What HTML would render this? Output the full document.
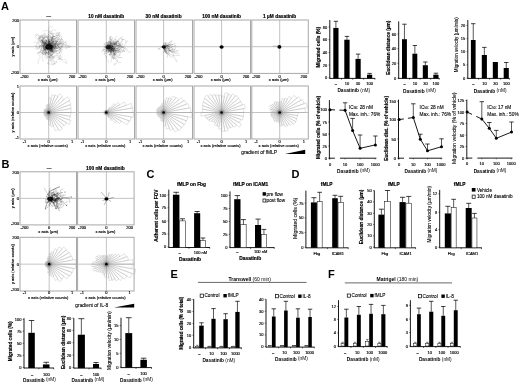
<!DOCTYPE html>
<html><head><meta charset="utf-8"><style>
html,body{margin:0;padding:0;background:#fff;}
svg{display:block;filter:blur(0.25px);}
text{font-family:"Liberation Sans", sans-serif;}
</style></head><body>
<svg width="520" height="384" viewBox="0 0 520 384" font-family='"Liberation Sans", sans-serif'>
<defs><clipPath id="ca0"><rect x="20.00" y="20.00" width="56.50" height="53.40"/></clipPath><clipPath id="ca1"><rect x="78.00" y="20.00" width="56.50" height="53.40"/></clipPath><clipPath id="ca2"><rect x="136.00" y="20.00" width="56.50" height="53.40"/></clipPath><clipPath id="ca3"><rect x="194.00" y="20.00" width="56.50" height="53.40"/></clipPath><clipPath id="ca4"><rect x="251.80" y="20.00" width="56.50" height="53.40"/></clipPath><clipPath id="cb0"><rect x="20.00" y="171.80" width="56.50" height="53.10"/></clipPath><clipPath id="cb1"><rect x="77.60" y="171.80" width="56.50" height="53.10"/></clipPath></defs>
<rect width="520" height="384" fill="#fff"/>
<text x="1.00" y="5.90" font-size="11" text-anchor="start" font-weight="bold" fill="#000" dominant-baseline="central">A</text>
<text x="1.60" y="164.40" font-size="11" text-anchor="start" font-weight="bold" fill="#000" dominant-baseline="central">B</text>
<text x="146.60" y="174.10" font-size="11" text-anchor="start" font-weight="bold" fill="#000" dominant-baseline="central">C</text>
<text x="291.60" y="173.90" font-size="11" text-anchor="start" font-weight="bold" fill="#000" dominant-baseline="central">D</text>
<text x="170.40" y="274.00" font-size="11" text-anchor="start" font-weight="bold" fill="#000" dominant-baseline="central">E</text>
<text x="328.10" y="273.90" font-size="11" text-anchor="start" font-weight="bold" fill="#000" dominant-baseline="central">F</text>
<rect x="20.00" y="20.00" width="56.50" height="53.40" fill="none" stroke="#a8a8a8" stroke-width="1.0"/>
<line x1="20.00" y1="46.70" x2="76.50" y2="46.70" stroke="#9a9a9a" stroke-width="0.6"/>
<line x1="48.70" y1="20.00" x2="48.70" y2="73.40" stroke="#9a9a9a" stroke-width="0.6"/>
<text x="48.70" y="15.90" font-size="5.2" text-anchor="middle" font-weight="bold" fill="#000" stroke="#000" stroke-width="0.18" dominant-baseline="central" textLength="4.8" lengthAdjust="spacingAndGlyphs">—</text>
<text x="24.50" y="76.00" font-size="4.0" text-anchor="middle" fill="#000" stroke="#000" stroke-width="0.15" dominant-baseline="central">-200</text>
<text x="48.70" y="76.00" font-size="4.0" text-anchor="middle" fill="#000" stroke="#000" stroke-width="0.15" dominant-baseline="central">0</text>
<text x="72.00" y="76.00" font-size="4.0" text-anchor="middle" fill="#000" stroke="#000" stroke-width="0.15" dominant-baseline="central">200</text>
<text x="47.70" y="79.90" font-size="4.05" text-anchor="middle" fill="#000" stroke="#000" stroke-width="0.15" dominant-baseline="central">x axis (µm)</text>
<rect x="20.00" y="86.00" width="56.50" height="53.00" fill="none" stroke="#a8a8a8" stroke-width="1.0"/>
<line x1="20.00" y1="112.50" x2="76.50" y2="112.50" stroke="#9a9a9a" stroke-width="0.6"/>
<line x1="48.70" y1="86.00" x2="48.70" y2="139.00" stroke="#9a9a9a" stroke-width="0.6"/>
<text x="24.50" y="141.80" font-size="4.0" text-anchor="middle" fill="#000" stroke="#000" stroke-width="0.15" dominant-baseline="central">-1</text>
<text x="48.70" y="141.80" font-size="4.0" text-anchor="middle" fill="#000" stroke="#000" stroke-width="0.15" dominant-baseline="central">0</text>
<text x="72.00" y="141.80" font-size="4.0" text-anchor="middle" fill="#000" stroke="#000" stroke-width="0.15" dominant-baseline="central">1</text>
<text x="47.70" y="145.60" font-size="4.05" text-anchor="middle" fill="#000" stroke="#000" stroke-width="0.15" dominant-baseline="central">x axis (relative counts)</text>
<path d="M48.7 112.5 L44.05 112.50 A4.65 4.65 0 0 0 44.12 113.31 Z M48.7 112.5 L43.82 113.36 A4.95 4.95 0 0 0 44.04 114.19 Z M48.7 112.5 L43.75 114.30 A5.27 5.27 0 0 0 44.14 115.14 Z M48.7 112.5 L44.19 115.10 A5.21 5.21 0 0 0 44.71 115.85 Z M48.7 112.5 L44.69 115.86 A5.23 5.23 0 0 0 45.34 116.51 Z M48.7 112.5 L45.53 116.28 A4.93 4.93 0 0 0 46.23 116.77 Z M48.7 112.5 L45.73 117.64 A5.94 5.94 0 0 0 46.67 118.08 Z M48.7 112.5 L46.36 118.93 A6.84 6.84 0 0 0 47.51 119.24 Z M48.7 112.5 L47.43 119.72 A7.33 7.33 0 0 0 48.70 119.83 Z M48.7 112.5 L48.70 125.06 A12.56 12.56 0 0 0 50.88 124.86 Z M48.7 112.5 L51.23 126.83 A14.55 14.55 0 0 0 53.68 126.18 Z M48.7 112.5 L55.39 130.88 A19.56 19.56 0 0 0 58.48 129.44 Z M48.7 112.5 L59.32 130.90 A21.24 21.24 0 0 0 62.36 128.77 Z M48.7 112.5 L61.44 127.69 A19.82 19.82 0 0 0 63.89 125.24 Z M48.7 112.5 L64.54 125.79 A20.68 20.68 0 0 0 66.61 122.84 Z M48.7 112.5 L69.23 124.35 A23.71 23.71 0 0 0 70.98 120.61 Z M48.7 112.5 L69.25 119.98 A21.87 21.87 0 0 0 70.24 116.30 Z M48.7 112.5 L70.59 116.36 A22.22 22.22 0 0 0 70.92 112.50 Z M48.7 112.5 L71.09 112.50 A22.39 22.39 0 0 0 70.75 108.61 Z M48.7 112.5 L71.25 108.52 A22.90 22.90 0 0 0 70.22 104.67 Z M48.7 112.5 L70.98 104.39 A23.71 23.71 0 0 0 69.23 100.65 Z M48.7 112.5 L69.87 100.28 A24.45 24.45 0 0 0 67.43 96.78 Z M48.7 112.5 L64.04 99.63 A20.02 20.02 0 0 0 61.57 97.16 Z M48.7 112.5 L62.55 95.99 A21.55 21.55 0 0 0 59.48 93.84 Z M48.7 112.5 L57.93 96.52 A18.45 18.45 0 0 0 55.01 95.16 Z M48.7 112.5 L54.89 95.50 A18.09 18.09 0 0 0 51.84 94.68 Z M48.7 112.5 L51.22 98.18 A14.54 14.54 0 0 0 48.70 97.96 Z M48.7 112.5 L48.70 104.11 A8.39 8.39 0 0 0 47.24 104.24 Z M48.7 112.5 L47.38 105.00 A7.62 7.62 0 0 0 46.09 105.34 Z M48.7 112.5 L46.87 107.46 A5.36 5.36 0 0 0 46.02 107.85 Z M48.7 112.5 L46.45 108.60 A4.51 4.51 0 0 0 45.80 109.05 Z M48.7 112.5 L45.55 108.75 A4.90 4.90 0 0 0 44.95 109.35 Z M48.7 112.5 L44.66 109.11 A5.27 5.27 0 0 0 44.13 109.86 Z M48.7 112.5 L44.31 109.97 A5.07 5.07 0 0 0 43.94 110.77 Z M48.7 112.5 L44.29 110.90 A4.69 4.69 0 0 0 44.08 111.69 Z M48.7 112.5 L43.44 111.57 A5.34 5.34 0 0 0 43.36 112.50 Z" stroke="#a0a0a0" stroke-width="0.3" fill="none" stroke-linejoin="round"/>
<circle cx="48.7" cy="112.5" r="3.0" fill="#000" fill-opacity="0.12"/>
<circle cx="48.7" cy="112.5" r="1.35" fill="#000"/>
<rect x="78.00" y="20.00" width="56.50" height="53.40" fill="none" stroke="#a8a8a8" stroke-width="1.0"/>
<line x1="78.00" y1="46.70" x2="134.50" y2="46.70" stroke="#9a9a9a" stroke-width="0.6"/>
<line x1="106.30" y1="20.00" x2="106.30" y2="73.40" stroke="#9a9a9a" stroke-width="0.6"/>
<text x="106.30" y="15.90" font-size="5.2" text-anchor="middle" font-weight="bold" fill="#000" stroke="#000" stroke-width="0.18" dominant-baseline="central" textLength="36.0" lengthAdjust="spacingAndGlyphs">10 nM dasatinib</text>
<text x="82.50" y="76.00" font-size="4.0" text-anchor="middle" fill="#000" stroke="#000" stroke-width="0.15" dominant-baseline="central">-200</text>
<text x="106.30" y="76.00" font-size="4.0" text-anchor="middle" fill="#000" stroke="#000" stroke-width="0.15" dominant-baseline="central">0</text>
<text x="130.00" y="76.00" font-size="4.0" text-anchor="middle" fill="#000" stroke="#000" stroke-width="0.15" dominant-baseline="central">200</text>
<text x="105.30" y="79.90" font-size="4.05" text-anchor="middle" fill="#000" stroke="#000" stroke-width="0.15" dominant-baseline="central">x axis (µm)</text>
<rect x="78.00" y="86.00" width="56.50" height="53.00" fill="none" stroke="#a8a8a8" stroke-width="1.0"/>
<line x1="78.00" y1="112.50" x2="134.50" y2="112.50" stroke="#9a9a9a" stroke-width="0.6"/>
<line x1="106.30" y1="86.00" x2="106.30" y2="139.00" stroke="#9a9a9a" stroke-width="0.6"/>
<text x="82.50" y="141.80" font-size="4.0" text-anchor="middle" fill="#000" stroke="#000" stroke-width="0.15" dominant-baseline="central">-1</text>
<text x="106.30" y="141.80" font-size="4.0" text-anchor="middle" fill="#000" stroke="#000" stroke-width="0.15" dominant-baseline="central">0</text>
<text x="130.00" y="141.80" font-size="4.0" text-anchor="middle" fill="#000" stroke="#000" stroke-width="0.15" dominant-baseline="central">1</text>
<text x="105.30" y="145.60" font-size="4.05" text-anchor="middle" fill="#000" stroke="#000" stroke-width="0.15" dominant-baseline="central">x axis (relative counts)</text>
<path d="M106.3 112.5 L104.75 112.50 A1.55 1.55 0 0 0 104.78 112.77 Z M106.3 112.5 L104.85 112.76 A1.47 1.47 0 0 0 104.92 113.00 Z M106.3 112.5 L104.64 113.10 A1.76 1.76 0 0 0 104.77 113.38 Z M106.3 112.5 L104.74 113.40 A1.80 1.80 0 0 0 104.92 113.66 Z M106.3 112.5 L105.00 113.59 A1.69 1.69 0 0 0 105.21 113.80 Z M106.3 112.5 L105.14 113.88 A1.81 1.81 0 0 0 105.40 114.07 Z M106.3 112.5 L105.45 113.97 A1.69 1.69 0 0 0 105.72 114.09 Z M106.3 112.5 L105.71 114.13 A1.74 1.74 0 0 0 106.00 114.21 Z M106.3 112.5 L105.99 114.28 A1.81 1.81 0 0 0 106.30 114.31 Z M106.3 112.5 L106.30 114.51 A2.01 2.01 0 0 0 106.65 114.48 Z M106.3 112.5 L106.62 114.34 A1.86 1.86 0 0 0 106.94 114.25 Z M106.3 112.5 L108.17 117.64 A5.47 5.47 0 0 0 109.04 117.24 Z M106.3 112.5 L110.87 120.42 A9.14 9.14 0 0 0 112.18 119.50 Z M106.3 112.5 L115.05 122.93 A13.61 13.61 0 0 0 116.73 121.25 Z M106.3 112.5 L119.66 123.71 A17.44 17.44 0 0 0 121.40 121.22 Z M106.3 112.5 L127.29 124.62 A24.24 24.24 0 0 0 129.08 120.79 Z M106.3 112.5 L130.08 121.16 A25.31 25.31 0 0 0 131.22 116.89 Z M106.3 112.5 L133.23 117.25 A27.34 27.34 0 0 0 133.64 112.50 Z M106.3 112.5 L133.08 112.50 A26.78 26.78 0 0 0 132.68 107.85 Z M106.3 112.5 L132.36 107.91 A26.46 26.46 0 0 0 131.16 103.45 Z M106.3 112.5 L126.12 105.29 A21.09 21.09 0 0 0 124.56 101.96 Z M106.3 112.5 L119.76 104.73 A15.54 15.54 0 0 0 118.20 102.51 Z M106.3 112.5 L115.36 104.89 A11.83 11.83 0 0 0 113.91 103.44 Z M106.3 112.5 L110.31 107.72 A6.25 6.25 0 0 0 109.42 107.09 Z M106.3 112.5 L107.45 110.50 A2.31 2.31 0 0 0 107.09 110.33 Z M106.3 112.5 L107.02 110.52 A2.11 2.11 0 0 0 106.67 110.43 Z M106.3 112.5 L106.65 110.53 A2.00 2.00 0 0 0 106.30 110.50 Z M106.3 112.5 L106.30 110.55 A1.95 1.95 0 0 0 105.96 110.58 Z M106.3 112.5 L105.96 110.55 A1.98 1.98 0 0 0 105.62 110.64 Z M106.3 112.5 L105.70 110.85 A1.76 1.76 0 0 0 105.42 110.98 Z M106.3 112.5 L105.45 111.02 A1.71 1.71 0 0 0 105.20 111.19 Z M106.3 112.5 L105.22 111.21 A1.68 1.68 0 0 0 105.01 111.42 Z M106.3 112.5 L105.05 111.45 A1.63 1.63 0 0 0 104.89 111.69 Z M106.3 112.5 L104.86 111.67 A1.67 1.67 0 0 0 104.73 111.93 Z M106.3 112.5 L104.97 112.02 A1.41 1.41 0 0 0 104.91 112.25 Z M106.3 112.5 L104.81 112.24 A1.51 1.51 0 0 0 104.79 112.50 Z" stroke="#a0a0a0" stroke-width="0.3" fill="none" stroke-linejoin="round"/>
<circle cx="106.3" cy="112.5" r="3.0" fill="#000" fill-opacity="0.12"/>
<circle cx="106.3" cy="112.5" r="1.35" fill="#000"/>
<rect x="136.00" y="20.00" width="56.50" height="53.40" fill="none" stroke="#a8a8a8" stroke-width="1.0"/>
<line x1="136.00" y1="46.70" x2="192.50" y2="46.70" stroke="#9a9a9a" stroke-width="0.6"/>
<line x1="163.60" y1="20.00" x2="163.60" y2="73.40" stroke="#9a9a9a" stroke-width="0.6"/>
<text x="163.60" y="15.90" font-size="5.2" text-anchor="middle" font-weight="bold" fill="#000" stroke="#000" stroke-width="0.18" dominant-baseline="central" textLength="36.0" lengthAdjust="spacingAndGlyphs">30 nM dasatinib</text>
<text x="140.50" y="76.00" font-size="4.0" text-anchor="middle" fill="#000" stroke="#000" stroke-width="0.15" dominant-baseline="central">-200</text>
<text x="163.60" y="76.00" font-size="4.0" text-anchor="middle" fill="#000" stroke="#000" stroke-width="0.15" dominant-baseline="central">0</text>
<text x="188.00" y="76.00" font-size="4.0" text-anchor="middle" fill="#000" stroke="#000" stroke-width="0.15" dominant-baseline="central">200</text>
<text x="162.60" y="79.90" font-size="4.05" text-anchor="middle" fill="#000" stroke="#000" stroke-width="0.15" dominant-baseline="central">x axis (µm)</text>
<rect x="136.00" y="86.00" width="56.50" height="53.00" fill="none" stroke="#a8a8a8" stroke-width="1.0"/>
<line x1="136.00" y1="112.50" x2="192.50" y2="112.50" stroke="#9a9a9a" stroke-width="0.6"/>
<line x1="163.60" y1="86.00" x2="163.60" y2="139.00" stroke="#9a9a9a" stroke-width="0.6"/>
<text x="140.50" y="141.80" font-size="4.0" text-anchor="middle" fill="#000" stroke="#000" stroke-width="0.15" dominant-baseline="central">-1</text>
<text x="163.60" y="141.80" font-size="4.0" text-anchor="middle" fill="#000" stroke="#000" stroke-width="0.15" dominant-baseline="central">0</text>
<text x="188.00" y="141.80" font-size="4.0" text-anchor="middle" fill="#000" stroke="#000" stroke-width="0.15" dominant-baseline="central">1</text>
<text x="162.60" y="145.60" font-size="4.05" text-anchor="middle" fill="#000" stroke="#000" stroke-width="0.15" dominant-baseline="central">x axis (relative counts)</text>
<path d="M163.6 112.5 L157.17 112.50 A6.43 6.43 0 0 0 157.27 113.62 Z M163.6 112.5 L156.80 113.70 A6.91 6.91 0 0 0 157.11 114.86 Z M163.6 112.5 L157.82 114.60 A6.15 6.15 0 0 0 158.28 115.57 Z M163.6 112.5 L157.81 115.84 A6.69 6.69 0 0 0 158.48 116.80 Z M163.6 112.5 L158.71 116.60 A6.38 6.38 0 0 0 159.50 117.39 Z M163.6 112.5 L159.78 117.05 A5.94 5.94 0 0 0 160.63 117.65 Z M163.6 112.5 L160.12 118.53 A6.96 6.96 0 0 0 161.22 119.04 Z M163.6 112.5 L160.69 120.50 A8.51 8.51 0 0 0 162.12 120.88 Z M163.6 112.5 L162.02 121.45 A9.09 9.09 0 0 0 163.60 121.59 Z M163.6 112.5 L163.60 125.78 A13.28 13.28 0 0 0 165.91 125.58 Z M163.6 112.5 L166.52 129.04 A16.79 16.79 0 0 0 169.34 128.28 Z M163.6 112.5 L170.12 130.42 A19.07 19.07 0 0 0 173.14 129.02 Z M163.6 112.5 L174.90 132.07 A22.59 22.59 0 0 0 178.12 129.81 Z M163.6 112.5 L178.91 130.75 A23.82 23.82 0 0 0 181.85 127.81 Z M163.6 112.5 L181.72 127.70 A23.65 23.65 0 0 0 184.08 124.33 Z M163.6 112.5 L184.48 124.55 A24.11 24.11 0 0 0 186.25 120.75 Z M163.6 112.5 L186.65 120.89 A24.53 24.53 0 0 0 187.76 116.76 Z M163.6 112.5 L191.58 117.43 A28.41 28.41 0 0 0 192.01 112.50 Z M163.6 112.5 L190.85 112.50 A27.25 27.25 0 0 0 190.43 107.77 Z M163.6 112.5 L189.26 107.98 A26.06 26.06 0 0 0 188.09 103.59 Z M163.6 112.5 L186.35 104.22 A24.21 24.21 0 0 0 184.57 100.39 Z M163.6 112.5 L183.52 101.00 A23.00 23.00 0 0 0 181.22 97.71 Z M163.6 112.5 L178.79 99.75 A19.83 19.83 0 0 0 176.35 97.31 Z M163.6 112.5 L175.89 97.86 A19.12 19.12 0 0 0 173.16 95.95 Z M163.6 112.5 L171.50 98.82 A15.79 15.79 0 0 0 169.00 97.66 Z M163.6 112.5 L168.68 98.54 A14.85 14.85 0 0 0 166.18 97.87 Z M163.6 112.5 L165.65 100.88 A11.80 11.80 0 0 0 163.60 100.70 Z M163.6 112.5 L163.60 102.68 A9.82 9.82 0 0 0 161.89 102.83 Z M163.6 112.5 L162.20 104.55 A8.07 8.07 0 0 0 160.84 104.92 Z M163.6 112.5 L161.24 106.03 A6.89 6.89 0 0 0 160.16 106.53 Z M163.6 112.5 L160.22 106.64 A6.77 6.77 0 0 0 159.25 107.32 Z M163.6 112.5 L158.93 106.94 A7.26 7.26 0 0 0 158.04 107.83 Z M163.6 112.5 L158.23 107.99 A7.01 7.01 0 0 0 157.53 108.99 Z M163.6 112.5 L157.24 108.83 A7.35 7.35 0 0 0 156.70 109.99 Z M163.6 112.5 L157.11 110.14 A6.90 6.90 0 0 0 156.80 111.30 Z M163.6 112.5 L156.85 111.31 A6.86 6.86 0 0 0 156.74 112.50 Z" stroke="#a0a0a0" stroke-width="0.3" fill="none" stroke-linejoin="round"/>
<circle cx="163.6" cy="112.5" r="3.0" fill="#000" fill-opacity="0.12"/>
<circle cx="163.6" cy="112.5" r="1.35" fill="#000"/>
<rect x="194.00" y="20.00" width="56.50" height="53.40" fill="none" stroke="#a8a8a8" stroke-width="1.0"/>
<line x1="194.00" y1="46.70" x2="250.50" y2="46.70" stroke="#9a9a9a" stroke-width="0.6"/>
<line x1="221.60" y1="20.00" x2="221.60" y2="73.40" stroke="#9a9a9a" stroke-width="0.6"/>
<text x="221.60" y="15.90" font-size="5.2" text-anchor="middle" font-weight="bold" fill="#000" stroke="#000" stroke-width="0.18" dominant-baseline="central" textLength="38.7" lengthAdjust="spacingAndGlyphs">100 nM dasatinib</text>
<text x="198.50" y="76.00" font-size="4.0" text-anchor="middle" fill="#000" stroke="#000" stroke-width="0.15" dominant-baseline="central">-200</text>
<text x="221.60" y="76.00" font-size="4.0" text-anchor="middle" fill="#000" stroke="#000" stroke-width="0.15" dominant-baseline="central">0</text>
<text x="246.00" y="76.00" font-size="4.0" text-anchor="middle" fill="#000" stroke="#000" stroke-width="0.15" dominant-baseline="central">200</text>
<text x="220.60" y="79.90" font-size="4.05" text-anchor="middle" fill="#000" stroke="#000" stroke-width="0.15" dominant-baseline="central">x axis (µm)</text>
<rect x="194.00" y="86.00" width="56.50" height="53.00" fill="none" stroke="#a8a8a8" stroke-width="1.0"/>
<line x1="194.00" y1="112.50" x2="250.50" y2="112.50" stroke="#9a9a9a" stroke-width="0.6"/>
<line x1="221.60" y1="86.00" x2="221.60" y2="139.00" stroke="#9a9a9a" stroke-width="0.6"/>
<text x="198.50" y="141.80" font-size="4.0" text-anchor="middle" fill="#000" stroke="#000" stroke-width="0.15" dominant-baseline="central">-1</text>
<text x="221.60" y="141.80" font-size="4.0" text-anchor="middle" fill="#000" stroke="#000" stroke-width="0.15" dominant-baseline="central">0</text>
<text x="246.00" y="141.80" font-size="4.0" text-anchor="middle" fill="#000" stroke="#000" stroke-width="0.15" dominant-baseline="central">1</text>
<text x="220.60" y="145.60" font-size="4.05" text-anchor="middle" fill="#000" stroke="#000" stroke-width="0.15" dominant-baseline="central">x axis (relative counts)</text>
<path d="M221.6 112.5 L200.78 112.50 A20.82 20.82 0 0 0 201.10 116.12 Z M221.6 112.5 L205.00 115.43 A16.85 16.85 0 0 0 205.76 118.26 Z M221.6 112.5 L206.89 117.85 A15.66 15.66 0 0 0 208.04 120.33 Z M221.6 112.5 L209.06 119.74 A14.48 14.48 0 0 0 210.51 121.81 Z M221.6 112.5 L211.85 120.68 A12.73 12.73 0 0 0 213.42 122.25 Z M221.6 112.5 L213.85 121.74 A12.06 12.06 0 0 0 215.57 122.94 Z M221.6 112.5 L214.56 124.70 A14.08 14.08 0 0 0 216.78 125.73 Z M221.6 112.5 L216.73 125.88 A14.24 14.24 0 0 0 219.13 126.52 Z M221.6 112.5 L218.72 128.85 A16.60 16.60 0 0 0 221.60 129.10 Z M221.6 112.5 L221.60 131.26 A18.76 18.76 0 0 0 224.86 130.97 Z M221.6 112.5 L224.92 131.33 A19.12 19.12 0 0 0 228.14 130.47 Z M221.6 112.5 L227.44 128.56 A17.09 17.09 0 0 0 230.14 127.30 Z M221.6 112.5 L230.54 127.98 A17.87 17.87 0 0 0 233.09 126.19 Z M221.6 112.5 L234.05 127.33 A19.36 19.36 0 0 0 236.43 124.95 Z M221.6 112.5 L239.15 127.23 A22.91 22.91 0 0 0 241.44 123.96 Z M221.6 112.5 L239.23 122.68 A20.36 20.36 0 0 0 240.73 119.46 Z M221.6 112.5 L242.47 120.10 A22.21 22.21 0 0 0 243.47 116.36 Z M221.6 112.5 L243.38 116.34 A22.11 22.11 0 0 0 243.71 112.50 Z M221.6 112.5 L243.81 112.50 A22.21 22.21 0 0 0 243.48 108.64 Z M221.6 112.5 L245.35 108.31 A24.11 24.11 0 0 0 244.26 104.25 Z M221.6 112.5 L242.28 104.97 A22.01 22.01 0 0 0 240.66 101.49 Z M221.6 112.5 L240.73 101.45 A22.09 22.09 0 0 0 238.52 98.30 Z M221.6 112.5 L238.84 98.04 A22.50 22.50 0 0 0 236.06 95.26 Z M221.6 112.5 L235.43 96.02 A21.52 21.52 0 0 0 232.36 93.86 Z M221.6 112.5 L231.33 95.64 A19.46 19.46 0 0 0 228.26 94.21 Z M221.6 112.5 L228.47 93.62 A20.09 20.09 0 0 0 225.09 92.72 Z M221.6 112.5 L224.48 96.18 A16.57 16.57 0 0 0 221.60 95.93 Z M221.6 112.5 L221.60 95.10 A17.40 17.40 0 0 0 218.58 95.36 Z M221.6 112.5 L218.47 94.73 A18.05 18.05 0 0 0 215.43 95.54 Z M221.6 112.5 L215.01 94.38 A19.28 19.28 0 0 0 211.96 95.80 Z M221.6 112.5 L211.13 94.37 A20.93 20.93 0 0 0 208.15 96.47 Z M221.6 112.5 L206.90 94.98 A22.87 22.87 0 0 0 204.08 97.80 Z M221.6 112.5 L205.13 98.68 A21.50 21.50 0 0 0 202.98 101.75 Z M221.6 112.5 L203.51 102.05 A20.89 20.89 0 0 0 201.97 105.35 Z M221.6 112.5 L203.21 105.81 A19.57 19.57 0 0 0 202.32 109.10 Z M221.6 112.5 L202.58 109.15 A19.32 19.32 0 0 0 202.28 112.50 Z" stroke="#a0a0a0" stroke-width="0.3" fill="none" stroke-linejoin="round"/>
<circle cx="221.6" cy="112.5" r="3.0" fill="#000" fill-opacity="0.12"/>
<circle cx="221.6" cy="112.5" r="1.35" fill="#000"/>
<rect x="251.80" y="20.00" width="56.50" height="53.40" fill="none" stroke="#a8a8a8" stroke-width="1.0"/>
<line x1="251.80" y1="46.70" x2="308.30" y2="46.70" stroke="#9a9a9a" stroke-width="0.6"/>
<line x1="279.70" y1="20.00" x2="279.70" y2="73.40" stroke="#9a9a9a" stroke-width="0.6"/>
<text x="279.70" y="15.90" font-size="5.2" text-anchor="middle" font-weight="bold" fill="#000" stroke="#000" stroke-width="0.18" dominant-baseline="central" textLength="33.2" lengthAdjust="spacingAndGlyphs">1 µM dasatinib</text>
<text x="256.30" y="76.00" font-size="4.0" text-anchor="middle" fill="#000" stroke="#000" stroke-width="0.15" dominant-baseline="central">-200</text>
<text x="279.70" y="76.00" font-size="4.0" text-anchor="middle" fill="#000" stroke="#000" stroke-width="0.15" dominant-baseline="central">0</text>
<text x="303.80" y="76.00" font-size="4.0" text-anchor="middle" fill="#000" stroke="#000" stroke-width="0.15" dominant-baseline="central">200</text>
<text x="278.70" y="79.90" font-size="4.05" text-anchor="middle" fill="#000" stroke="#000" stroke-width="0.15" dominant-baseline="central">x axis (µm)</text>
<rect x="251.80" y="86.00" width="56.50" height="53.00" fill="none" stroke="#a8a8a8" stroke-width="1.0"/>
<line x1="251.80" y1="112.50" x2="308.30" y2="112.50" stroke="#9a9a9a" stroke-width="0.6"/>
<line x1="279.70" y1="86.00" x2="279.70" y2="139.00" stroke="#9a9a9a" stroke-width="0.6"/>
<text x="256.30" y="141.80" font-size="4.0" text-anchor="middle" fill="#000" stroke="#000" stroke-width="0.15" dominant-baseline="central">-1</text>
<text x="279.70" y="141.80" font-size="4.0" text-anchor="middle" fill="#000" stroke="#000" stroke-width="0.15" dominant-baseline="central">0</text>
<text x="303.80" y="141.80" font-size="4.0" text-anchor="middle" fill="#000" stroke="#000" stroke-width="0.15" dominant-baseline="central">1</text>
<text x="278.70" y="145.60" font-size="4.05" text-anchor="middle" fill="#000" stroke="#000" stroke-width="0.15" dominant-baseline="central">x axis (relative counts)</text>
<path d="M279.7 112.5 L270.83 112.50 A8.87 8.87 0 0 0 270.96 114.04 Z M279.7 112.5 L270.84 114.06 A9.00 9.00 0 0 0 271.24 115.58 Z M279.7 112.5 L271.22 115.59 A9.03 9.03 0 0 0 271.88 117.01 Z M279.7 112.5 L272.43 116.70 A8.39 8.39 0 0 0 273.27 117.89 Z M279.7 112.5 L272.95 118.17 A8.82 8.82 0 0 0 274.03 119.25 Z M279.7 112.5 L273.42 119.99 A9.78 9.78 0 0 0 274.81 120.97 Z M279.7 112.5 L274.59 121.35 A10.22 10.22 0 0 0 276.21 122.10 Z M279.7 112.5 L276.65 120.88 A8.92 8.92 0 0 0 278.15 121.29 Z M279.7 112.5 L277.95 122.43 A10.08 10.08 0 0 0 279.70 122.58 Z M279.7 112.5 L279.70 125.88 A13.38 13.38 0 0 0 282.02 125.68 Z M279.7 112.5 L281.95 125.23 A12.93 12.93 0 0 0 284.12 124.65 Z M279.7 112.5 L284.92 126.84 A15.26 15.26 0 0 0 287.33 125.72 Z M279.7 112.5 L287.23 125.55 A15.07 15.07 0 0 0 289.39 124.04 Z M279.7 112.5 L290.55 125.43 A16.88 16.88 0 0 0 292.63 123.35 Z M279.7 112.5 L293.83 124.36 A18.45 18.45 0 0 0 295.67 121.72 Z M279.7 112.5 L295.54 121.65 A18.29 18.29 0 0 0 296.89 118.76 Z M279.7 112.5 L296.71 118.69 A18.10 18.10 0 0 0 297.52 115.64 Z M279.7 112.5 L297.75 115.68 A18.32 18.32 0 0 0 298.02 112.50 Z M279.7 112.5 L305.31 112.50 A25.61 25.61 0 0 0 304.92 108.05 Z M279.7 112.5 L307.48 107.60 A28.21 28.21 0 0 0 306.20 102.85 Z M279.7 112.5 L304.15 103.60 A26.02 26.02 0 0 0 302.23 99.49 Z M279.7 112.5 L300.99 100.21 A24.58 24.58 0 0 0 298.53 96.70 Z M279.7 112.5 L296.87 98.09 A22.41 22.41 0 0 0 294.11 95.33 Z M279.7 112.5 L291.63 98.28 A18.56 18.56 0 0 0 288.98 96.43 Z M279.7 112.5 L287.42 99.13 A15.44 15.44 0 0 0 284.98 97.99 Z M279.7 112.5 L284.55 99.16 A14.19 14.19 0 0 0 282.16 98.52 Z M279.7 112.5 L281.62 101.63 A11.04 11.04 0 0 0 279.70 101.46 Z M279.7 112.5 L279.70 102.30 A10.20 10.20 0 0 0 277.93 102.46 Z M279.7 112.5 L277.79 101.64 A11.03 11.03 0 0 0 275.93 102.14 Z M279.7 112.5 L275.76 101.69 A11.51 11.51 0 0 0 273.95 102.53 Z M279.7 112.5 L274.47 103.45 A10.45 10.45 0 0 0 272.98 104.49 Z M279.7 112.5 L272.75 104.22 A10.81 10.81 0 0 0 271.42 105.55 Z M279.7 112.5 L270.56 104.83 A11.93 11.93 0 0 0 269.37 106.53 Z M279.7 112.5 L271.30 107.65 A9.70 9.70 0 0 0 270.59 109.18 Z M279.7 112.5 L270.41 109.12 A9.88 9.88 0 0 0 269.97 110.78 Z M279.7 112.5 L271.99 111.14 A7.83 7.83 0 0 0 271.87 112.50 Z" stroke="#a0a0a0" stroke-width="0.3" fill="none" stroke-linejoin="round"/>
<circle cx="279.7" cy="112.5" r="3.0" fill="#000" fill-opacity="0.12"/>
<circle cx="279.7" cy="112.5" r="1.35" fill="#000"/>
<text x="19.00" y="20.50" font-size="4.0" text-anchor="end" fill="#000" stroke="#000" stroke-width="0.15" dominant-baseline="central">200</text>
<text x="19.00" y="46.70" font-size="4.0" text-anchor="end" fill="#000" stroke="#000" stroke-width="0.15" dominant-baseline="central">0</text>
<text x="19.00" y="72.10" font-size="4.0" text-anchor="end" fill="#000" stroke="#000" stroke-width="0.15" dominant-baseline="central">-200</text>
<text x="12.40" y="46.70" font-size="4.0" text-anchor="middle" transform="rotate(-90 12.40 46.70)" fill="#000" stroke="#000" stroke-width="0.15" dominant-baseline="central">y axis (µm)</text>
<text x="19.00" y="86.50" font-size="4.0" text-anchor="end" fill="#000" stroke="#000" stroke-width="0.15" dominant-baseline="central">1</text>
<text x="19.00" y="112.50" font-size="4.0" text-anchor="end" fill="#000" stroke="#000" stroke-width="0.15" dominant-baseline="central">0</text>
<text x="19.00" y="137.70" font-size="4.0" text-anchor="end" fill="#000" stroke="#000" stroke-width="0.15" dominant-baseline="central">-1</text>
<text x="12.40" y="112.50" font-size="4.0" text-anchor="middle" transform="rotate(-90 12.40 112.50)" fill="#000" stroke="#000" stroke-width="0.15" dominant-baseline="central">y axis (relative counts)</text>
<path d="M54.9 51.5 L53.7 50.6 L52.6 49.6 L51.4 50.1 L52.0 51.4 L52.3 52.8 L52.4 54.2 L51.7 55.3 L52.3 56.6 M49.7 45.4 L48.4 45.4 L49.6 44.2 L51.0 43.3 L52.3 42.1 L53.7 42.8 L55.0 43.6 L55.1 45.0 L55.7 46.3 L56.0 47.7 L54.9 48.5 L53.6 48.3 L52.3 47.9 L51.5 48.9 L50.3 49.5 L49.0 49.9 L47.8 49.3 L46.7 48.3 M54.1 45.5 L55.2 44.3 L55.9 42.7 L55.8 41.1 L57.4 41.4 L59.0 41.5 L60.2 42.5 L60.6 43.9 L61.3 45.1 L62.9 44.4 L64.3 45.1 L65.9 45.3 L67.0 46.3 L68.5 45.6 M47.9 50.7 L47.4 49.3 L46.8 47.9 L47.2 46.3 L47.8 44.8 L48.9 43.4 L48.5 41.9 L49.0 40.3 L50.7 39.9 L52.0 38.9 L51.4 37.5 L50.2 36.9 L49.6 35.4 L48.6 36.3 L47.6 37.2 L48.0 38.5 L48.6 39.8 L49.6 41.0 L50.5 42.2 L49.4 42.9 L48.1 43.1 M55.0 45.1 L56.6 44.5 L58.1 43.8 L59.7 43.3 L60.0 41.7 L61.0 40.3 L61.1 38.7 M39.9 44.8 L38.6 44.2 L38.8 42.6 L39.1 41.0 L39.4 39.4 L40.2 37.9 L38.9 37.5 L38.9 35.8 L37.7 35.1 L36.9 33.9 L35.6 34.2 L35.3 35.5 M48.1 53.3 L47.6 51.8 L46.3 51.7 L44.9 51.7 L43.9 52.4 L42.5 52.1 L42.2 53.4 L42.4 54.8 M46.3 42.8 L47.6 43.7 L47.2 45.0 L45.8 45.0 L45.7 46.3 L44.9 47.4 L46.4 48.0 L47.9 48.5 M57.4 44.9 L59.0 44.4 L60.6 43.9 L61.5 42.6 L63.2 42.6 M53.3 44.9 L53.8 46.2 L53.7 47.5 L52.8 48.4 L52.1 49.6 L53.0 50.8 L54.4 51.5 L54.5 52.9 L53.4 53.5 L52.1 54.0 L51.5 55.2 L50.5 56.0 L49.8 54.6 L51.0 53.4 M47.0 45.5 L46.1 44.3 L45.3 43.0 L45.9 41.4 L47.5 41.3 L48.7 42.2 L48.1 43.4 L48.2 44.8 L49.7 45.3 L50.7 46.4 L49.6 45.6 L48.7 44.3 L47.4 44.7 L46.1 44.7 L45.9 43.1 L44.7 42.5 L44.2 41.0 L43.0 40.1 L43.5 38.6 L44.9 37.6 M50.9 53.7 L51.1 55.1 L52.5 55.9 L51.2 56.2 L50.0 56.6 L49.8 57.9 L49.7 59.3 L49.4 60.6 L48.8 61.8 L48.4 63.1 L47.1 63.2 L48.4 64.0 L50.1 64.0 L51.7 63.7 L51.7 65.0 L53.3 64.4 L54.6 63.4 L54.4 61.8 L53.4 60.8 L53.1 59.2 L53.5 57.6 M55.5 43.3 L56.5 44.4 L57.9 45.1 L57.8 46.5 L59.0 47.4 L57.9 48.1 L56.7 48.5 L55.5 49.1 L54.2 49.3 L53.1 48.4 L54.3 47.2 L55.4 45.9 L56.0 44.3 L57.2 43.2 L57.4 41.6 L56.0 41.7 L55.1 40.6 M48.2 50.2 L47.7 51.4 L47.0 52.6 L45.9 51.6 L45.5 50.1 L45.5 48.4 L46.3 47.0 L46.6 45.4 L47.1 43.8 L45.8 43.1 L45.1 41.8 L43.8 41.4 L42.5 41.8 L41.2 41.1 L41.0 39.6 L39.7 39.0 L40.8 37.8 L41.2 36.2 L42.6 35.2 L44.1 35.6 L45.5 36.3 L46.8 37.2 L45.7 37.9 L44.4 37.3 M51.5 38.4 L50.6 39.4 L51.0 40.7 L52.3 41.6 L53.8 42.1 L54.6 43.3 L54.9 44.7 L53.8 45.5 L53.8 46.9 L52.6 47.4 L51.9 48.5 L51.6 49.9 L50.4 49.1 L49.3 48.2 L48.0 47.5 L46.7 47.1 M48.2 51.9 L48.2 53.3 L47.0 53.9 L45.9 54.5 L44.6 54.6 L43.3 54.0 L42.1 53.3 L42.9 51.8 M56.7 51.0 L55.4 51.0 L54.2 51.6 L53.1 52.2 L52.0 51.3 L52.4 49.7 L53.9 48.8 L55.5 48.2 L57.0 47.5 L58.5 48.1 L60.0 48.6 L61.5 47.8 L62.3 46.3 L62.9 44.8 L64.0 43.5 L64.5 44.8 L66.1 44.6 L67.6 45.2 L69.2 45.6 L70.5 46.4 L70.0 47.6 L68.7 47.3 L67.3 47.3 L66.2 48.0 M44.2 45.4 L42.9 45.2 L41.9 44.1 L41.5 42.6 L42.5 41.3 L43.5 39.9 L43.2 38.3 L41.8 38.1 M53.4 44.3 L54.2 45.5 L52.9 45.7 L51.7 45.0 L50.3 45.0 L49.4 45.9 L48.1 45.2 L47.2 46.2 L47.2 47.6 L47.2 49.0 M50.5 45.8 L49.5 44.7 L50.3 43.2 L51.7 42.3 L52.7 40.9 L54.0 41.8 M41.7 46.0 L42.6 47.2 L43.9 48.1 L44.5 49.4 L45.3 50.6 L45.5 52.0 L46.0 50.4 L47.1 49.1 L47.1 47.5 L48.3 46.4 L49.9 46.2 L51.2 47.1 L52.8 47.4 M51.4 44.3 L51.8 42.7 L53.2 43.4 L53.8 44.7 L55.0 43.5 L56.7 43.5 M44.1 44.8 L43.5 45.9 L43.3 47.3 L44.8 47.7 L46.4 48.1 L47.6 48.9 L46.6 49.7 M48.0 40.9 L48.6 39.4 L48.0 37.9 L48.3 36.3 L48.6 34.7 L49.2 33.1 L48.9 31.6 L47.6 30.9 L46.3 30.6 L44.9 30.6 L43.7 31.0 L42.4 30.9 M51.9 47.9 L51.2 46.6 L51.6 45.0 L52.0 43.4 L52.6 41.8 L51.7 40.7 L50.5 39.8 L49.2 39.9 L48.5 41.1 L48.7 42.4 L50.4 42.4 M50.0 50.4 L49.7 51.7 L48.6 52.3 L48.3 50.8 L47.0 50.5 L45.6 50.6 L45.4 49.1 L45.6 47.5 M50.2 37.5 L51.3 38.5 L51.6 39.9 L52.6 41.0 L54.2 41.2 L54.4 39.6 L53.2 38.8 L53.4 37.2 L53.4 35.5 L52.0 35.2 L52.0 33.6 L50.7 33.8 L50.1 32.4 L49.1 31.3 L48.6 29.8 L49.0 28.2 L49.8 26.7 L51.4 26.8 L53.0 26.9 M48.4 43.1 L49.6 43.9 L49.8 45.3 L48.5 45.5 L49.9 44.5 L51.5 44.6 L52.9 45.3 L54.2 44.2 L55.2 42.9 L55.8 44.2 L55.7 45.6 L55.7 46.9 L55.3 48.2 M42.1 42.4 L42.4 43.7 L41.4 44.6 L40.6 45.6 L39.4 46.2 L39.5 47.6 L38.9 48.8 L37.7 49.1 L37.3 47.6 L38.8 47.0 L40.5 47.0 L42.1 46.9 L43.3 45.7 L43.7 44.1 L44.9 42.9 L46.5 42.4 L48.1 41.9 L48.4 43.3 L47.8 44.5 L47.2 45.7 L46.9 47.0 L46.4 48.2 L47.3 49.4 M45.8 47.1 L46.5 48.4 L47.4 49.5 L46.5 50.5 L45.7 51.5 L44.7 50.4 L44.2 48.9 L43.1 49.6 L42.1 48.6 L40.9 47.9 L41.0 49.3 L40.9 50.6 L40.6 51.9 L42.0 52.6 M47.3 47.9 L46.9 49.2 L45.6 49.2 L47.0 49.9 L48.7 49.5 L50.3 49.4 L49.1 48.6 L48.7 47.1 L49.7 45.7 L49.5 44.1 L48.8 42.7 L47.4 42.6 L46.1 42.5 L44.7 42.4 L43.4 42.4 L42.8 43.6 L41.8 44.4 L41.1 45.5 L39.8 45.5 L38.5 45.0 M43.8 39.9 L42.8 40.8 L41.4 40.5 L40.1 40.2 L40.2 41.6 L41.8 42.0 L42.8 43.1 L44.4 42.9 M54.1 45.3 L54.9 43.9 L54.2 45.0 L53.8 46.2 L52.7 46.9 L52.7 48.3 L53.9 49.3 L55.1 50.2 L56.3 51.2 L57.9 51.1 L59.3 51.9 M43.1 50.2 L43.7 48.6 L42.9 47.3 L42.0 48.3 L41.0 49.1 L41.2 50.5 L42.8 51.0 L44.3 50.4 L45.2 49.0 L44.7 47.5 L43.4 47.3 L43.7 45.7 L43.1 44.2 L43.9 42.8 L42.8 41.8 L42.3 40.3 L41.0 40.4 L39.8 41.1 M52.2 43.6 L52.6 44.9 L52.1 46.2 L53.0 47.3 L54.2 48.2 L55.4 49.2 L56.6 47.9 M49.3 42.4 L49.2 40.8 L48.5 41.9 L48.0 43.1 L48.0 44.5 M45.9 43.7 L47.6 43.6 L48.9 44.4 L50.6 44.5 L50.4 45.8 L49.2 46.4 L49.1 47.7 L49.3 49.1 M43.2 45.2 L44.5 46.0 L45.3 44.5 L45.8 42.9 L47.5 42.9 L49.1 43.0 L49.4 44.4 L48.6 45.4 L47.6 44.3 L47.3 42.8 L46.3 41.7 L45.7 40.3 L47.2 40.9 L48.9 40.7 L48.6 39.2 L50.2 39.4 M51.3 43.2 L50.7 44.4 L49.9 45.4 L50.0 46.8 L50.7 48.1 L51.9 49.0 L51.7 50.3 L51.7 51.7 L50.4 51.7 L49.7 52.8 L49.8 54.2 L50.6 55.4 L52.1 56.1 L53.6 56.7 L53.8 58.0 L52.6 58.6 L52.7 59.9 L51.4 60.2 L50.0 60.2 M56.1 45.0 L57.7 44.7 L59.0 43.7 L60.4 42.7 L61.9 41.9 L63.5 41.5 L63.2 40.0 L61.9 39.8 L60.6 39.5 L59.3 38.8 L58.0 38.9 M42.7 51.1 L42.4 52.4 L41.1 52.5 L40.3 51.3 L40.6 49.7 L41.7 48.4 L41.5 46.8 L41.3 45.2 L41.6 43.6 L42.8 42.4 L44.3 41.8 L44.8 40.2 L44.4 38.7 L43.6 37.4 L42.5 36.4 L41.2 36.6 L42.0 37.8 L43.7 37.5 L45.3 37.7 L46.9 37.9 L48.2 38.8 M42.2 44.0 L42.0 42.4 L40.7 42.7 L40.0 41.4 L39.3 40.0 L38.1 39.3 L36.9 38.4 L35.8 37.6 L35.6 36.1 L37.0 35.1 L38.6 35.4 L39.9 36.2 L40.3 37.6 L39.5 38.6 L38.2 38.1 L38.4 39.5 L38.1 40.8 L37.6 42.1 L37.0 43.2 L36.7 44.5 L36.4 45.9 L35.6 46.9 M50.5 46.2 L49.2 45.9 L49.4 47.3 L50.5 48.4 L52.1 48.4 L52.1 46.8 L50.9 47.4 L50.2 48.5 L50.3 49.9 L49.2 48.9 L49.3 47.3 L48.3 46.2 L47.0 45.7 L46.1 46.6 L46.2 48.0 L46.9 49.3 L47.7 50.6 L49.1 51.2 M53.0 48.3 L53.0 46.7 L52.5 45.2 L51.3 45.8 L50.4 46.8 L51.7 47.6 L53.0 48.4 L51.8 47.9 L51.9 46.3 L53.5 46.5 L53.8 47.9 L55.5 47.6 L57.1 48.0 L58.6 48.5 L59.7 49.5 L61.3 49.2 L60.6 47.8 M58.1 50.5 L56.8 50.4 L56.5 51.7 L55.2 52.1 L53.9 52.2 L52.6 52.6 L51.7 53.5 M49.4 46.2 L51.1 45.8 L52.6 45.3 L53.4 43.8 L55.1 43.8 L55.5 45.1 L55.0 46.3 L56.6 46.6 L58.2 46.2 L59.3 47.3 L60.4 48.3 M54.8 43.9 L56.2 43.0 L57.2 41.7 L57.9 40.1 L57.7 38.6 L56.4 37.9 L57.2 36.4 L57.8 34.8 L59.3 34.0 L59.1 32.5 L58.2 33.3 L57.8 34.6 L56.9 35.6 L57.0 37.0 L56.3 38.1 L55.0 38.3 L54.0 39.1 L53.0 39.9 L53.0 41.3 L51.7 41.7 L51.6 40.1 L52.2 38.6 L52.1 37.0 M46.9 44.6 L45.6 44.8 L45.5 46.1 L45.5 47.5 L44.1 47.6 L44.4 46.0 L44.1 44.4 L44.9 43.0 L45.3 44.3 L44.1 45.0 L45.7 45.5 L47.0 46.3 L45.6 46.3 L45.3 47.6 L44.0 47.9 L45.3 48.8 L44.4 49.8 L44.7 51.2 M52.9 49.3 L52.0 48.1 L51.1 49.0 L50.1 49.9 L50.4 51.3 L49.2 51.7 L48.3 52.7 L48.8 54.0 L48.3 55.2 L46.9 55.0 L45.6 54.9 L44.3 54.5 L43.3 53.4 L42.0 52.9 L41.3 54.1 L40.1 54.6 L39.1 55.5 L40.1 56.6 L39.9 58.0 L39.0 59.0 L38.1 59.9 L38.1 61.2 L38.4 62.6 L37.9 63.8 M51.6 42.4 L53.2 41.7 L54.7 42.2 L56.0 41.1 L57.6 41.3 L57.1 42.5 M53.5 46.2 L53.9 44.6 L55.2 45.4 L56.2 44.1 L55.6 42.7 L56.1 41.1 L55.7 39.6 L54.6 38.6 L53.4 39.2 L53.0 37.7 L51.9 36.8 L50.6 36.3 L50.7 37.6 L49.7 38.6 L48.8 39.5 L47.5 39.8 L47.3 38.2 L47.3 36.6 M44.9 41.6 L46.3 40.6 L47.4 39.3 L48.3 37.9 L49.8 37.2 L50.4 35.7 L51.4 34.3 L53.0 33.9 L54.6 33.4 L56.2 32.9 L57.8 33.2 L58.9 34.2 L58.2 35.4 L59.1 36.5 L58.3 37.6 L57.7 38.8 L58.8 39.8 L60.3 40.3 L61.4 39.0 L62.3 37.6 M53.8 36.7 L53.0 37.7 L51.7 37.7 L51.6 39.1 L51.6 40.5 L52.6 39.2 L52.5 37.6 L53.4 36.2 L55.0 36.3 L54.8 37.6 L54.7 39.0 L55.8 40.0 L57.3 40.6 L57.6 39.0 L59.3 38.8 L60.1 40.0 M46.1 53.0 L45.2 51.8 L44.4 52.9 L43.3 53.5 L43.6 54.9 L42.4 55.4 L42.3 56.8 L42.0 58.1 L42.4 59.5 L42.7 60.9 L43.7 61.9 M53.0 48.1 L52.9 49.5 L53.9 50.7 L55.3 51.3 L55.8 52.7 L56.3 54.0 L57.9 53.5 L59.4 52.7 L60.5 51.5 L60.3 49.9 L60.4 48.3 L59.1 47.6 L57.8 47.3 L57.1 48.4 L56.0 47.5 L54.7 47.0 L53.7 45.9 L53.1 44.5 L53.4 42.9 L53.5 41.3 L54.7 40.1 M50.2 35.9 L48.9 36.3 L47.6 36.3 L46.4 36.9 L48.0 37.0 L47.6 35.5 L46.2 35.4 L45.0 35.9 L45.5 37.2 L44.1 36.8 L43.1 35.8 L42.0 34.9 L40.8 35.4 L39.8 36.3 L39.2 37.4 L39.1 38.8 L39.2 40.2 L38.2 41.0 M42.7 46.6 L43.5 45.2 L43.8 43.5 L42.7 42.7 L42.7 41.1 L42.2 39.6 L43.4 38.3 L44.9 37.6 L46.2 36.5 L47.7 35.7 L48.9 34.5 L47.9 33.5 L48.8 32.1 L50.2 31.0 L51.7 31.6 L52.2 30.1 L53.8 29.6 L55.2 30.3 L56.7 30.9 M41.2 46.1 L40.0 45.5 L38.8 46.2 L37.8 47.0 L36.8 47.9 L35.9 46.7 L34.9 45.6 L36.5 45.3 M45.0 45.2 L44.1 43.9 L43.8 42.3 L42.8 41.3 L41.6 40.6 L42.3 39.1 L42.4 37.5 L42.8 35.9 L43.9 34.6 L45.5 34.9 L45.3 33.3 L44.0 33.3 L44.0 34.7 L44.3 36.1 L43.8 37.3 L42.5 37.6 L41.4 38.3 L40.7 36.9 L39.9 35.7 M52.5 42.7 L51.1 42.8 L50.1 41.7 L51.5 40.8 L52.5 39.4 L51.7 38.0 L52.2 36.5 L53.1 35.1 L53.3 33.4 L52.0 33.0 L51.4 31.5 L50.6 32.6 L50.5 34.0 L49.2 34.3 L48.1 35.0 M51.5 47.7 L52.3 48.9 L53.5 49.8 L55.0 49.0 L56.3 47.9 L56.7 46.3 L57.6 44.9 L59.2 45.2 L60.2 46.3 L61.8 46.7 L63.2 47.3 L64.7 47.9 L66.3 47.9 L66.8 49.2 M52.2 47.1 L50.9 46.4 L51.0 44.8 L50.8 43.2 L50.6 41.7 L50.0 40.3 L50.0 38.6 L50.1 37.0 L51.7 37.0 L53.4 36.9 L55.0 36.3 L55.8 37.5 L55.5 38.8 L54.4 39.5 L53.0 39.5 L51.7 39.5 L50.4 39.0 L49.4 37.9 L48.6 36.6 L48.0 37.8 L46.7 37.1 L45.4 37.1 L44.4 38.0 L43.7 39.1 M46.8 42.2 L48.3 41.5 L50.0 41.5 L50.6 39.9 L52.0 39.0 L52.0 37.4 L53.0 36.1 L53.0 34.4 L52.1 33.2 L50.9 33.7 M44.6 44.8 L44.5 43.2 L43.3 42.4 L42.0 41.9 L40.6 41.7 L39.5 42.3 L38.4 43.0 L37.1 43.3 L36.1 42.2 L34.8 42.1 L33.5 42.3 M49.1 50.6 L48.0 49.6 L47.6 48.1 L46.4 47.3 L45.3 48.0 L46.5 48.8 L48.1 49.0 L49.8 48.8 L50.0 47.2 L51.2 46.1 L52.7 45.2 M48.7 43.6 L50.4 43.4 L51.8 42.5 L53.3 43.2 L54.1 41.7 L53.4 40.4 L55.0 39.7 M53.9 52.3 L52.6 51.8 L52.1 50.3 L51.5 48.9 L52.8 47.8 L54.4 47.3 L54.5 45.7 L55.6 46.7 L56.5 47.9 L55.7 48.9 L55.8 50.3 L57.2 51.1 M53.2 49.0 L52.6 47.6 L52.0 48.8 L50.6 48.6 L50.1 49.8 L48.8 50.2 L47.9 49.1 L47.3 47.7 L48.7 46.8 L50.4 46.4 L52.0 46.4 L53.6 46.5 L55.1 47.1 L56.2 48.2 L57.8 48.0 M49.5 44.2 L48.7 45.2 L47.4 45.5 L48.2 46.7 L48.9 48.0 L47.6 48.1 L46.3 48.1 L45.9 46.6 L45.0 45.3 L44.8 43.8 L45.1 42.2 L43.9 42.8 L43.7 44.1 L42.6 43.2 L41.3 43.5 L40.6 42.1 M56.6 45.5 L58.2 45.0 L59.7 45.4 L61.0 46.3 L62.6 45.9 L63.9 44.9 L63.4 43.4 L62.5 42.2 L61.6 41.0 L60.3 41.3 L61.2 42.4 L61.1 43.8 M54.8 42.1 L54.7 40.5 L56.2 40.9 L57.5 41.7 L58.8 40.5 L60.2 41.2 L60.9 42.5 L59.7 43.0 L58.4 42.5 L57.5 41.4 L58.5 40.1 L59.2 38.5 L60.2 37.2 L59.7 35.7 L58.3 35.7 L57.0 35.3 L55.8 34.7 L55.4 35.9 L54.5 36.9 L53.2 36.5 L52.6 37.7 L52.5 39.1 L51.2 38.5 L50.1 39.2 M52.0 48.8 L52.6 50.1 L52.8 51.5 L52.8 52.9 L54.4 53.1 M50.7 42.5 L50.1 43.7 L51.7 43.5 L52.8 44.6 L53.7 45.8 L55.3 45.6 L55.9 44.1 L57.6 43.7 L58.7 42.4 L59.8 41.1 L60.9 39.9 L62.6 39.9 L61.4 39.0 L61.9 37.4 L61.2 36.0 L60.1 35.1 L59.7 33.6 L59.8 32.0 L58.9 32.9 L57.5 33.0 L56.3 33.3 L56.1 34.7 L56.8 36.0 L58.3 35.2 M52.8 51.6 L51.8 50.6 L50.4 50.6 L49.9 51.8 L49.3 53.0 L48.3 52.0 L48.7 50.4 L50.2 49.6 L50.5 48.0 L51.9 47.1 L52.5 45.5 L51.8 44.1 L52.1 42.5 L52.3 40.9 L53.3 42.0 L54.1 43.2 L55.3 44.2 M52.7 41.1 L54.1 41.8 L55.7 41.8 L56.4 43.1 L58.1 43.1 L59.6 43.6 L61.2 43.4 L62.8 43.6 L64.2 42.7 L65.9 42.7 L67.3 43.4 L66.3 44.3 L65.9 45.6 L64.9 46.4 L66.2 47.2 L67.8 47.0 L69.5 47.1 L70.1 45.5 M49.3 42.1 L50.8 42.6 L51.6 43.8 L53.1 44.4 L54.4 45.2 L55.2 46.5 L55.1 47.8 L54.3 48.8 L53.4 47.6 M47.1 45.1 L47.3 46.5 L48.2 47.6 L49.7 48.1 L50.8 49.2 L52.2 49.9 L53.8 50.3 L55.3 50.7 L57.0 50.7 L58.6 50.6 L59.7 49.3 L59.9 47.7 L58.7 46.9 L58.4 45.4 L59.4 44.0 L61.0 43.5 L62.7 43.4 L64.1 42.5 L65.7 42.4 L65.9 40.7 L65.2 41.8 M44.9 51.7 L46.2 52.5 L46.2 53.9 L44.9 53.5 L44.4 52.0 L44.3 50.4 L45.7 49.4 L46.6 48.0 L47.9 48.8 L49.4 48.0 L50.0 46.5 L50.7 45.0 L50.3 43.5 L51.9 43.0 L53.4 43.6 L55.0 43.0 L55.4 44.4 L54.1 44.8 M48.2 52.0 L49.0 50.5 L50.2 49.3 L51.7 49.7 L51.4 51.0 L50.1 50.4 L48.8 50.6 L49.5 51.9 M42.9 51.7 L44.1 52.7 L45.2 53.8 L45.5 55.2 L45.2 56.5 L44.8 57.8 L45.8 58.9 L47.4 58.2 L49.0 57.7 L50.5 57.1 L51.4 58.2 L53.1 58.0 L52.6 56.6 L51.7 57.6 L50.9 58.6 L50.0 57.4 L48.8 56.7 L47.5 56.9 M51.2 51.9 L50.9 53.2 L51.0 54.5 L50.9 55.9 L50.3 57.1 L49.4 55.9 L49.3 57.3 L50.1 58.5 L50.2 59.9 L50.8 61.2 L51.5 62.5 L52.6 63.6 L54.3 63.4 L55.7 63.9 M54.9 44.3 L56.3 44.9 L57.8 45.4 L59.0 44.2 L60.2 45.1 L59.2 45.9 L58.4 47.0 L57.9 45.5 L58.6 44.0 L57.3 43.7 L56.2 42.7 L55.4 41.4 L55.3 39.8 M52.4 43.9 L51.7 45.0 L51.2 46.2 L52.7 45.4 L53.0 46.8 L52.5 48.0 L54.1 48.2 L55.7 47.4 L56.3 45.9 L57.9 45.4 L58.9 44.0 L60.6 44.3 L62.2 43.8 M53.5 43.3 L52.5 44.1 L51.2 44.2 L51.7 45.6 L53.3 45.9 L55.0 45.6 L54.6 46.9 L53.8 47.9 L55.2 48.7 L54.1 47.7 L55.4 46.6 L57.0 46.0 L57.1 44.4 L58.4 43.4 L60.1 43.6 M58.3 46.5 L59.5 47.4 L61.1 47.7 L62.4 46.7 L63.0 45.1 L61.9 44.2 L61.1 45.2 L61.8 46.4 L62.0 47.8 L62.1 49.2 L62.3 50.6 M51.6 48.7 L51.6 50.1 L51.2 51.3 L51.4 52.7 L50.2 53.3 L49.5 52.0 L50.3 53.2 L50.0 54.5 L51.2 55.5 L52.0 56.7 L52.6 58.0 L54.3 57.9 L54.7 56.3 L54.7 54.6 L55.7 55.8 L57.3 55.3 L58.6 54.2 L59.7 52.9 L60.3 51.3 L62.0 51.1 L61.5 52.3 L61.2 53.6 M51.4 44.4 L50.0 44.1 L48.7 44.2 L48.0 42.8 L47.3 41.5 L46.0 41.2 L46.8 39.7 L45.4 39.5 M50.4 44.3 L49.5 45.3 L49.2 46.6 L50.1 47.7 L50.6 49.1 L51.1 50.4 L51.9 51.6 L53.4 52.1 L52.9 53.4 L52.2 54.5 L51.7 55.8 L53.0 56.7 L54.6 56.5 L55.9 57.3 L57.6 57.1 L59.0 57.9 L60.4 58.5 L61.5 59.5 L62.2 60.8 L63.4 61.8 L64.8 62.4 L66.3 63.0 L67.1 64.2 M59.3 49.2 L58.9 50.4 L59.4 51.8 L59.8 53.1 L60.3 54.5 L60.4 55.9 L60.5 57.2 L60.7 58.6 L59.4 59.0 L59.3 57.4 L59.3 55.7 L60.9 55.5 L62.0 56.5 L61.5 57.7 L60.6 58.7 L59.5 59.5 L58.2 59.0 L57.3 60.0 L56.3 60.8 L56.9 62.2 L56.1 63.2 L55.1 64.1 L53.8 64.2 L52.6 64.7 M46.6 49.5 L45.5 50.3 L44.2 50.3 L42.8 50.3 L42.3 51.5 M45.5 49.8 L44.8 48.4 L45.5 46.9 L46.7 45.7 L47.3 44.2 L46.0 43.8 L46.7 42.3 L46.5 40.7 L45.2 40.3 L43.9 40.6 M45.1 45.7 L45.7 44.1 L44.9 42.7 L44.2 43.8 L43.0 44.5 L42.5 45.7 L43.5 46.8 L44.8 45.7 L45.2 44.1 L44.7 42.6 L43.6 41.6 L42.3 41.3 L42.2 39.7 L43.5 38.6 L45.0 38.0 M52.0 43.9 L51.3 42.5 L50.1 41.9 L48.8 42.3 L48.2 43.5 L49.5 44.4 L50.0 45.7 L51.6 45.9 L51.7 47.3 L50.4 47.0 L49.1 46.6 L47.8 46.2 L46.7 47.0 L45.4 46.6 L44.1 46.0 L43.7 47.3 L44.7 48.5 M51.6 43.7 L51.2 45.0 L50.9 46.3 L49.6 46.5 L48.8 45.3 L49.8 43.9 L50.4 42.4 M50.8 55.9 L50.7 54.3 L49.4 53.9 L48.3 54.7 L47.8 55.9 L47.6 57.2 L46.3 57.6 M45.3 45.0 L47.0 44.7 L46.3 45.8 L47.2 47.0 L48.8 47.2 L50.4 46.6 M47.5 43.5 L48.0 44.9 L48.5 46.2 L49.8 45.1 L50.9 46.0 L52.1 47.0 L53.7 47.5 L53.9 48.8 L54.3 50.2 L55.1 51.5 L56.7 51.8 L57.3 53.1 L56.8 54.3 L57.5 55.5 L58.8 56.3 L58.5 57.6 L59.2 58.9 L60.5 59.8 L62.1 59.6 L63.7 59.1 L65.1 59.9 L66.4 60.7 L66.5 62.1 L65.7 63.1 M41.6 45.6 L42.8 44.4 L43.9 43.2 L44.4 41.6 L45.6 40.4 L47.2 40.4 L48.4 41.4 L49.9 41.8 L51.5 42.1 L50.3 42.6 L50.6 43.9 L50.9 45.3 L51.1 46.7 L49.7 46.7 L48.6 45.9 L47.6 44.7 L46.4 44.0 L46.7 42.4 M50.0 45.3 L51.6 45.5 L53.1 46.1 L53.7 47.4 L55.1 48.1 L56.7 48.4 L58.2 48.9 L59.1 50.1 M51.9 43.8 L50.6 43.9 L49.6 42.8 L49.5 41.2 L49.5 39.6 L48.2 38.9 L47.5 40.0 L46.6 41.0 L45.3 41.2 L44.0 40.8 L42.6 40.8 L41.4 40.0 M41.8 50.3 L40.8 51.1 L40.0 52.2 L38.7 52.1 L37.9 53.2 L38.0 54.5 M51.3 40.0 L52.6 40.9 L54.2 41.1 L53.7 42.4 L54.0 43.8 L54.1 45.1 L53.2 46.0 L52.2 46.9 M53.9 45.7 L53.6 47.0 L54.4 48.3 L53.8 49.5 L52.4 49.4 L51.8 50.6 L53.3 51.3 L54.5 50.2 M46.5 48.5 L45.2 48.4 L45.3 49.8 L46.0 51.0 L47.1 52.1 L46.0 52.9 L44.7 52.5 L44.1 51.1 L42.8 50.6 L44.0 49.3 L43.5 47.8 L43.2 46.3 L41.9 45.8 L40.8 46.6 L39.6 47.1 L39.3 48.4 L38.2 49.1 L36.9 49.1 L35.5 49.1 L34.5 48.1 M54.2 50.1 L55.8 49.6 L57.2 48.7 L58.2 47.4 L59.8 47.6 L60.9 48.7 L61.8 49.8 L60.8 50.7 L59.5 50.1 L60.3 48.7 L60.5 47.0 L61.9 46.1 M41.8 43.1 L43.1 42.1 L44.0 40.7 L45.4 39.8 L46.8 40.5 L46.1 41.6 L45.6 42.8 L44.6 43.7 L43.3 43.4 L43.0 41.9 L42.3 40.5 L43.5 39.3 L42.8 38.0 L42.4 36.5 L41.1 36.6 L40.0 37.4 L40.0 38.8 L38.7 38.2 L39.5 36.7 L41.0 36.0 L42.7 35.6 M41.9 38.9 L41.6 40.2 L42.5 41.5 L44.0 41.8 L45.1 42.9 L43.8 42.7 L42.8 41.6 L41.8 40.5 M49.3 47.5 L48.1 48.1 L46.8 48.1 L45.6 47.2 L44.2 47.0 L43.8 45.5 L44.8 44.2 L44.7 42.6 L46.1 41.5 L46.5 39.9 L45.1 39.9 L44.2 38.8 L42.9 39.0 L42.0 40.0 L42.4 41.3 L42.9 42.7 L43.8 43.8 L44.6 45.0 L44.7 46.4 L43.4 46.1 L42.2 45.2 L41.7 43.8 M51.7 49.0 L52.8 47.7 L52.6 46.1 L52.8 44.5 L52.6 42.9 L51.8 41.7 L50.5 41.0 L49.3 41.4 L48.3 40.2 L48.4 38.6 M44.6 46.5 L44.2 47.7 L43.4 48.7 L42.4 49.7 L42.7 51.0 L41.7 51.9 L40.5 52.4 L39.1 52.5 L38.3 53.5 L37.2 52.5 L38.5 53.3 L39.9 52.2 L38.9 51.1 M44.5 41.6 L43.9 42.8 L42.7 42.2 L41.8 40.9 L41.2 39.5 L40.4 38.3 M51.2 48.9 L50.8 50.2 L49.5 50.6 L51.1 51.0 L52.5 51.6 L54.1 51.8 L54.4 53.1 L53.3 53.9 L52.0 54.2 L50.7 53.6 L49.4 53.4 L48.6 54.4 L47.3 53.9 L46.5 55.0 L46.5 56.3 L47.9 57.0 L49.4 56.2 L50.6 55.0 L52.3 54.9 L53.3 53.5 M52.6 38.3 L52.7 39.6 L51.3 39.8 L52.7 40.6 L53.9 41.5 L53.0 42.4 L52.1 43.3 L51.3 42.0 L52.1 40.6 L53.3 39.4 L52.5 38.1 L51.2 37.6 M55.9 42.2 L56.2 40.5 L56.6 38.9 L55.3 38.5 L54.1 38.9 L52.8 38.4 L52.7 36.7 L54.4 36.4 L55.9 36.7 L57.1 37.7 L58.7 37.3 L60.0 36.2 L59.4 34.8 M49.1 47.3 L50.2 46.0 L51.8 45.8 L52.5 47.1 L53.5 45.8 L52.2 46.0 L52.0 47.3 L51.0 48.2 L49.7 47.7 L49.1 46.3 M49.9 46.7 L48.9 45.6 L50.1 46.5 L51.6 47.1 L52.5 48.3 L52.6 49.7 L51.5 50.4 L50.5 51.3 L49.2 50.8 L50.3 49.5 L50.5 47.9 L49.9 46.5 L48.5 46.3 M48.3 40.8 L48.7 42.2 L47.5 42.7 L46.6 43.7 L45.6 44.5 L45.5 45.8 L45.4 47.2 L45.1 48.5 L44.2 49.4 L43.3 50.4 L43.9 51.7 L43.1 52.8 L42.5 53.9 L43.8 54.8 L44.8 53.5 L46.4 52.9 M42.6 48.4 L43.4 49.6 L43.3 51.0 L44.1 52.2 L44.6 53.6 L46.0 52.7 L47.7 52.8 L48.9 53.7 L50.0 54.7 L49.6 56.0 L49.4 57.3 L51.0 57.3 L51.2 58.7 L51.3 60.1 L52.3 61.3 L53.7 61.8 L55.4 61.9 L56.9 62.3 M44.7 46.1 L45.9 44.9 L47.5 44.6 L48.4 43.2 L49.7 42.1 L50.7 40.7 L52.3 40.7 L53.8 41.2 M53.8 43.8 L53.1 44.9 L52.7 46.2 L51.4 46.1 L50.8 47.3 L51.0 48.7 L51.1 50.0" stroke="#000" stroke-width="0.3" fill="none" stroke-opacity="0.32" stroke-linejoin="round" clip-path="url(#ca0)"/>
<path d="M45.5 47.8 L45.5 47.3 L45.4 46.8 L45.5 46.4 L46.0 46.2 M45.6 42.8 L45.4 43.3 L44.9 43.4 L44.4 43.6 M48.4 54.4 L48.0 54.1 L47.6 53.7 L47.3 53.3 L46.9 53.0 L46.5 52.8 L46.2 52.4 M51.3 50.0 L50.8 50.1 L50.7 50.6 L50.8 51.1 L51.2 51.2 L51.7 51.3 L52.2 51.0 L52.7 50.9 L52.2 51.1 M49.1 49.2 L49.4 49.6 L49.8 49.9 L50.0 50.3 M49.5 43.7 L49.9 44.0 L50.4 44.1 L50.7 44.5 L51.0 44.9 M52.1 44.9 L52.3 45.3 L52.3 45.8 L52.3 46.3 L52.5 46.7 M51.5 48.1 L52.0 48.2 L52.4 48.6 L52.6 49.0 L52.8 49.5 L52.9 49.9 L53.3 50.3 L53.8 50.2 M48.0 48.5 L47.7 48.9 L47.2 49.0 L46.8 48.8 L46.3 48.6 L46.2 48.1 L46.7 47.9 M48.2 44.6 L47.7 44.6 L47.3 44.3 L46.9 44.5 L47.0 44.0 M54.5 47.2 L54.9 46.9 L55.2 46.5 L55.7 46.3 M52.5 48.8 L52.9 49.2 L52.9 49.7 L52.5 50.0 L52.1 50.4 L52.5 50.7 L53.0 50.6 M49.9 48.3 L50.3 48.0 L50.8 48.0 L51.3 48.0 L51.0 47.6 L51.0 47.1 L51.5 47.3 L51.5 47.8 L51.9 48.1 M48.0 47.4 L48.4 47.5 L48.3 48.0 L48.3 48.5 L47.8 48.4 L47.3 48.6 L47.0 49.0 L46.5 49.1 L46.3 48.6 L46.3 48.1 M50.1 41.2 L49.6 41.2 L49.2 40.9 L48.7 40.8 M51.6 46.9 L51.1 46.9 L50.7 46.6 L50.3 46.4 M48.5 42.6 L48.6 43.1 L48.9 43.5 L49.4 43.4 L49.9 43.3 L50.4 43.4 L50.2 43.8 M49.9 44.4 L49.7 43.9 L49.2 44.1 L48.7 44.2 L48.8 44.7 L48.7 44.2 L49.1 43.9 M50.9 46.2 L50.5 46.4 L50.0 46.3 L50.1 46.8 L50.5 47.1 L50.5 47.6 L50.0 47.6 L49.8 48.0 M44.6 49.3 L44.6 48.8 L44.4 48.4 L43.9 48.4 L43.5 48.7 L43.0 48.5 M51.3 52.9 L51.2 52.4 L51.0 51.9 L50.5 51.9 L50.5 52.4 M51.3 51.0 L51.6 51.4 L52.1 51.6 L52.5 51.8 L53.0 51.8 L53.3 51.4 L52.9 51.1 M44.8 46.7 L44.5 47.1 L44.2 47.5 L43.8 47.7 L43.4 47.4 L42.9 47.5 L43.0 48.0 M51.5 44.6 L51.1 45.0 L50.6 45.0 L50.7 45.4 L50.6 45.9 M47.2 44.4 L47.6 44.7 L47.7 45.1 L48.2 45.1 L48.6 44.8 L48.2 44.6 M48.9 48.5 L48.4 48.6 L48.1 48.2 L47.6 48.2 M46.7 44.4 L46.8 44.9 L46.7 45.4 L46.6 45.9 L46.4 46.4 M48.6 45.7 L48.9 46.1 L49.1 46.5 L49.2 47.0 L49.4 47.5 L49.5 48.0 L49.6 48.5 L49.8 48.9 M49.8 47.4 L49.3 47.5 L49.0 47.9 L48.6 48.0 L48.9 48.4 M48.4 44.9 L48.1 44.5 L47.8 44.1 L47.4 43.7 M47.4 46.3 L47.6 45.9 L47.3 45.5 L46.8 45.5 L46.7 46.0 L46.2 46.2 M50.3 46.0 L50.7 46.1 L51.0 46.5 L51.5 46.3 L51.4 45.8 L50.9 45.6 L50.8 45.1 L51.2 44.8 M45.5 49.8 L45.1 49.6 L44.6 49.4 L44.5 49.9 M46.2 43.0 L45.8 42.7 L45.3 42.5 L45.1 43.0 L45.1 43.5 L45.5 43.8 L45.1 44.1 L44.6 44.2 L44.2 44.5 M52.0 48.3 L51.5 48.3 L51.0 48.2 L50.5 48.1 L50.0 48.1 L49.5 48.1 L49.1 48.3 L48.9 48.7 M53.7 47.8 L53.3 47.5 L53.1 47.1 L52.6 47.0 L52.4 46.6 L52.0 46.3 L51.8 45.8 L51.5 45.4 M49.9 50.3 L50.1 50.8 L50.6 50.9 L50.9 51.3 L51.4 51.3 L51.8 51.1 L52.3 51.3 L52.3 51.8 M43.9 48.2 L43.9 48.7 L44.2 49.1 L44.6 49.4 L45.1 49.3 L45.5 49.0 M48.6 46.3 L48.7 45.8 L49.1 45.5 L49.1 45.0 L48.9 44.5 L48.7 44.1 M48.2 43.7 L48.6 43.5 L49.0 43.2 L49.5 43.4 L49.7 43.8 L49.6 44.3 L49.2 44.6 L49.6 44.9 L50.1 44.9 L50.6 45.0 M50.7 50.6 L51.2 50.4 L51.6 50.1 L52.0 49.9 M51.2 45.7 L51.3 46.2 L50.8 46.4 L50.4 46.2 L50.2 45.8 L50.3 45.3 L50.5 44.8 M51.2 43.5 L50.9 44.0 L50.9 44.5 L50.9 45.0 L50.7 45.4 M53.3 44.3 L53.2 43.8 L53.3 43.3 L53.1 42.9 L52.9 42.4 L52.5 42.6 L52.0 42.6 M47.7 44.0 L47.2 44.0 L46.8 43.7 L46.3 43.7 L45.8 43.5 L45.8 43.0 L45.9 42.5 L46.1 42.1 L46.5 41.8 L46.6 41.3 M49.6 45.2 L49.1 45.2 L48.6 45.2 L48.2 45.5 L48.6 45.8 L48.9 46.2 L49.2 46.6 M44.1 46.5 L43.7 46.4 L43.2 46.2 L42.8 45.9 L42.5 45.6 L42.0 45.7 L41.6 45.9 M47.7 46.0 L47.2 46.2 L47.7 46.4 L48.1 46.7 M48.6 53.5 L48.2 53.2 L47.7 53.2 L47.4 52.8 L46.9 52.7 L46.4 52.7 L45.9 52.8 L45.5 52.9 M47.4 41.2 L47.7 41.6 L48.2 41.7 L48.6 41.9 L49.0 42.3 M48.7 46.7 L48.9 46.2 L48.4 46.1 L47.9 46.3 L47.7 46.7 L47.8 47.2 L48.2 47.4 L47.9 47.8 L47.7 48.3 M48.9 53.3 L49.0 52.8 L48.8 52.4 L49.2 52.1 L49.1 51.6 L48.8 51.2 L48.4 51.5 L47.9 51.7 M46.2 46.5 L46.0 47.0 L45.6 47.2 L45.1 47.4 L45.0 47.9 M46.0 47.5 L46.5 47.5 L46.9 47.3 L46.9 46.8 M46.3 46.1 L46.7 45.9 L46.6 45.4 L46.5 44.9 L46.4 44.4 L45.9 44.3 L45.5 44.6 M49.1 49.7 L49.6 49.8 L50.0 49.9 L50.5 50.1 M55.7 43.3 L56.1 43.0 L56.5 43.4 L56.9 43.7 L57.2 44.1 L57.7 44.3 M45.1 43.8 L45.4 44.2 L45.3 44.7 L45.0 45.1 L44.5 45.1 L44.1 45.2 L43.6 45.4 L43.2 45.2 L42.7 45.2 L42.4 45.6 M48.5 45.1 L48.5 44.6 L48.3 44.1 L48.8 43.8 L49.2 43.6 L49.6 43.4 M49.2 47.6 L49.7 47.3 L50.0 47.7 L50.4 48.0 L50.9 48.2 L50.4 48.5 L50.1 48.8 L49.8 48.4 M52.1 43.6 L52.6 43.7 L52.5 43.3 L52.2 42.8 M48.6 43.4 L49.1 43.1 L49.4 42.8 L49.5 42.3 L49.2 41.9 L49.0 41.4 L48.9 41.0 L48.5 40.6 L48.2 40.2 M45.0 48.3 L44.8 48.7 L44.8 49.2 L44.7 49.7 M45.6 54.1 L45.5 53.6 L46.0 53.5 L46.3 53.9 M50.1 42.6 L50.0 43.1 L50.4 43.4 L50.8 43.3 M46.9 46.7 L47.2 47.2 L46.7 47.4 L46.7 47.9 L46.5 48.4 L46.3 48.8 L46.1 49.3 L45.7 49.5 L45.2 49.7 L44.9 50.1 M48.1 46.4 L48.5 46.1 L48.7 45.7 L48.6 45.2 L48.9 44.7 L49.2 44.4 L49.7 44.3 M49.0 41.0 L49.3 41.4 L49.8 41.3 L50.3 41.2 M47.1 44.6 L47.5 44.3 L47.1 43.9 L47.0 44.4 L47.3 44.9 M52.6 46.5 L53.0 46.8 L52.7 47.3 L52.2 47.2 L51.7 47.0 M49.8 43.5 L49.4 43.2 L49.1 42.8 L48.6 42.6 M50.2 51.0 L50.7 51.1 L50.9 50.7 L51.1 50.2 M50.8 43.7 L50.4 43.5 L49.9 43.5 L49.6 44.0 M55.4 43.2 L55.9 43.1 L56.1 42.6 L56.2 42.2 L56.7 41.9 M55.0 44.2 L55.3 44.6 L55.3 45.1 L55.6 45.5 L55.6 46.0 M50.5 50.3 L50.9 50.0 L50.9 49.5 L51.1 49.1 L51.6 49.3 L51.9 49.7 M47.5 50.3 L47.1 50.1 L47.2 49.6 L47.1 49.1 L47.1 48.6 L46.9 48.1 M44.1 45.2 L44.6 45.3 L44.6 44.8 L45.1 44.6 M51.4 49.8 L51.6 49.3 L52.0 49.0 L52.3 49.3 M44.1 46.0 L43.7 45.7 L43.3 45.5 L42.9 45.9" stroke="#000" stroke-width="0.35" fill="none" stroke-opacity="0.6" stroke-linejoin="round" clip-path="url(#ca0)"/>
<ellipse cx="49.0" cy="47.0" rx="3.6" ry="2.8" fill="#000" fill-opacity="0.8"/>
<path d="M116.1 46.0 L117.2 47.3 L119.0 47.2 L120.5 46.6 L121.3 45.5 M107.6 45.6 L107.0 46.2 L106.3 46.3 L105.8 47.0 L107.4 46.5 M113.3 46.7 L112.6 47.0 L111.9 47.2 L111.7 48.3 L111.3 49.3 L112.7 50.4 L112.4 51.4 M107.1 47.2 L108.1 48.5 L108.5 49.9 L108.6 48.8 M109.7 47.0 L110.7 45.9 L111.4 44.8 L110.9 45.5 L110.2 46.0 L111.4 47.2 L113.0 46.6 L113.5 48.0 L113.4 49.1 L113.4 50.4 L113.4 51.6 L115.1 52.3 L116.6 51.6 L118.3 51.2 L117.7 50.8 M110.7 43.0 L110.5 44.1 L109.8 44.3 L109.4 45.2 L111.1 45.8 L112.7 45.3 L114.2 44.6 L114.5 43.5 L114.9 42.4 L116.3 41.6 L117.5 40.7 L118.1 39.6 L119.4 38.7 L120.2 37.6 L121.8 37.0 L123.0 36.0 M114.1 46.7 L113.7 47.6 L114.6 49.0 L115.8 50.2 L116.2 51.5 L117.8 50.9 L119.2 50.1 L120.3 49.2 L121.1 48.0 L122.7 47.4 M106.7 49.1 L106.8 48.0 L106.4 47.3 L105.7 47.4 M111.0 52.7 L112.2 54.0 L113.8 54.8 L115.0 56.0 L114.3 56.2 L114.8 57.6 L114.5 58.6 L113.8 58.5 L113.2 58.2 L113.1 57.3 M113.6 53.1 L114.4 54.4 L114.2 55.6 L114.0 56.7 L113.6 57.6 L113.7 58.9 L113.2 59.7 L112.9 58.9 L112.5 58.3 L112.1 57.5 L112.5 56.4 L112.7 55.3 L114.1 54.5 L115.6 53.8 M107.2 45.0 L107.5 46.3 L107.6 47.6 L107.4 48.8 L109.1 49.5 L109.3 50.8 L110.6 51.9 L110.7 53.2 M107.3 45.9 L107.4 44.9 L108.4 43.9 L110.1 43.5 L111.9 43.4 L113.6 43.0 L114.4 41.9 M109.0 46.3 L110.8 46.1 L111.9 45.1 L112.2 44.0 L113.9 43.5 L115.6 43.2 L117.4 43.1 M111.0 49.1 L112.5 50.1 L112.4 49.2 L112.1 48.4 L113.6 49.3 L115.2 48.6 L116.9 48.2 L118.5 49.0 L120.1 49.8 L120.3 51.1 L121.8 51.9 L123.4 51.3 M109.8 45.8 L109.2 46.2 L108.5 46.6 L108.0 47.5 L107.4 48.0 L106.9 48.7 L107.0 50.0 L106.6 50.9 L106.0 51.4 L105.3 51.9 M112.0 44.9 L112.3 46.3 L112.0 47.3 L112.2 46.2 L114.0 46.0 L115.6 45.4 L115.9 44.3 L116.8 43.2 L117.4 42.1 L117.8 41.0 L117.2 40.6 L117.1 39.7 M110.8 48.7 L110.1 49.2 L109.7 50.1 L109.8 51.4 L110.7 52.7 L110.4 53.8 L110.2 54.9 L109.7 54.3 M110.8 49.4 L112.4 49.0 L114.0 49.8 L115.5 50.7 L117.3 50.5 L119.0 51.0 L120.6 52.0 L120.6 53.2 L120.1 53.9 L119.4 54.1 L120.1 55.5 L119.4 55.6 L119.8 54.5 M112.2 48.9 L111.7 48.3 L111.2 47.8 L110.7 48.5 L110.0 48.7 L109.3 48.5 L110.4 47.4 L112.2 47.3 L112.4 46.2 M105.4 47.5 L105.1 46.7 L104.6 46.2 L104.1 47.0 L104.3 48.3 L103.7 48.9 L103.0 49.2 L102.8 50.3 L103.9 51.5 L105.2 52.7 L104.7 53.4 L104.6 54.5 L104.2 53.8 L103.5 54.0 M109.8 49.4 L110.2 50.8 L109.8 51.8 L109.2 51.4 L108.6 51.9 L107.9 52.1 L107.3 52.8 M104.9 54.6 L105.8 55.9 L106.5 57.3 L106.1 56.6 L106.1 57.8 L106.5 59.2 L107.4 60.5 L108.5 61.7 L108.8 63.1 M108.5 44.4 L108.0 43.8 L108.3 42.7 L110.1 42.6 L111.6 42.0 L113.4 42.5 L114.6 43.6 L116.1 44.7 L117.9 44.9 L119.2 46.0 M108.6 47.0 L109.8 46.0 L110.5 44.9 L110.8 43.8 L110.9 42.8 L111.0 41.7 L110.5 42.4 L111.1 43.8 L111.1 45.0 L110.4 45.2 L110.4 46.4 L110.2 47.5 L110.7 48.9 L112.2 48.3 L113.5 47.4 M107.6 49.9 L107.8 48.8 L108.3 47.7 L107.7 48.4 L107.1 48.8 L107.1 47.8 L106.4 48.1 L106.1 47.3 L107.3 46.4 L108.4 45.4 L110.2 45.4 L112.0 45.6 M109.1 42.7 L110.9 43.0 L112.5 43.7 L114.3 44.1 L115.5 43.1 L117.0 44.0 L118.7 43.5 L120.0 44.6 L120.0 45.9 L119.9 47.1 L120.6 48.4 L121.4 49.8 L123.2 50.0 L124.7 51.0 L124.3 51.9 M112.5 50.3 L112.9 51.7 L113.9 53.0 L114.0 54.3 L114.2 53.2 L114.6 52.1 L115.0 51.0 M105.6 48.1 L105.0 48.9 L104.4 49.4 L104.1 50.4 L103.4 50.6 L102.8 51.1 L102.1 51.7 L102.2 50.6 L103.2 49.6 L104.9 49.2 L106.1 50.4 L107.0 51.8 L108.8 52.2 L110.4 51.7 M106.4 48.6 L108.0 49.4 L109.8 49.3 L111.6 49.4 L112.5 50.7 L113.4 52.1 L113.1 53.1 L113.1 54.4 M107.9 47.1 L107.7 48.2 L107.1 47.8 L106.8 48.8 L106.3 49.6 L105.7 50.1 L105.2 50.8 L104.5 51.1 L104.3 52.2 L105.3 53.5 L107.1 53.3 L108.5 52.5 L109.0 51.4 L109.8 50.3 L110.1 49.2 L109.7 48.5 M108.4 42.9 L108.9 41.8 L109.1 40.7 L110.1 39.7 L110.2 38.6 L110.6 37.5 L110.4 36.6 L112.2 37.1 L112.6 38.5 L111.9 38.9 L111.7 40.0 L111.0 40.4 M109.9 48.6 L109.8 49.8 L109.5 50.8 L109.4 49.8 L108.8 50.4 L109.5 51.8 M111.6 49.7 L113.3 50.1 L114.8 51.2 L114.6 52.3 L115.2 53.7 L115.0 54.8 M110.8 46.0 L110.2 45.6 L110.7 44.4 L110.1 44.1 L111.4 43.1 L113.2 43.3 L114.8 42.8 L115.6 41.7 L115.1 42.5 L114.6 43.3 L116.0 44.4 L115.6 45.3 M106.0 47.9 L107.3 47.0 L108.1 45.9 L107.9 45.0 L107.3 44.6 L106.9 43.9 L107.7 42.8 L108.1 41.6 L107.6 42.5 L107.0 43.1 L106.6 42.5 L108.4 42.4 M110.7 48.1 L110.5 47.3 L109.8 47.6 L109.1 47.9 L109.2 49.1 L110.1 50.4 L111.2 51.7 L111.8 53.1 M108.1 46.9 L107.8 48.0 L107.3 48.6 L106.8 49.4 L106.1 49.8 L105.5 49.5 L104.9 49.2 M112.9 47.7 L112.5 48.6 L112.8 50.0 L113.8 51.2 L115.7 51.4 L116.6 52.7 M111.6 48.2 L113.0 47.4 L113.8 46.3 L113.1 46.6 L112.5 47.2 L112.8 48.6 L112.1 48.5 L111.7 49.4 L111.9 50.7 M112.8 47.7 L112.6 48.8 L112.3 48.0 L111.7 48.5 L111.6 49.7 L113.1 49.0 L113.9 47.9 L115.5 48.6 L117.3 49.2 L118.8 48.6 L120.6 48.3 L122.1 47.6 M110.2 54.1 L109.5 54.5 L109.7 55.8 L111.5 55.8 L113.0 56.7 L114.2 57.9 L115.3 59.2 L116.6 60.3 L117.0 61.7 L116.8 62.8 L116.3 63.6 L115.6 63.9 L115.0 64.4 L114.6 65.3 L114.2 64.6 L113.7 64.2 L115.2 63.6 M111.9 47.9 L112.4 46.7 L112.5 45.7 L112.6 44.7 L113.5 43.6 M115.6 49.0 L114.9 49.1 L114.6 48.3 L115.3 47.2 L116.4 46.2 L117.9 45.5 L119.7 45.3 L121.5 45.7 L122.8 46.8 L124.0 48.1 L125.8 48.3 L127.0 49.5 L126.6 50.5 L128.1 51.4 L129.7 52.2 L131.3 51.5 M111.6 47.0 L113.4 47.3 L115.1 47.1 L116.5 46.2 L118.2 45.9 L119.1 44.8 L120.5 44.0 L120.3 43.2 L121.3 42.2 L122.8 41.5 L122.9 40.4 L122.4 40.0 L121.9 39.5 L121.6 38.7 L122.8 39.9 M110.8 51.6 L112.4 50.9 L114.1 50.6 L115.9 50.4 L117.6 51.1 L119.0 50.3 L119.6 49.1 L119.0 48.7 L118.6 49.7 L118.6 50.9 L119.8 52.1 L119.3 52.8 M111.6 49.8 L111.6 51.0 L111.4 52.2 L110.8 52.9 M108.2 45.3 L107.6 45.3 L106.9 45.6 L106.7 46.7 L106.4 47.7 L105.8 48.2 L106.2 47.1 L106.4 46.0 L105.9 45.5 L106.5 44.4 L106.2 43.6 L105.5 43.8 L104.9 43.4 L104.3 43.2 L104.0 44.2 L104.0 45.4 L104.5 46.8 L105.3 48.2 M108.4 49.2 L108.8 50.5 L110.2 51.5 L110.8 52.9 L110.7 54.1 L111.0 55.4 L111.0 56.7 L112.6 57.4 L114.1 58.4 L115.9 58.1 L116.9 57.1 M110.9 45.8 L111.8 47.1 L112.2 48.5 L111.6 49.1 L111.6 50.3 L112.1 51.7 L111.8 52.8 L111.2 52.5 L110.9 51.7 L110.3 51.6 M107.6 45.3 L108.8 44.4 L110.6 44.1 L112.4 44.3 L114.0 43.8 L114.7 45.1 L115.3 46.5 L115.5 47.8 L115.0 48.5 L114.7 49.5 L114.0 49.8 L113.4 50.2 L113.4 51.5 M107.9 48.7 L108.5 47.5 L108.8 46.4 L110.1 45.5 M113.1 47.0 L112.8 46.3 L112.1 46.3 L111.8 47.3 L111.1 47.6 L112.5 48.7 L113.3 50.1 L113.2 51.3 L113.3 50.3 L112.9 49.6 L112.9 48.6 L114.5 48.1 L116.2 48.7 L117.8 48.2 L119.2 47.4 L119.1 46.4 L119.2 45.4 M112.0 51.1 L112.8 52.5 L114.4 53.3 L115.3 54.6 L115.0 55.7 L115.0 57.0 L116.1 58.2 L117.1 59.5 L117.8 60.9 L117.8 62.1 L119.5 62.6 L121.3 62.6 M115.4 50.9 L115.1 50.2 L114.4 50.5 L114.0 51.3 M110.2 44.7 L110.9 43.6 L111.1 42.5 L110.4 43.0 L109.8 43.5 L109.1 43.7 L108.6 44.5 L108.1 45.3 L107.4 45.3 L107.1 44.6 L106.6 45.5 M109.5 44.1 L110.4 43.0 L112.2 43.2 L113.7 44.2 L115.5 44.6 L117.1 45.3 L118.9 45.4 L119.8 46.7 L121.0 45.8 L122.5 45.1 L123.5 44.1 M112.1 50.7 L113.9 50.9 L114.5 49.8 L116.3 50.2 L117.6 49.4 L117.4 48.5 L118.2 47.5 L118.2 46.5 L118.5 45.4 L118.7 44.3 L118.0 44.1 L118.9 43.1 L120.7 43.4 L122.5 43.9 L122.7 45.2 M110.3 48.3 L109.6 48.5 L109.5 49.7 L109.0 50.5 L108.5 51.2 L108.4 52.4 L107.7 52.2 L107.3 51.6 L108.8 50.9 L110.0 50.0 L110.7 48.9 L110.5 48.0 M110.9 47.3 L110.6 48.3 L110.9 49.7 L110.8 50.8 L111.0 52.2 L111.6 53.5 L112.4 54.9 L113.2 56.2 L113.1 57.5 L112.5 57.7 L111.8 57.8 L111.5 58.9 L111.2 59.9 L111.1 61.1 L111.3 62.4 M107.3 47.4 L106.6 47.3 L106.3 46.5 L105.7 46.7 L105.0 46.6 L105.4 45.4 L105.6 44.4 L105.0 44.3 L104.3 44.3 L105.6 45.4 L105.7 46.8 L105.4 47.8 L106.7 48.9 L107.2 50.3 L106.6 50.8 L105.9 50.6 L105.8 49.7 M114.2 48.3 L115.6 47.5 L116.6 46.5 L116.5 45.6 L116.8 44.5 L116.3 43.8 L116.2 42.9 L116.5 41.8 L118.3 41.7 L118.8 43.1 L120.0 44.3 L121.3 45.4 M109.9 46.2 L110.4 47.5 L112.1 48.0 L113.9 47.6 L115.6 47.3 L116.6 48.6 L118.4 48.7 L119.2 50.0 L121.0 50.1 L122.7 50.6 L124.1 49.8 M109.2 41.7 L110.5 40.8 L109.8 40.9 L109.2 41.0 L108.5 41.2 L108.9 42.5 L108.8 43.7 L108.9 45.0 L110.2 46.1 M108.3 41.5 L109.9 42.3 L111.4 41.6 L111.6 40.5 L111.4 39.6 L110.7 39.7 L110.1 39.4 L109.6 40.2 M112.5 50.6 L113.7 51.9 L114.7 53.1 L115.4 54.5 L117.0 55.3 L117.5 56.7 L118.8 57.8 L120.6 57.6 L122.2 58.4 M111.4 42.5 L111.1 41.7 L111.0 40.8 L110.5 40.3 L110.1 39.6 L110.6 38.5 L110.8 37.4 L110.1 37.6 L110.0 38.8 L109.4 39.3 L109.8 38.2 L110.0 37.1 L110.7 36.0 M108.2 46.2 L110.0 45.9 L111.8 45.7 L113.1 46.8 L114.2 48.1 L115.4 49.3 L116.9 50.3 L118.7 50.6 L119.7 51.9 M115.6 43.7 L116.4 42.6 L116.7 41.5 L116.5 40.6 L116.0 40.1 L115.4 40.3 L116.1 39.2 L115.4 39.0 L114.9 39.6 L115.0 40.9 L114.9 42.1 L116.3 43.1 M110.2 48.0 L110.5 49.3 L110.6 50.6 L110.2 50.0 L109.6 49.6 L109.0 50.0 M108.7 46.8 L109.4 45.6 L110.1 44.5 L109.7 43.8 L110.0 42.7 L109.8 41.9 L110.2 40.7 L111.1 39.7 L112.9 40.1 L113.0 41.4 L114.2 42.6 M107.0 44.8 L108.4 45.8 L109.9 46.8 L109.6 47.9 L108.9 48.0 L108.3 47.9 M111.8 43.9 L112.8 45.2 L114.2 46.2 L114.3 47.5 L114.9 48.9 L115.4 50.2 L115.3 51.4 L115.3 52.6 L114.7 53.2 L116.1 54.3 L116.6 53.1 L117.9 52.3 L119.6 51.9 L121.4 51.9 L123.1 51.3 L124.7 50.8 M111.4 44.8 L112.8 45.9 L113.9 47.1 L114.6 48.5 L114.2 49.4 L113.6 49.3 L113.6 48.2 M108.7 48.1 L110.4 48.6 L112.2 48.5 L114.0 48.6 L114.8 50.0 L116.6 50.3 L117.7 49.3 L117.3 48.6 M106.5 50.9 L106.4 52.1 L105.8 51.9 L106.1 50.8 L105.9 51.9 M110.1 53.8 L109.5 53.5 L110.5 52.5 L110.9 51.3 L111.9 50.3 L113.7 50.3 L115.5 50.6 L117.3 50.9 M107.7 44.6 L109.5 45.0 L110.3 46.4 L109.6 46.8 L109.0 47.4 L109.1 48.7 L109.2 49.9 L108.5 49.8 L108.1 49.1 L108.2 48.1 L108.2 47.1 L109.3 46.1 L108.6 46.1 L108.6 47.4 M114.2 48.9 L114.2 47.9 L113.8 47.2 L113.3 46.6 L114.1 45.5 L114.3 44.5 L114.6 43.4 L114.1 42.8 L113.6 42.4 L113.3 41.6 L113.4 40.5 L114.7 39.7 L114.5 38.8 L115.3 37.7 L116.6 36.8 L116.9 35.7 M113.5 46.1 L113.0 45.7 L112.3 45.7 L112.8 44.6 L113.7 43.6 L113.8 42.5 M112.1 47.9 L113.4 49.0 L114.2 50.4 L115.4 51.6 L115.5 52.9 L117.2 53.7 L118.2 54.9 L117.8 55.8 L118.7 57.2 L120.4 57.6 L122.0 57.0 M109.8 45.9 L109.2 46.3 L108.5 46.1 L108.2 45.4 L107.5 45.3 L107.4 44.4 L106.9 45.2 L106.9 46.4 L107.1 47.8 M113.5 46.8 L114.1 48.1 L113.5 48.2 L113.1 49.1 L112.5 49.8 L111.8 49.8 L111.5 49.1 L111.6 48.1 L111.7 47.0 L111.8 46.0 L111.1 46.3 L110.6 45.8 L110.4 44.9 L109.7 44.7 L110.9 43.7 L112.2 42.8 L112.6 41.7 L113.8 40.7 M111.4 49.3 L111.7 50.7 L111.0 51.0 L110.3 50.9 L109.9 51.7 L110.5 53.1 L110.4 54.2 M112.6 44.1 L114.4 44.5 L116.0 43.9 L116.5 42.8 L116.2 42.0 L115.6 41.9 M109.3 48.0 L111.0 47.6 L112.4 46.8 L113.9 46.1 L115.7 46.1 L116.9 45.2 L116.4 44.5 L116.2 43.7 L116.5 42.6 L117.4 41.5 L119.0 40.9 L118.9 40.0 L120.1 39.0 L121.1 38.0 L122.5 39.1 L124.1 39.9 M105.0 47.4 L106.0 48.8 L107.5 49.7 L108.8 48.9 L110.0 47.9 M109.5 46.1 L108.9 46.4 L108.7 47.6 L109.6 49.0 M109.7 51.7 L110.5 50.6 L112.3 50.6 L113.9 49.9 L115.7 49.9 L116.7 48.9 L117.7 47.8 L119.5 47.5 L121.2 47.1 L123.0 47.0 L124.3 46.1 L124.8 45.0 L125.6 43.9 L126.2 42.8 L127.0 41.7 L127.1 40.7 L126.7 40.0 M112.2 51.2 L111.7 52.0 L111.1 51.7 L110.6 51.1 L111.3 50.0 L111.8 48.9 M108.0 43.1 L109.7 42.8 L111.5 43.0 L112.7 42.0 L114.5 42.0 L115.8 43.2 L115.7 44.4 M109.2 51.2 L110.9 50.7 L112.6 51.2 L113.1 52.6 L113.9 53.9 L113.6 55.0 L113.2 55.9 L112.8 55.2 L112.3 54.7 L111.8 54.1 L111.3 54.9 L111.8 53.7 L111.4 53.1 L110.7 53.6 L110.8 54.9 M110.5 47.9 L110.3 49.0 L111.7 50.0 L112.8 51.3 L114.2 52.4 L114.6 53.7 L114.9 55.1 L114.2 55.2 L113.6 55.2 L114.7 54.2 L114.7 53.2 L116.1 52.4 L117.9 52.6 L119.5 52.0 M107.1 46.1 L108.8 45.9 L110.4 45.3 L110.7 44.2 L111.9 43.3 L113.3 42.4 L114.7 41.7 L116.5 41.7 L118.3 42.1 L118.7 43.5 L119.4 44.8 L120.8 45.9 L122.1 47.0 L123.5 48.1 L123.4 49.3 L123.7 50.6 L124.6 52.0 M108.7 45.9 L110.3 45.3 L112.0 44.9 L113.0 43.8 L114.8 43.6 M112.1 48.4 L111.7 49.3 L111.0 49.7 L111.3 51.0 L112.2 52.3 M108.6 48.7 L108.1 48.1 L107.6 47.7 L107.3 46.8 M106.7 48.3 L107.8 47.3 L108.6 46.2 L110.3 45.9 L112.0 45.5 L113.6 44.9 L114.8 43.9 L114.4 43.2 M109.5 48.1 L109.3 49.2 L110.2 50.5 L111.7 51.4 L113.0 52.6 L113.6 53.9 L115.3 54.6 L115.9 56.0 L117.2 57.1 M111.0 46.6 L111.5 47.9 L113.0 48.9 L114.4 50.0 L113.7 50.2 L113.0 50.3 L112.4 49.9 L112.0 49.3 L111.3 49.3 L112.1 48.2 L113.9 48.6 M108.7 49.0 L108.7 50.2 L108.0 50.5 L107.6 49.8 L107.0 50.5 M108.4 51.7 L108.2 50.7 L110.0 50.5 L110.7 49.4 L111.7 48.4 L112.2 47.2 M109.6 44.8 L109.1 44.3 L109.3 45.6 L109.4 46.9 L110.5 48.1 L111.7 49.4 L113.3 50.2 M110.0 47.1 L110.6 46.0 L110.3 47.0 L111.6 48.2 L112.6 49.5 M106.2 45.2 L107.9 44.9 L109.7 45.0 L111.3 45.8 L113.1 46.0 L114.9 46.4 L115.2 45.3 L115.9 44.2 L117.2 43.3 L116.7 42.8 L117.1 41.7 L118.9 42.0 L118.6 41.3 L118.1 40.7 L119.1 39.7 M112.0 46.0 L112.1 44.9 L111.5 44.6 L111.5 45.8 L111.3 47.0 L112.1 48.3 M114.5 45.1 L115.2 44.0 L115.2 43.0 L114.9 44.0 L114.4 44.7 L114.7 46.0 L116.3 46.8 L117.5 45.8 L119.3 46.3 L120.7 47.4 L122.5 47.3 L124.2 47.0 L126.0 47.5 M111.7 47.7 L111.6 46.8 L113.0 46.0 L113.0 45.0 L113.9 44.0 L115.7 44.1 L116.7 45.4 L118.6 45.4 L120.3 45.2 L121.3 46.5 L123.0 47.1 L124.2 48.3 L125.5 49.4 L127.1 48.8 M112.6 50.4 L113.5 51.7 L115.1 51.2 L116.6 50.6 L117.8 51.8 L118.4 53.1 M113.0 47.1 L112.3 47.3 L111.6 47.2 L111.0 47.5 L110.3 47.9 L109.6 48.2 L108.9 48.2 L108.7 47.4 L109.6 46.3 L109.0 46.8 L108.3 46.9 M113.1 44.8 L114.8 44.4 L116.4 45.2 L117.8 46.3 L119.4 45.7 L120.8 44.8 L120.2 44.4 L119.5 44.4 L119.4 43.5 L120.1 42.4 L121.1 41.3 L121.5 40.2 L122.6 39.2 L124.4 39.5 L125.8 40.6 L125.9 41.9 L125.6 43.0 L125.0 43.5" stroke="#000" stroke-width="0.3" fill="none" stroke-opacity="0.35" stroke-linejoin="round" clip-path="url(#ca1)"/>
<path d="M106.4 47.7 L106.6 47.2 L106.8 46.7 L106.9 46.2 M112.9 46.2 L112.5 46.6 L112.1 46.6 L111.6 46.4 L111.7 45.9 M113.0 50.6 L113.2 51.1 L113.7 51.4 L113.8 51.9 L113.8 52.4 M109.0 51.3 L108.6 51.0 L109.1 50.9 L109.6 50.7 M110.9 48.6 L111.3 48.8 L111.8 48.8 L112.3 48.8 M108.7 48.9 L108.3 48.6 L107.8 48.6 L107.4 48.9 M108.9 47.5 L109.4 47.3 L109.8 47.0 L110.0 46.6 L110.5 46.4 L110.7 46.0 L110.4 45.6 M110.4 48.2 L110.0 48.4 L109.9 48.9 L109.4 48.8 M110.0 45.0 L109.8 45.5 L110.2 45.8 L110.1 46.3 M111.3 48.7 L111.2 49.2 L111.0 49.7 L111.1 50.1 L110.8 50.5 M111.4 47.9 L111.7 47.5 L112.1 47.2 L111.6 47.1 M109.9 49.4 L109.6 49.1 L109.3 48.7 L109.0 49.1 M110.9 47.3 L110.9 46.8 L111.1 46.3 L111.6 46.2 M110.0 54.4 L109.5 54.5 L109.2 54.9 L108.8 54.7 M110.7 44.7 L111.2 44.8 L111.7 45.0 L112.2 45.1 M114.1 48.1 L114.2 48.6 L114.4 49.1 L113.9 49.0 L113.7 49.5 L113.7 50.0 L113.7 50.5 M108.0 46.9 L108.1 46.4 L108.6 46.4 L108.7 46.8 L109.1 47.2 M110.0 42.1 L109.9 41.6 L110.4 41.7 L110.7 41.3 L111.1 41.0 M107.2 43.5 L106.9 43.2 L106.4 43.0 L106.1 42.6 L105.8 42.2 M106.7 50.3 L107.2 50.1 L107.4 50.6 L107.9 50.5 L107.9 50.0 L107.7 49.6 M108.6 47.8 L108.2 47.7 L107.7 47.8 L107.6 48.3 M108.6 49.0 L108.8 48.5 L109.0 48.1 L109.5 48.0 M107.9 49.9 L108.4 50.1 L108.4 50.6 L108.3 51.1 M106.4 48.9 L106.9 48.9 L107.3 48.6 L107.7 48.3 M108.4 45.6 L108.4 46.1 L108.4 46.6 L108.6 47.1 M110.5 47.8 L110.2 48.2 L110.5 48.6 L110.8 49.0 L110.9 49.5 L110.6 49.9 L110.9 50.3 M106.9 47.2 L107.4 47.2 L107.9 47.4 L108.0 47.9 L108.1 48.3 L108.5 48.6 M107.9 44.6 L108.4 44.3 L108.5 43.9 L108.6 43.4 M107.5 45.3 L107.4 45.8 L107.1 46.2 L106.6 46.2 M109.3 47.8 L109.8 47.8 L110.2 47.5 L110.0 47.0 M111.9 48.6 L112.4 48.8 L112.7 49.2 L113.2 49.2 L113.7 49.2 M107.3 46.0 L107.0 46.5 L107.1 47.0 L106.9 47.4 M109.7 46.1 L109.4 46.4 L109.1 46.8 L108.7 46.5 M110.5 49.8 L110.8 50.2 L111.1 50.6 L111.2 51.1 L110.8 51.4 L111.0 51.9 M110.3 51.2 L110.7 51.5 L111.0 51.9 L111.1 52.4 M112.0 46.8 L111.9 47.3 L111.5 47.6 L111.5 48.1 M111.7 49.0 L111.5 49.5 L111.3 49.9 L111.1 50.3 M107.0 45.7 L106.5 45.7 L106.2 46.1 L105.7 46.2 M108.9 45.6 L109.4 45.8 L109.8 45.5 L110.2 45.8 M108.5 45.4 L108.2 44.9 L108.1 44.4 L107.8 44.0 L107.7 43.6 L107.7 43.1" stroke="#000" stroke-width="0.35" fill="none" stroke-opacity="0.6" stroke-linejoin="round" clip-path="url(#ca1)"/>
<ellipse cx="108.3" cy="47.2" rx="2.6" ry="2.0" fill="#000" fill-opacity="0.7"/>
<path d="M166.7 49.6 L166.7 50.6 L166.8 51.7 L166.2 51.5 L165.7 51.2 L165.2 50.9 L165.1 50.1 L165.9 49.2 L166.7 48.3 L167.9 47.6 M165.1 47.1 L164.7 46.7 L164.4 47.6 L164.3 48.6 L164.3 49.7 L164.6 50.9 L164.9 52.1 L166.2 52.9 L167.5 53.7 L168.7 54.6 L169.3 55.8 L170.5 56.7 L172.0 57.3 L172.9 56.4 M165.8 44.4 L167.1 45.2 L167.9 46.4 L168.3 47.6 L169.0 48.8 L169.3 49.9 L169.2 50.9 L168.6 51.2 L168.1 51.7 L167.8 52.5 L168.0 53.7 L169.0 54.8 L170.0 55.8 M165.4 49.3 L164.9 49.7 L165.7 50.8 L165.2 51.3 L166.4 52.2 L167.8 52.9 L169.3 53.2 L169.9 54.4 L171.5 54.5 L172.7 55.3 L174.3 55.6 L175.8 55.8 L177.3 55.4 L178.9 55.6 L180.1 54.9 M166.5 48.2 L168.0 48.7 L169.0 49.7 L170.4 50.5 L171.5 51.5 L172.9 52.1 L173.1 53.3 L173.1 54.4 L173.3 55.5 L173.7 56.7 L174.2 57.9 L174.9 59.1 L176.2 59.8 L176.0 60.7 L177.2 61.6 L177.2 60.8 M166.4 47.5 L166.3 46.7 L166.3 45.8 L167.2 44.9 M165.9 47.1 L167.4 46.7 L168.1 47.9 L168.2 49.0 L168.7 50.2 L170.2 50.8 L171.4 51.7 L173.0 52.0 L174.3 51.3 L174.6 50.4 L174.4 49.6 L175.2 48.7 L175.7 47.7 L175.1 47.4 M167.6 47.8 L169.0 48.5 L170.5 49.0 L172.0 49.5 L173.4 49.1 L175.0 49.2 L176.0 50.3 L176.8 51.4 L177.8 52.5 M166.2 46.5 L165.7 46.1 L165.2 46.1 L165.2 47.2 L164.9 48.1 L164.7 49.0 L165.3 50.2 M163.2 47.7 L163.5 46.7 L163.4 45.9 L163.9 44.9 L163.6 44.3 L164.1 43.3 L164.4 42.3 M168.0 47.7 L167.4 47.6 L166.8 47.7 L166.4 47.2 L166.1 46.5 L165.5 46.4 L165.1 46.0 L165.3 45.0 L165.4 44.1 L165.2 43.4 L164.8 43.0 L164.8 42.1 M167.4 46.3 L168.0 45.3 L169.4 44.9 L171.0 45.2 L172.4 44.8 M166.7 48.5 L166.4 47.8 L166.1 48.7 L165.6 49.2 L165.0 49.2 M167.4 45.7 L168.6 45.0 L170.2 44.9 L171.7 44.9 L173.0 44.3 L173.9 43.4 L175.4 42.9 M165.3 48.4 L165.9 49.6 L166.5 50.8 L165.9 50.9 L166.4 52.1 M163.2 49.2 L164.7 48.8 L164.7 47.9 L164.3 47.4 L163.7 47.7 L163.2 48.2 M167.9 47.8 L167.7 47.1 L167.6 46.3 L167.2 45.7 L167.9 44.7 L167.8 43.9 M169.4 46.2 L170.8 47.0 L172.0 47.9 L173.0 49.0 L173.3 50.2 L174.2 51.3 L175.7 51.8 L176.5 50.9 L178.0 50.7 L179.3 50.0 M165.7 47.7 L166.1 46.7 L166.1 45.8 L166.6 44.8 L166.0 44.8 L165.4 45.1 L164.9 44.8 L165.6 43.8 L167.1 43.8 L168.4 43.1 L169.6 42.4 L170.8 41.7 L170.8 40.8 M164.4 48.8 L164.6 50.0 L165.6 51.0 L166.1 52.2 L166.7 53.4 L167.3 54.6 L167.5 55.8 L167.5 56.8 L167.4 57.8 M167.0 50.6 L168.5 51.0 L170.1 51.2 L171.4 51.9 L173.0 52.0 L174.2 52.9 L175.7 53.3 L177.3 53.3 L178.8 53.5 M167.8 49.1 L168.9 48.2 L170.2 47.7 L171.7 47.4 L172.6 46.5 L174.1 46.2 L175.7 46.1 M165.2 48.4 L165.6 49.6 L167.0 50.1 L168.5 50.7 L169.9 50.1 L171.4 50.2 L172.8 49.6 M166.9 45.4 L168.4 45.7 L169.2 44.8 L170.6 44.3 L172.2 44.6 L173.7 44.6 L174.8 45.6 L176.4 45.8 M166.5 49.4 L168.0 49.4 L168.6 48.4 L169.4 47.5 L169.2 46.8 L168.8 46.3 L168.3 46.7 L167.8 46.3 L167.9 45.4 L168.4 44.5 L168.9 43.5 L169.4 42.5 L169.8 41.6 M167.2 48.1 L168.4 48.9 L169.5 50.0 L169.5 51.0 L168.9 51.1 M165.3 45.2 L166.8 45.0 L168.3 44.7 L169.8 44.4 L170.6 43.5 L171.3 42.5 L171.6 41.6 L171.9 40.6 L171.4 41.2 L170.8 41.2 M167.1 45.1 L168.2 46.1 L169.4 47.1 L169.4 48.1 L169.3 49.2 M165.1 46.7 L164.6 47.2 L164.1 46.8 L163.9 46.0 L164.6 45.1 L165.2 44.1 L165.7 43.1 L165.7 42.2 M165.7 45.4 L165.1 45.5 L164.5 45.5 L164.0 45.2 L163.4 45.1 L163.6 44.2 L164.5 43.3 L166.0 43.1 L167.3 42.5 M164.4 48.5 L164.9 49.7 L164.5 50.5 L164.3 51.4 L163.8 51.9 L163.7 52.9 M163.1 47.0 L162.8 46.5 L162.2 46.5 L161.6 46.8 L161.0 47.1 L160.4 47.2 L160.1 48.1 L159.8 48.9 L159.3 49.3 L158.7 49.1 L158.2 49.5 L158.0 48.7 L159.4 48.2 L160.2 49.3 M164.6 48.0 L164.0 47.8 L163.7 48.6 L164.6 49.7 L165.3 50.9 L165.5 52.0 L166.3 53.1 L167.4 54.2 L168.5 53.4 L168.9 52.4 L169.5 51.4 L170.3 50.5 L171.8 50.5 L172.9 49.7 M163.2 48.4 L164.5 49.2 L165.4 50.3 L165.1 51.2 L164.6 51.0 L164.5 52.0 M166.5 50.7 L166.6 51.8 L167.1 53.0 L166.5 53.4 L166.1 53.0 L165.6 52.7 L165.5 51.9 L164.9 51.9 M165.5 49.1 L165.0 49.6 L164.4 49.8 L164.2 49.0 L164.8 48.1 L165.2 47.1 L165.2 46.2 L165.1 45.5 L164.8 44.8 M168.8 50.1 L170.2 50.7 L171.1 51.9 L172.2 52.8 M167.0 45.2 L168.0 46.2 L169.6 46.2 L171.1 46.0 L172.1 47.0 L172.0 48.0 L172.1 49.1 L172.6 50.3 L173.2 51.5 L174.5 52.3 L175.8 53.1 M166.1 45.5 L165.6 45.9 L165.7 47.0 L165.2 47.6 L165.1 46.7 M166.2 47.1 L167.2 46.2 L168.8 46.4 L170.0 45.8 L170.7 44.8" stroke="#000" stroke-width="0.3" fill="none" stroke-opacity="0.4" stroke-linejoin="round" clip-path="url(#ca2)"/>
<path d="M164.5 48.2 L164.5 47.9 L164.6 47.6 L164.8 47.4 L165.2 47.3 M164.5 46.2 L164.2 46.2 L164.0 45.9 L164.0 45.6 M163.4 47.5 L163.6 47.8 L163.6 48.1 L163.9 48.1 L164.2 48.4 M163.1 48.4 L163.3 48.7 L163.6 48.6 L163.9 48.5 L164.0 48.2 M164.2 46.0 L163.9 46.1 L163.6 46.1 L163.4 46.4 M166.1 46.6 L166.0 46.2 L166.2 46.0 L166.3 45.7 M164.8 47.1 L164.5 47.2 L164.4 47.5 L164.5 47.9 M165.4 47.6 L165.3 47.9 L165.0 48.1 L164.8 47.9 M165.2 47.7 L165.1 47.4 L165.1 47.0 L165.2 46.7 L165.4 46.4 M162.8 46.3 L162.6 46.6 L162.3 46.5 L162.1 46.7 L161.7 46.8 M166.5 45.6 L166.4 45.9 L166.6 46.1 L167.0 46.1 L167.3 46.1 M165.9 45.5 L165.9 45.9 L166.0 46.2 L165.9 46.5 M165.4 48.0 L165.3 48.3 L165.0 48.5 L165.1 48.9 M164.2 47.7 L163.9 48.0 L164.2 47.7 L164.4 47.5 M165.2 47.3 L164.9 47.5 L164.6 47.5 L164.5 47.8 M166.0 47.6 L165.7 47.6 L165.5 47.9 L165.4 48.2 L165.3 48.5 M163.9 47.9 L164.2 47.7 L164.5 47.6 L164.7 47.9 M165.1 46.1 L164.8 45.9 L164.7 45.6 L164.7 45.2 M165.5 47.7 L165.7 47.9 L166.0 48.1 L166.3 48.3 M164.7 46.1 L164.4 46.2 L164.1 46.2 L163.8 46.3" stroke="#000" stroke-width="0.4" fill="none" stroke-opacity="0.8" stroke-linejoin="round" clip-path="url(#ca2)"/>
<ellipse cx="163.6" cy="47.0" rx="2.0" ry="1.4" fill="#000" fill-opacity="0.9"/>
<ellipse cx="221.6" cy="47.0" rx="2.1" ry="1.7" fill="#000"/>
<path d="M222.2 47.2 L222.1 47.1 L222.1 46.9 L222.1 46.7 M220.9 46.5 L220.7 46.4 L220.7 46.2 L220.7 46.0 M222.0 46.4 L222.0 46.6 L222.1 46.7 L222.3 46.7 M221.4 47.1 L221.3 47.2 L221.2 47.3 L221.0 47.4 M222.1 46.6 L222.1 46.5 L222.0 46.4 L221.8 46.3 M221.4 46.1 L221.5 46.2 L221.6 46.3 L221.7 46.4 M221.8 47.2 L221.9 47.4 L222.0 47.5 L222.1 47.6 M221.4 46.7 L221.4 46.5 L221.4 46.4 L221.3 46.2 M220.8 46.8 L220.7 46.9 L220.6 47.0 L220.5 47.1 M221.5 46.3 L221.6 46.2 L221.8 46.2 L221.9 46.2" stroke="#000" stroke-width="0.5" fill="none" stroke-opacity="0.9" stroke-linejoin="round"/>
<ellipse cx="279.4" cy="46.9" rx="2.0" ry="1.8" fill="#000"/>
<line x1="272.70" y1="46.10" x2="279.70" y2="46.10" stroke="#666" stroke-width="0.35"/>
<text x="241.20" y="152.10" font-size="4.9" text-anchor="start" fill="#000" stroke="#000" stroke-width="0.1" dominant-baseline="central">gradient of fMLP</text>
<path d="M285 153.9 L305.2 149.8 L305.2 153.9 Z" stroke="none" stroke-width="0.5" fill="#000"/>
<rect x="20.00" y="171.80" width="56.50" height="53.10" fill="none" stroke="#a8a8a8" stroke-width="1.0"/>
<line x1="20.00" y1="198.35" x2="76.50" y2="198.35" stroke="#9a9a9a" stroke-width="0.6"/>
<line x1="49.20" y1="171.80" x2="49.20" y2="224.90" stroke="#9a9a9a" stroke-width="0.6"/>
<text x="49.20" y="167.70" font-size="5.2" text-anchor="middle" font-weight="bold" fill="#000" stroke="#000" stroke-width="0.18" dominant-baseline="central" textLength="4.8" lengthAdjust="spacingAndGlyphs">—</text>
<text x="24.50" y="227.60" font-size="4.0" text-anchor="middle" fill="#000" stroke="#000" stroke-width="0.15" dominant-baseline="central">-200</text>
<text x="49.20" y="227.60" font-size="4.0" text-anchor="middle" fill="#000" stroke="#000" stroke-width="0.15" dominant-baseline="central">0</text>
<text x="72.00" y="227.60" font-size="4.0" text-anchor="middle" fill="#000" stroke="#000" stroke-width="0.15" dominant-baseline="central">200</text>
<text x="48.20" y="231.50" font-size="4.05" text-anchor="middle" fill="#000" stroke="#000" stroke-width="0.15" dominant-baseline="central">x axis (µm)</text>
<rect x="20.00" y="237.30" width="56.50" height="53.70" fill="none" stroke="#a8a8a8" stroke-width="1.0"/>
<line x1="20.00" y1="264.15" x2="76.50" y2="264.15" stroke="#9a9a9a" stroke-width="0.6"/>
<line x1="49.20" y1="237.30" x2="49.20" y2="291.00" stroke="#9a9a9a" stroke-width="0.6"/>
<text x="24.50" y="292.90" font-size="4.0" text-anchor="middle" fill="#000" stroke="#000" stroke-width="0.15" dominant-baseline="central">-1</text>
<text x="49.20" y="292.90" font-size="4.0" text-anchor="middle" fill="#000" stroke="#000" stroke-width="0.15" dominant-baseline="central">0</text>
<text x="72.00" y="292.90" font-size="4.0" text-anchor="middle" fill="#000" stroke="#000" stroke-width="0.15" dominant-baseline="central">1</text>
<text x="48.20" y="297.20" font-size="4.05" text-anchor="middle" fill="#000" stroke="#000" stroke-width="0.15" dominant-baseline="central">x axis (relative counts)</text>
<path d="M49.2 264.2 L44.85 264.15 A4.35 4.35 0 0 0 44.92 264.90 Z M49.2 264.2 L45.35 264.83 A3.91 3.91 0 0 0 45.53 265.49 Z M49.2 264.2 L45.20 265.61 A4.26 4.26 0 0 0 45.51 266.28 Z M49.2 264.2 L45.91 266.05 A3.80 3.80 0 0 0 46.29 266.59 Z M49.2 264.2 L46.15 266.71 A3.99 3.99 0 0 0 46.64 267.20 Z M49.2 264.2 L46.75 267.08 A3.82 3.82 0 0 0 47.29 267.46 Z M49.2 264.2 L47.18 267.64 A4.03 4.03 0 0 0 47.82 267.94 Z M49.2 264.2 L47.43 269.02 A5.18 5.18 0 0 0 48.30 269.26 Z M49.2 264.2 L47.66 272.87 A8.85 8.85 0 0 0 49.20 273.00 Z M49.2 264.2 L49.20 275.23 A11.08 11.08 0 0 0 51.12 275.06 Z M49.2 264.2 L51.41 276.67 A12.71 12.71 0 0 0 53.55 276.10 Z M49.2 264.2 L55.16 280.53 A17.44 17.44 0 0 0 57.92 279.25 Z M49.2 264.2 L59.38 281.77 A20.35 20.35 0 0 0 62.28 279.74 Z M49.2 264.2 L61.64 278.97 A19.35 19.35 0 0 0 64.02 276.59 Z M49.2 264.2 L66.81 278.93 A22.99 22.99 0 0 0 69.11 275.65 Z M49.2 264.2 L70.10 276.22 A24.14 24.14 0 0 0 71.88 272.41 Z M49.2 264.2 L72.38 272.59 A24.66 24.66 0 0 0 73.49 268.43 Z M49.2 264.2 L75.35 268.76 A26.55 26.55 0 0 0 75.75 264.15 Z M49.2 264.2 L76.12 264.15 A26.92 26.92 0 0 0 75.71 259.48 Z M49.2 264.2 L72.76 260.00 A23.93 23.93 0 0 0 71.68 255.97 Z M49.2 264.2 L71.13 256.17 A23.34 23.34 0 0 0 69.41 252.48 Z M49.2 264.2 L68.45 253.03 A22.23 22.23 0 0 0 66.23 249.86 Z M49.2 264.2 L66.37 249.74 A22.41 22.41 0 0 0 63.61 246.98 Z M49.2 264.2 L61.91 249.01 A19.77 19.77 0 0 0 59.08 247.03 Z M49.2 264.2 L57.43 249.89 A16.46 16.46 0 0 0 54.83 248.68 Z M49.2 264.2 L53.61 252.04 A12.89 12.89 0 0 0 51.44 251.46 Z M49.2 264.2 L51.08 253.50 A10.82 10.82 0 0 0 49.20 253.33 Z M49.2 264.2 L49.20 256.48 A7.67 7.67 0 0 0 47.87 256.60 Z M49.2 264.2 L48.12 258.00 A6.24 6.24 0 0 0 47.06 258.28 Z M49.2 264.2 L47.72 260.09 A4.32 4.32 0 0 0 47.04 260.41 Z M49.2 264.2 L47.24 260.75 A3.93 3.93 0 0 0 46.67 261.14 Z M49.2 264.2 L46.77 261.25 A3.78 3.78 0 0 0 46.30 261.72 Z M49.2 264.2 L46.17 261.60 A3.96 3.96 0 0 0 45.77 262.17 Z M49.2 264.2 L45.49 262.01 A4.28 4.28 0 0 0 45.17 262.68 Z M49.2 264.2 L45.45 262.78 A4.00 4.00 0 0 0 45.26 263.46 Z M49.2 264.2 L45.40 263.48 A3.86 3.86 0 0 0 45.34 264.15 Z" stroke="#a0a0a0" stroke-width="0.3" fill="none" stroke-linejoin="round"/>
<circle cx="49.2" cy="264.2" r="3.0" fill="#000" fill-opacity="0.12"/>
<circle cx="49.2" cy="264.2" r="1.35" fill="#000"/>
<rect x="77.60" y="171.80" width="56.50" height="53.10" fill="none" stroke="#a8a8a8" stroke-width="1.0"/>
<line x1="77.60" y1="198.35" x2="134.10" y2="198.35" stroke="#9a9a9a" stroke-width="0.6"/>
<line x1="106.40" y1="171.80" x2="106.40" y2="224.90" stroke="#9a9a9a" stroke-width="0.6"/>
<text x="105.40" y="167.70" font-size="5.2" text-anchor="middle" font-weight="bold" fill="#000" stroke="#000" stroke-width="0.18" dominant-baseline="central" textLength="38.7" lengthAdjust="spacingAndGlyphs">100 nM dasatinib</text>
<text x="82.10" y="227.60" font-size="4.0" text-anchor="middle" fill="#000" stroke="#000" stroke-width="0.15" dominant-baseline="central">-200</text>
<text x="106.40" y="227.60" font-size="4.0" text-anchor="middle" fill="#000" stroke="#000" stroke-width="0.15" dominant-baseline="central">0</text>
<text x="129.60" y="227.60" font-size="4.0" text-anchor="middle" fill="#000" stroke="#000" stroke-width="0.15" dominant-baseline="central">200</text>
<text x="105.40" y="231.50" font-size="4.05" text-anchor="middle" fill="#000" stroke="#000" stroke-width="0.15" dominant-baseline="central">x axis (µm)</text>
<rect x="77.60" y="237.30" width="56.50" height="53.70" fill="none" stroke="#a8a8a8" stroke-width="1.0"/>
<line x1="77.60" y1="264.15" x2="134.10" y2="264.15" stroke="#9a9a9a" stroke-width="0.6"/>
<line x1="106.40" y1="237.30" x2="106.40" y2="291.00" stroke="#9a9a9a" stroke-width="0.6"/>
<text x="82.10" y="292.90" font-size="4.0" text-anchor="middle" fill="#000" stroke="#000" stroke-width="0.15" dominant-baseline="central">-1</text>
<text x="106.40" y="292.90" font-size="4.0" text-anchor="middle" fill="#000" stroke="#000" stroke-width="0.15" dominant-baseline="central">0</text>
<text x="129.60" y="292.90" font-size="4.0" text-anchor="middle" fill="#000" stroke="#000" stroke-width="0.15" dominant-baseline="central">1</text>
<text x="105.40" y="297.20" font-size="4.05" text-anchor="middle" fill="#000" stroke="#000" stroke-width="0.15" dominant-baseline="central">x axis (relative counts)</text>
<path d="M106.4 264.2 L91.66 264.15 A14.74 14.74 0 0 0 91.89 266.71 Z M106.4 264.2 L93.87 266.36 A12.72 12.72 0 0 0 94.44 268.50 Z M106.4 264.2 L92.93 269.05 A14.33 14.33 0 0 0 93.99 271.32 Z M106.4 264.2 L95.73 270.31 A12.32 12.32 0 0 0 96.96 272.07 Z M106.4 264.2 L98.15 271.08 A10.77 10.77 0 0 0 99.47 272.40 Z M106.4 264.2 L100.04 271.73 A9.89 9.89 0 0 0 101.45 272.72 Z M106.4 264.2 L101.81 272.10 A9.18 9.18 0 0 0 103.26 272.78 Z M106.4 264.2 L102.71 274.29 A10.80 10.80 0 0 0 104.53 274.78 Z M106.4 264.2 L104.15 276.91 A12.96 12.96 0 0 0 106.40 277.11 Z M106.4 264.2 L106.40 278.07 A13.92 13.92 0 0 0 108.82 277.86 Z M106.4 264.2 L109.30 280.59 A16.69 16.69 0 0 0 112.11 279.84 Z M106.4 264.2 L112.31 280.39 A17.28 17.28 0 0 0 115.04 279.11 Z M106.4 264.2 L116.07 280.90 A19.34 19.34 0 0 0 118.83 278.97 Z M106.4 264.2 L120.15 280.53 A21.39 21.39 0 0 0 122.78 277.90 Z M106.4 264.2 L124.36 279.22 A23.45 23.45 0 0 0 126.71 275.88 Z M106.4 264.2 L130.09 277.83 A27.35 27.35 0 0 0 132.10 273.51 Z M106.4 264.2 L134.42 274.35 A29.82 29.82 0 0 0 135.77 269.33 Z M106.4 264.2 L131.75 268.62 A25.74 25.74 0 0 0 132.14 264.15 Z M106.4 264.2 L132.99 264.15 A26.59 26.59 0 0 0 132.58 259.53 Z M106.4 264.2 L128.38 260.27 A22.32 22.32 0 0 0 127.37 256.52 Z M106.4 264.2 L125.96 257.03 A20.82 20.82 0 0 0 124.43 253.74 Z M106.4 264.2 L119.89 256.36 A15.58 15.58 0 0 0 118.33 254.14 Z M106.4 264.2 L116.74 255.48 A13.50 13.50 0 0 0 115.07 253.81 Z M106.4 264.2 L113.66 255.50 A11.29 11.29 0 0 0 112.04 254.38 Z M106.4 264.2 L111.68 255.00 A10.56 10.56 0 0 0 110.01 254.22 Z M106.4 264.2 L109.64 255.25 A9.47 9.47 0 0 0 108.04 254.82 Z M106.4 264.2 L107.84 255.98 A8.29 8.29 0 0 0 106.40 255.86 Z M106.4 264.2 L106.40 255.87 A8.28 8.28 0 0 0 104.96 256.00 Z M106.4 264.2 L104.80 255.06 A9.23 9.23 0 0 0 103.24 255.48 Z M106.4 264.2 L103.21 255.38 A9.34 9.34 0 0 0 101.73 256.06 Z M106.4 264.2 L101.43 255.53 A9.95 9.95 0 0 0 100.00 256.53 Z M106.4 264.2 L98.62 254.88 A12.10 12.10 0 0 0 97.13 256.37 Z M106.4 264.2 L96.80 256.09 A12.54 12.54 0 0 0 95.54 257.88 Z M106.4 264.2 L97.20 258.84 A10.63 10.63 0 0 0 96.42 260.52 Z M106.4 264.2 L96.20 260.44 A10.85 10.85 0 0 0 95.71 262.27 Z M106.4 264.2 L92.94 261.78 A13.67 13.67 0 0 0 92.73 264.15 Z" stroke="#a0a0a0" stroke-width="0.3" fill="none" stroke-linejoin="round"/>
<circle cx="106.4" cy="264.2" r="3.0" fill="#000" fill-opacity="0.12"/>
<circle cx="106.4" cy="264.2" r="1.35" fill="#000"/>
<text x="19.00" y="172.30" font-size="4.0" text-anchor="end" fill="#000" stroke="#000" stroke-width="0.15" dominant-baseline="central">200</text>
<text x="19.00" y="198.35" font-size="4.0" text-anchor="end" fill="#000" stroke="#000" stroke-width="0.15" dominant-baseline="central">0</text>
<text x="19.00" y="223.60" font-size="4.0" text-anchor="end" fill="#000" stroke="#000" stroke-width="0.15" dominant-baseline="central">-200</text>
<text x="12.40" y="198.35" font-size="4.0" text-anchor="middle" transform="rotate(-90 12.40 198.35)" fill="#000" stroke="#000" stroke-width="0.15" dominant-baseline="central">y axis (µm)</text>
<text x="19.00" y="237.80" font-size="4.0" text-anchor="end" fill="#000" stroke="#000" stroke-width="0.15" dominant-baseline="central">200</text>
<text x="19.00" y="264.15" font-size="4.0" text-anchor="end" fill="#000" stroke="#000" stroke-width="0.15" dominant-baseline="central">0</text>
<text x="19.00" y="289.70" font-size="4.0" text-anchor="end" fill="#000" stroke="#000" stroke-width="0.15" dominant-baseline="central">-200</text>
<text x="12.40" y="264.15" font-size="4.0" text-anchor="middle" transform="rotate(-90 12.40 264.15)" fill="#000" stroke="#000" stroke-width="0.15" dominant-baseline="central">y axis (relative counts)</text>
<path d="M51.9 200.4 L50.9 200.4 L50.0 200.6 L49.4 199.7 L49.3 198.6 M55.8 199.6 L56.4 198.5 L57.6 198.1 L59.0 198.3 L60.1 199.0 M47.6 193.6 L47.0 192.8 L46.3 192.0 L46.1 191.0 L45.3 190.3 L44.8 189.4 L44.7 188.3 L44.0 187.6 M57.9 200.5 L58.6 199.5 L58.9 198.4 L59.2 197.2 L60.1 196.4 L61.2 195.7 L61.9 194.7 L61.5 193.7 M51.1 202.5 L50.2 202.4 L50.1 203.5 L50.0 204.7 L49.0 204.7 L49.6 205.8 L50.6 206.7 M52.4 196.4 L52.5 195.3 L53.6 194.5 L54.9 194.4 L55.8 195.3 M57.0 199.9 L58.0 199.1 L58.2 197.9 L58.0 196.9 L57.0 196.9 L56.6 198.0 L56.7 199.2 L55.8 199.5 L56.7 200.4 L57.9 199.7 L59.1 199.3 M57.0 200.6 L56.9 199.5 L56.1 198.9 L55.2 199.6 L54.3 199.1 L54.4 198.0 L54.7 196.9 L55.3 195.8 L56.3 195.0 L57.3 195.8 L57.6 197.0 L57.4 198.1 L56.6 198.8 L57.5 199.8 L57.0 200.8 L56.0 200.8 L55.2 200.2 L55.2 201.4 M50.8 201.4 L52.1 201.3 L52.5 200.2 L53.9 200.5 L54.8 201.4 L56.0 202.1 L56.8 203.1 L56.9 204.2 L56.9 205.4 M56.1 196.9 L57.4 196.4 L57.9 195.4 L59.2 195.0 L59.9 196.1 L60.9 196.9 L62.0 196.2 L63.0 195.3 L63.8 194.4 M51.8 203.1 L51.7 202.0 L50.9 201.4 L50.6 200.3 L51.5 199.5 L52.9 199.5 L54.2 200.0 L55.3 200.5 L56.4 201.3 L57.0 202.4 L57.8 203.4 L58.2 204.6 L58.0 205.7 L57.8 206.9 L56.9 207.4 M54.4 204.9 L54.0 203.9 L53.6 202.9 L54.2 201.9 L54.4 200.7 M53.9 204.4 L55.1 204.8 L56.1 205.6 L56.9 206.6 L58.1 207.3 L58.7 208.4 L58.9 209.6 L59.7 210.6 L58.8 210.3 L58.0 209.6 M51.0 198.6 L52.1 199.3 L53.4 199.6 L54.0 200.7 M49.2 198.6 L48.9 199.7 L50.2 200.1 L51.5 200.1 L52.8 199.6 L54.1 199.9 L54.5 201.1 L55.0 200.0 L56.3 199.7 L56.3 198.5 L57.0 197.6 L56.2 196.9 L55.6 196.1 L56.2 195.1 M52.3 199.4 L53.6 199.5 L53.7 200.7 L52.8 201.3 L52.2 202.1 L52.8 201.1 L52.2 200.2 M55.4 198.1 L55.6 199.2 L55.0 200.2 L56.1 201.0 L57.1 200.2 L58.4 200.0 M49.8 195.8 L50.7 194.9 L51.9 195.5 L53.1 195.0 L54.4 194.6 L54.6 193.5 L55.6 192.7 L56.5 193.5 L57.9 193.5 L58.2 194.7 L57.4 195.4 L56.8 196.3 M46.8 203.1 L47.2 202.0 L48.1 201.1 L49.3 201.7 L50.5 201.2 L51.6 202.0 M57.2 203.2 L56.8 204.3 L56.4 205.3 L55.8 206.2 L55.0 205.6 L54.0 205.3 L54.7 206.4 L55.8 207.2 L56.4 206.2 L57.7 205.9 L59.1 205.9 M50.9 198.8 L50.2 199.7 L49.6 200.6 L48.7 200.4 L49.0 199.3 L50.3 199.4 L51.5 198.9 L52.7 199.3 L53.0 198.2 L52.1 197.6 L52.2 198.8 M55.9 195.2 L54.9 195.0 L54.1 195.6 L53.1 195.8 M58.1 199.0 L59.0 199.9 L60.2 199.5 L61.1 198.6 L62.5 198.8 L62.7 197.6 L62.3 196.7 L63.0 195.6 L64.3 195.3 L65.6 195.0 M55.1 199.3 L54.5 200.2 L53.5 200.1 L52.6 200.6 L52.5 201.7 L53.3 202.8 L54.5 202.2 L55.6 201.6 L55.5 200.5 L55.9 199.3 L55.1 200.1 L54.2 200.5 L53.7 201.4 L55.0 201.7 M54.9 198.0 L54.1 197.3 L53.2 197.1 L52.7 196.2 L53.1 195.0 L54.1 194.3 L55.3 193.8 L56.2 194.8 L56.4 196.0 L56.0 197.0 L57.4 197.0 L58.3 197.9 L57.9 198.9 L57.7 200.0 L58.1 201.2 L57.1 201.0 L57.3 202.2 M54.1 206.1 L53.9 205.0 L53.6 204.0 L53.9 202.9 L55.1 202.3 L55.4 201.1 L55.6 200.0 L56.1 198.9 L57.4 198.5 L58.6 198.0 M52.1 195.8 L53.4 195.5 L54.1 194.5 L53.9 193.5 L54.9 194.3 L54.8 195.4 L54.0 196.1 L55.3 196.0 M54.6 200.3 L55.9 200.5 L57.0 201.3 L57.5 200.2 L58.8 200.0 L60.2 200.2 L61.3 199.5 L62.3 200.4 L61.5 201.0 L62.2 202.1 L63.4 202.7 L64.4 203.5 L65.3 204.5 L66.4 205.1 L67.7 204.7 M59.1 202.0 L60.2 201.3 L61.5 201.8 L60.9 202.8 L59.9 202.9 L59.5 203.9 L58.8 204.7 L60.1 205.0 L61.3 204.5 L62.5 203.9 L63.8 203.9 L64.8 203.1 L65.7 202.2 L67.0 201.8 L68.3 201.8 M54.6 199.5 L54.3 200.6 L54.9 201.7 L56.1 202.3 L57.2 202.9 L58.5 203.5 L59.6 204.2 M52.7 199.4 L53.2 198.3 L54.6 198.1 L55.9 198.4 L57.2 198.4 L58.4 199.0 L59.6 198.5 L59.0 197.7 L58.3 196.9 L57.4 197.0 L56.6 196.4 M49.4 191.0 L49.4 192.1 L50.6 192.6 L51.9 192.2 L53.2 192.4 L54.3 193.2 L55.3 194.1 L54.7 194.9 L53.7 195.1 L52.7 195.3 L51.8 194.8 L52.6 193.8 L54.0 193.8 L54.8 194.7 L56.1 194.6 M52.3 201.0 L51.5 201.8 L50.6 201.6 L49.6 201.6 L50.7 201.0 L51.8 201.7 L53.1 202.2 L54.3 202.8 L53.3 202.9 M51.7 201.5 L52.3 200.4 L53.1 199.5 L54.3 198.8 L55.5 199.4 L55.9 200.6 L56.4 201.7 L55.9 202.7 M54.3 199.5 L54.0 200.6 L54.9 201.5 L56.2 201.9 L57.5 202.2 L58.1 201.2 M51.4 192.8 L50.4 193.0 L49.4 193.2 L48.5 193.7 L49.0 194.9 L48.0 194.9 L47.2 194.4 M56.0 196.2 L56.9 195.3 L58.2 195.4 L58.1 194.3 L57.9 193.2 L58.4 192.1 L57.4 192.0 L57.7 193.2 L59.0 193.6 L60.3 193.3 L60.4 192.2 L60.5 191.1 L60.8 189.9 L61.9 189.2 L63.2 189.1 M57.2 202.3 L56.5 203.1 L56.9 204.3 L57.4 205.4 L57.9 206.6 L57.8 207.7 L59.1 208.0 L59.9 207.0 L60.6 206.0 L61.2 204.9 L61.3 203.8 L61.4 202.6 M50.4 201.0 L50.9 199.8 L51.1 198.7 L50.7 199.8 L51.5 200.8 L52.2 201.9 M48.2 199.4 L48.2 198.3 L47.9 197.3 L48.0 196.2 L48.9 195.2 L49.7 194.3 L49.6 193.2 L49.3 192.1 L48.9 191.1 L49.4 190.0 L50.1 189.0 L50.1 187.9 M48.6 197.7 L47.9 198.4 L47.5 199.5 L47.1 200.5 L46.3 201.1 L45.7 202.1 L45.7 200.9 L45.4 199.9 L46.2 199.0 M53.1 202.2 L54.3 202.7 L55.0 203.8 L54.1 203.5 L53.3 202.9 L53.8 201.8 L55.0 201.2 M55.5 200.4 L56.0 199.3 L57.4 199.2 L58.1 198.2 L59.0 197.3 L59.5 198.4 L60.3 199.4 L61.1 200.5 L60.6 201.4 L60.0 202.4 M50.3 199.6 L51.6 199.8 L51.4 200.9 L50.5 200.5 L49.6 200.1 L48.9 199.4 L48.0 199.1 L48.2 198.0 M50.6 200.9 L50.4 202.0 L49.4 202.0 L48.4 202.0 L47.7 202.7 L46.7 202.5 L45.7 202.4 L44.8 201.9 M57.3 202.2 L57.2 203.4 L56.4 204.0 L56.1 205.2 L55.9 206.3 L57.3 206.5 L57.0 207.6 L56.0 207.4 L55.7 208.5 L56.8 209.1 L57.6 208.2 L58.9 208.3 L60.2 208.0 L61.4 207.5 L62.5 206.8 L63.5 206.0 L63.2 204.9 M52.8 194.5 L52.2 195.5 L51.9 196.5 L52.5 197.6 M53.2 197.4 L53.5 198.6 L54.4 199.5 L55.7 199.8 L56.8 199.1 L57.5 198.1 L58.6 197.4 M54.2 200.6 L55.0 199.6 L55.0 200.7 L56.3 200.6 L57.4 199.9 L58.6 199.4 M53.2 200.1 L52.7 201.0 L51.7 201.3 L52.4 202.3 L53.7 202.6 M52.7 195.8 L52.4 196.9 L51.6 197.5 L50.6 197.3 L49.8 196.8 L49.3 195.8 L48.8 194.9 L48.0 195.5 L47.1 196.1 L46.1 196.3 M51.1 198.6 L50.1 198.4 L50.8 197.4 L50.8 196.3 L51.0 195.1 L51.0 194.0 L52.3 193.8 L53.6 194.0 L54.4 195.0 M50.6 198.8 L49.9 199.6 L48.9 199.4 L49.1 200.5 L48.4 201.4 L47.9 202.4 L47.1 202.9 L46.1 203.1 L46.3 204.3 L46.8 205.4 L45.8 205.8 L45.3 206.8 L45.9 207.9 L47.2 207.7 L47.6 206.6 L48.4 205.6 L49.5 206.4 M54.0 199.6 L55.3 199.6 L56.5 200.2 L57.2 201.3 L58.6 201.4 L59.3 200.4 L60.3 199.6 M53.4 194.9 L52.9 195.9 L52.5 196.9 L52.1 198.0 L52.2 199.1 L51.3 199.6 M56.9 197.7 L58.0 197.1 L59.3 197.2 L59.4 198.4 L60.0 199.5 L60.7 200.6 L61.1 201.7 L62.4 201.6 L63.8 201.5 L64.7 200.6 M53.8 195.5 L55.0 194.9 L55.7 193.9 L57.0 193.6 M51.9 197.0 L51.6 196.0 L51.3 194.9 L52.0 193.9 L52.5 192.8 L53.3 191.9 L53.4 190.7 L53.9 189.6 L55.2 190.0 L56.4 189.6 L56.1 190.7 L56.5 191.9 L56.9 193.0 L57.1 194.2 M55.8 195.1 L56.4 194.1 L57.6 193.5 L57.2 194.5 L56.6 195.4 L55.8 196.1 L54.9 195.8 L54.1 195.1 M57.7 195.1 L58.6 194.3 L59.2 193.2 L60.5 192.9 L60.3 194.0 L60.2 195.1 L60.4 196.3 L61.1 197.4 L62.4 197.7 L63.7 197.3 L65.0 197.6 L66.3 197.9 L67.5 198.4 L68.8 198.6 L69.6 199.7 L69.7 200.8 L70.0 202.0 L69.6 203.1" stroke="#000" stroke-width="0.35" fill="none" stroke-opacity="0.5" stroke-linejoin="round" clip-path="url(#cb0)"/>
<path d="M47.3 195 Q49.5 190.5 53 189.6 Q56.5 188 59.8 186.7" stroke="#000" stroke-width="0.5" fill="none" stroke-opacity="0.85"/>
<path d="M48.5 196 Q51 192.5 55.5 191.5" stroke="#000" stroke-width="0.4" fill="none" stroke-opacity="0.7"/>
<path d="M52 199 Q62 198.5 71.3 197" stroke="#000" stroke-width="0.35" fill="none" stroke-opacity="0.6"/>
<path d="M51 200 Q54 204 56 208.4" stroke="#000" stroke-width="0.35" fill="none" stroke-opacity="0.6"/>
<path d="M49 200 Q46 204 45.4 208.8" stroke="#000" stroke-width="0.35" fill="none" stroke-opacity="0.6"/>
<circle cx="45.4" cy="208.8" r="0.6" fill="#000" fill-opacity="0.6"/>
<circle cx="56" cy="208.4" r="0.6" fill="#000" fill-opacity="0.6"/>
<circle cx="71.3" cy="197" r="0.6" fill="#000" fill-opacity="0.6"/>
<circle cx="66.5" cy="205.5" r="0.6" fill="#000" fill-opacity="0.6"/>
<circle cx="62" cy="192.5" r="0.6" fill="#000" fill-opacity="0.6"/>
<circle cx="65" cy="192" r="0.6" fill="#000" fill-opacity="0.6"/>
<circle cx="61" cy="199.5" r="0.6" fill="#000" fill-opacity="0.6"/>
<path d="M52.0 198.8 L52.0 198.4 L52.1 198.0 L52.4 197.7 M49.6 204.0 L49.7 203.6 L49.7 203.2 L49.4 202.9 M51.6 200.3 L51.9 200.0 L52.0 199.6 L52.4 199.5 L52.7 199.2 L53.0 198.9 L53.4 199.0 M51.0 199.2 L50.9 199.7 L51.2 200.0 L51.6 200.0 M50.1 203.1 L50.4 203.4 L50.4 203.8 L50.5 204.3 L50.2 204.5 L50.0 204.2 L49.7 203.9 M48.7 198.3 L49.1 198.4 L49.5 198.7 L49.8 198.9 M47.9 199.6 L47.5 199.7 L47.1 199.8 L46.8 199.6 M51.1 199.0 L51.5 198.9 L51.9 199.0 L52.3 199.0 M51.0 199.1 L51.2 198.8 L51.4 198.4 L51.3 198.0 L51.2 197.6 L51.6 197.4 M47.8 198.8 L48.2 198.6 L48.6 198.6 L49.0 198.5 L49.2 198.1 L49.3 197.7 L49.6 197.4 M51.6 202.4 L51.4 202.0 L51.3 201.6 L50.9 201.6 M51.2 197.4 L51.6 197.4 L51.8 197.7 L52.2 197.9 M53.0 196.6 L52.6 196.7 L52.2 196.6 L52.0 196.9 M55.0 196.2 L55.4 196.1 L55.8 196.2 L56.2 196.1 L56.6 196.0 M51.7 204.7 L51.6 205.1 L51.8 205.5 L52.2 205.7 L52.2 206.1 L52.2 206.5 L52.6 206.8 M52.8 199.3 L53.2 199.5 L53.2 199.9 L53.5 200.2 L53.9 200.4 L54.2 200.7 M51.1 200.3 L51.2 200.0 L50.8 200.0 L50.4 199.9 M48.9 201.0 L49.2 201.3 L49.1 201.7 L48.8 201.9 L48.8 202.4 L49.2 202.5 M50.5 198.9 L50.8 199.1 L51.3 199.2 L51.7 199.2 L51.9 198.9 M51.3 200.6 L51.7 200.5 L51.7 200.9 L52.1 200.7 M50.6 197.1 L50.8 197.5 L50.7 197.1 L51.1 197.1 M53.4 197.7 L53.6 197.4 L54.0 197.2 L54.3 197.5 L54.4 197.9 M48.6 194.8 L48.8 195.2 L49.0 195.5 L49.2 195.9 M49.9 199.9 L49.8 199.5 L49.6 199.1 L49.2 199.1 M52.0 196.2 L51.6 196.3 L51.8 195.9 L51.5 195.6 M51.8 203.7 L52.1 203.9 L52.5 204.0 L52.7 203.7 M46.1 197.2 L46.5 197.0 L46.3 196.6 L46.3 196.2 M48.9 201.2 L48.6 201.4 L48.4 201.7 L48.0 201.8 L47.6 202.0 M46.4 199.5 L46.0 199.3 L45.9 198.9 L45.8 198.5 M49.3 197.2 L48.9 197.2 L48.6 196.9 L48.2 197.0" stroke="#000" stroke-width="0.4" fill="none" stroke-opacity="0.7" stroke-linejoin="round" clip-path="url(#cb0)"/>
<ellipse cx="50.2" cy="198.8" rx="3" ry="2.4" fill="#000" fill-opacity="0.85"/>
<path d="M106.9 198.9 Q104.5 195.7 101.0 192.0" stroke="#000" stroke-width="0.35" fill="none" stroke-opacity="0.8"/>
<path d="M106.9 198.9 Q108.6 195.8 109.2 192.3" stroke="#000" stroke-width="0.35" fill="none" stroke-opacity="0.8"/>
<path d="M106.9 198.9 Q111.0 198.3 114.0 197.2" stroke="#000" stroke-width="0.35" fill="none" stroke-opacity="0.8"/>
<path d="M106.9 198.9 Q106.0 202.2 104.0 205.0" stroke="#000" stroke-width="0.35" fill="none" stroke-opacity="0.8"/>
<path d="M106.9 198.9 Q105.2 199.9 102.5 200.5" stroke="#000" stroke-width="0.35" fill="none" stroke-opacity="0.8"/>
<path d="M106.9 198.9 Q109.5 200.4 111.0 201.5" stroke="#000" stroke-width="0.35" fill="none" stroke-opacity="0.8"/>
<ellipse cx="106.4" cy="198.9" rx="2.0" ry="1.6" fill="#000"/>
<text x="75.30" y="305.40" font-size="4.9" text-anchor="start" fill="#000" stroke="#000" stroke-width="0.1" dominant-baseline="central">gradient of IL-8</text>
<path d="M114 307.4 L134.2 303.8 L134.2 307.4 Z" stroke="none" stroke-width="0.5" fill="#000"/>
<line x1="329.80" y1="20.00" x2="329.80" y2="78.85" stroke="#000" stroke-width="0.9"/>
<line x1="328.50" y1="77.80" x2="329.80" y2="77.80" stroke="#000" stroke-width="0.5"/>
<text x="327.30" y="77.80" font-size="4.0" text-anchor="end" fill="#000" stroke="#000" stroke-width="0.15" dominant-baseline="central">0</text>
<line x1="328.50" y1="65.10" x2="329.80" y2="65.10" stroke="#000" stroke-width="0.5"/>
<text x="327.30" y="65.10" font-size="4.0" text-anchor="end" fill="#000" stroke="#000" stroke-width="0.15" dominant-baseline="central">20</text>
<line x1="328.50" y1="52.40" x2="329.80" y2="52.40" stroke="#000" stroke-width="0.5"/>
<text x="327.30" y="52.40" font-size="4.0" text-anchor="end" fill="#000" stroke="#000" stroke-width="0.15" dominant-baseline="central">40</text>
<line x1="328.50" y1="39.70" x2="329.80" y2="39.70" stroke="#000" stroke-width="0.5"/>
<text x="327.30" y="39.70" font-size="4.0" text-anchor="end" fill="#000" stroke="#000" stroke-width="0.15" dominant-baseline="central">60</text>
<line x1="328.50" y1="27.00" x2="329.80" y2="27.00" stroke="#000" stroke-width="0.5"/>
<text x="327.30" y="27.00" font-size="4.0" text-anchor="end" fill="#000" stroke="#000" stroke-width="0.15" dominant-baseline="central">80</text>
<line x1="329.80" y1="78.40" x2="375.20" y2="78.40" stroke="#000" stroke-width="0.9"/>
<line x1="341.50" y1="78.40" x2="341.50" y2="79.70" stroke="#000" stroke-width="0.6"/>
<line x1="352.70" y1="78.40" x2="352.70" y2="79.70" stroke="#000" stroke-width="0.6"/>
<line x1="363.70" y1="78.40" x2="363.70" y2="79.70" stroke="#000" stroke-width="0.6"/>
<line x1="374.90" y1="78.40" x2="374.90" y2="79.70" stroke="#000" stroke-width="0.6"/>
<rect x="333.30" y="27.90" width="5.20" height="50.50" fill="#000" stroke="none" stroke-width="0.5"/>
<line x1="335.90" y1="21.30" x2="335.90" y2="27.90" stroke="#000" stroke-width="0.65"/>
<line x1="333.70" y1="21.30" x2="338.10" y2="21.30" stroke="#000" stroke-width="0.75"/>
<rect x="344.30" y="39.70" width="5.30" height="38.70" fill="#000" stroke="none" stroke-width="0.5"/>
<line x1="346.95" y1="36.40" x2="346.95" y2="39.70" stroke="#000" stroke-width="0.65"/>
<line x1="344.72" y1="36.40" x2="349.18" y2="36.40" stroke="#000" stroke-width="0.75"/>
<rect x="355.50" y="58.90" width="5.20" height="19.50" fill="#000" stroke="none" stroke-width="0.5"/>
<line x1="358.10" y1="54.10" x2="358.10" y2="58.90" stroke="#000" stroke-width="0.65"/>
<line x1="355.90" y1="54.10" x2="360.30" y2="54.10" stroke="#000" stroke-width="0.75"/>
<rect x="367.00" y="74.70" width="5.20" height="3.70" fill="#000" stroke="none" stroke-width="0.5"/>
<line x1="369.60" y1="73.40" x2="369.60" y2="74.70" stroke="#000" stroke-width="0.65"/>
<line x1="367.40" y1="73.40" x2="371.80" y2="73.40" stroke="#000" stroke-width="0.75"/>
<text x="335.90" y="83.70" font-size="4.0" text-anchor="middle" fill="#000" stroke="#000" stroke-width="0.15" dominant-baseline="central">–</text>
<text x="347.00" y="83.70" font-size="4.0" text-anchor="middle" fill="#000" stroke="#000" stroke-width="0.15" dominant-baseline="central">10</text>
<text x="358.10" y="83.70" font-size="4.0" text-anchor="middle" fill="#000" stroke="#000" stroke-width="0.15" dominant-baseline="central">30</text>
<text x="369.60" y="83.70" font-size="4.0" text-anchor="middle" fill="#000" stroke="#000" stroke-width="0.15" dominant-baseline="central">100</text>
<text x="353.80" y="90.30" font-size="4.8" text-anchor="middle" dominant-baseline="central"><tspan font-weight="bold">Dasatinib</tspan> (nM)</text>
<text x="318.10" y="47.10" font-size="5.0" text-anchor="middle" font-weight="bold" transform="rotate(-90 318.10 47.10)" fill="#000" stroke="#000" stroke-width="0.18" dominant-baseline="central" textLength="40.6" lengthAdjust="spacingAndGlyphs">Migrated cells (%)</text>
<line x1="398.70" y1="21.30" x2="398.70" y2="79.05" stroke="#000" stroke-width="0.9"/>
<line x1="397.40" y1="78.00" x2="398.70" y2="78.00" stroke="#000" stroke-width="0.5"/>
<text x="396.20" y="78.00" font-size="4.0" text-anchor="end" fill="#000" stroke="#000" stroke-width="0.15" dominant-baseline="central">0</text>
<line x1="397.40" y1="63.30" x2="398.70" y2="63.30" stroke="#000" stroke-width="0.5"/>
<text x="396.20" y="63.30" font-size="4.0" text-anchor="end" fill="#000" stroke="#000" stroke-width="0.15" dominant-baseline="central">20</text>
<line x1="397.40" y1="48.70" x2="398.70" y2="48.70" stroke="#000" stroke-width="0.5"/>
<text x="396.20" y="48.70" font-size="4.0" text-anchor="end" fill="#000" stroke="#000" stroke-width="0.15" dominant-baseline="central">40</text>
<line x1="397.40" y1="34.00" x2="398.70" y2="34.00" stroke="#000" stroke-width="0.5"/>
<text x="396.20" y="34.00" font-size="4.0" text-anchor="end" fill="#000" stroke="#000" stroke-width="0.15" dominant-baseline="central">60</text>
<line x1="398.70" y1="78.40" x2="439.50" y2="78.40" stroke="#000" stroke-width="0.9"/>
<line x1="409.60" y1="78.40" x2="409.60" y2="79.70" stroke="#000" stroke-width="0.6"/>
<line x1="420.10" y1="78.40" x2="420.10" y2="79.70" stroke="#000" stroke-width="0.6"/>
<line x1="430.60" y1="78.40" x2="430.60" y2="79.70" stroke="#000" stroke-width="0.6"/>
<line x1="439.20" y1="78.40" x2="439.20" y2="79.70" stroke="#000" stroke-width="0.6"/>
<rect x="402.00" y="39.20" width="4.90" height="39.20" fill="#000" stroke="none" stroke-width="0.5"/>
<line x1="404.45" y1="24.20" x2="404.45" y2="39.20" stroke="#000" stroke-width="0.65"/>
<line x1="402.25" y1="24.20" x2="406.65" y2="24.20" stroke="#000" stroke-width="0.75"/>
<rect x="412.40" y="53.70" width="4.90" height="24.70" fill="#000" stroke="none" stroke-width="0.5"/>
<line x1="414.85" y1="45.50" x2="414.85" y2="53.70" stroke="#000" stroke-width="0.65"/>
<line x1="412.65" y1="45.50" x2="417.05" y2="45.50" stroke="#000" stroke-width="0.75"/>
<rect x="422.80" y="65.20" width="5.10" height="13.20" fill="#000" stroke="none" stroke-width="0.5"/>
<line x1="425.35" y1="62.00" x2="425.35" y2="65.20" stroke="#000" stroke-width="0.65"/>
<line x1="423.15" y1="62.00" x2="427.55" y2="62.00" stroke="#000" stroke-width="0.75"/>
<rect x="433.30" y="74.70" width="5.20" height="3.70" fill="#000" stroke="none" stroke-width="0.5"/>
<line x1="435.90" y1="73.20" x2="435.90" y2="74.70" stroke="#000" stroke-width="0.65"/>
<line x1="433.70" y1="73.20" x2="438.10" y2="73.20" stroke="#000" stroke-width="0.75"/>
<text x="404.50" y="83.70" font-size="4.0" text-anchor="middle" fill="#000" stroke="#000" stroke-width="0.15" dominant-baseline="central">–</text>
<text x="414.90" y="83.70" font-size="4.0" text-anchor="middle" fill="#000" stroke="#000" stroke-width="0.15" dominant-baseline="central">10</text>
<text x="425.40" y="83.70" font-size="4.0" text-anchor="middle" fill="#000" stroke="#000" stroke-width="0.15" dominant-baseline="central">30</text>
<text x="435.90" y="83.70" font-size="4.0" text-anchor="middle" fill="#000" stroke="#000" stroke-width="0.15" dominant-baseline="central">100</text>
<text x="419.40" y="90.50" font-size="4.8" text-anchor="middle" dominant-baseline="central"><tspan font-weight="bold">Dasatinib</tspan> (nM)</text>
<text x="388.20" y="47.75" font-size="5.0" text-anchor="middle" font-weight="bold" transform="rotate(-90 388.20 47.75)" fill="#000" stroke="#000" stroke-width="0.18" dominant-baseline="central" textLength="53.9" lengthAdjust="spacingAndGlyphs">Euclidean distance (µm)</text>
<line x1="467.80" y1="20.00" x2="467.80" y2="79.05" stroke="#000" stroke-width="0.9"/>
<line x1="466.50" y1="78.00" x2="467.80" y2="78.00" stroke="#000" stroke-width="0.5"/>
<text x="465.30" y="78.00" font-size="4.0" text-anchor="end" fill="#000" stroke="#000" stroke-width="0.15" dominant-baseline="central">0</text>
<line x1="466.50" y1="64.90" x2="467.80" y2="64.90" stroke="#000" stroke-width="0.5"/>
<text x="465.30" y="64.90" font-size="4.0" text-anchor="end" fill="#000" stroke="#000" stroke-width="0.15" dominant-baseline="central">5</text>
<line x1="466.50" y1="51.70" x2="467.80" y2="51.70" stroke="#000" stroke-width="0.5"/>
<text x="465.30" y="51.70" font-size="4.0" text-anchor="end" fill="#000" stroke="#000" stroke-width="0.15" dominant-baseline="central">10</text>
<line x1="466.50" y1="38.60" x2="467.80" y2="38.60" stroke="#000" stroke-width="0.5"/>
<text x="465.30" y="38.60" font-size="4.0" text-anchor="end" fill="#000" stroke="#000" stroke-width="0.15" dominant-baseline="central">15</text>
<line x1="466.50" y1="25.50" x2="467.80" y2="25.50" stroke="#000" stroke-width="0.5"/>
<text x="465.30" y="25.50" font-size="4.0" text-anchor="end" fill="#000" stroke="#000" stroke-width="0.15" dominant-baseline="central">20</text>
<line x1="467.80" y1="78.40" x2="509.60" y2="78.40" stroke="#000" stroke-width="0.9"/>
<line x1="478.60" y1="78.40" x2="478.60" y2="79.70" stroke="#000" stroke-width="0.6"/>
<line x1="489.60" y1="78.40" x2="489.60" y2="79.70" stroke="#000" stroke-width="0.6"/>
<line x1="500.60" y1="78.40" x2="500.60" y2="79.70" stroke="#000" stroke-width="0.6"/>
<line x1="509.30" y1="78.40" x2="509.30" y2="79.70" stroke="#000" stroke-width="0.6"/>
<rect x="470.90" y="40.00" width="4.70" height="38.40" fill="#000" stroke="none" stroke-width="0.5"/>
<line x1="473.25" y1="23.70" x2="473.25" y2="40.00" stroke="#000" stroke-width="0.65"/>
<line x1="471.05" y1="23.70" x2="475.45" y2="23.70" stroke="#000" stroke-width="0.75"/>
<rect x="481.80" y="55.00" width="5.10" height="23.40" fill="#000" stroke="none" stroke-width="0.5"/>
<line x1="484.35" y1="47.40" x2="484.35" y2="55.00" stroke="#000" stroke-width="0.65"/>
<line x1="482.15" y1="47.40" x2="486.55" y2="47.40" stroke="#000" stroke-width="0.75"/>
<rect x="492.80" y="62.00" width="5.10" height="16.40" fill="#000" stroke="none" stroke-width="0.5"/>
<rect x="503.70" y="68.00" width="5.10" height="10.40" fill="#000" stroke="none" stroke-width="0.5"/>
<line x1="506.25" y1="62.50" x2="506.25" y2="68.00" stroke="#000" stroke-width="0.65"/>
<line x1="504.05" y1="62.50" x2="508.45" y2="62.50" stroke="#000" stroke-width="0.75"/>
<text x="473.30" y="83.70" font-size="4.0" text-anchor="middle" fill="#000" stroke="#000" stroke-width="0.15" dominant-baseline="central">–</text>
<text x="484.40" y="83.70" font-size="4.0" text-anchor="middle" fill="#000" stroke="#000" stroke-width="0.15" dominant-baseline="central">10</text>
<text x="495.40" y="83.70" font-size="4.0" text-anchor="middle" fill="#000" stroke="#000" stroke-width="0.15" dominant-baseline="central">30</text>
<text x="506.30" y="83.70" font-size="4.0" text-anchor="middle" fill="#000" stroke="#000" stroke-width="0.15" dominant-baseline="central">100</text>
<text x="490.10" y="90.50" font-size="4.8" text-anchor="middle" dominant-baseline="central"><tspan font-weight="bold">Dasatinib</tspan> (nM)</text>
<text x="455.70" y="44.65" font-size="5.0" text-anchor="middle" transform="rotate(-90 455.70 44.65)" fill="#000" stroke="#000" stroke-width="0.1" dominant-baseline="central" textLength="55.1" lengthAdjust="spacingAndGlyphs">Migration velocity (µm/min)</text>
<line x1="329.40" y1="100.10" x2="329.40" y2="159.25" stroke="#000" stroke-width="0.9"/>
<line x1="328.10" y1="158.20" x2="329.40" y2="158.20" stroke="#000" stroke-width="0.5"/>
<text x="326.90" y="158.20" font-size="4.0" text-anchor="end" fill="#000" stroke="#000" stroke-width="0.15" dominant-baseline="central">0</text>
<line x1="328.10" y1="146.10" x2="329.40" y2="146.10" stroke="#000" stroke-width="0.5"/>
<text x="326.90" y="146.10" font-size="4.0" text-anchor="end" fill="#000" stroke="#000" stroke-width="0.15" dominant-baseline="central">25</text>
<line x1="328.10" y1="134.10" x2="329.40" y2="134.10" stroke="#000" stroke-width="0.5"/>
<text x="326.90" y="134.10" font-size="4.0" text-anchor="end" fill="#000" stroke="#000" stroke-width="0.15" dominant-baseline="central">50</text>
<line x1="328.10" y1="122.00" x2="329.40" y2="122.00" stroke="#000" stroke-width="0.5"/>
<text x="326.90" y="122.00" font-size="4.0" text-anchor="end" fill="#000" stroke="#000" stroke-width="0.15" dominant-baseline="central">75</text>
<line x1="328.10" y1="109.90" x2="329.40" y2="109.90" stroke="#000" stroke-width="0.5"/>
<text x="326.90" y="109.90" font-size="4.0" text-anchor="end" fill="#000" stroke="#000" stroke-width="0.15" dominant-baseline="central">100</text>
<line x1="329.40" y1="158.20" x2="334.90" y2="158.20" stroke="#000" stroke-width="0.9"/>
<line x1="339.90" y1="158.20" x2="376.40" y2="158.20" stroke="#000" stroke-width="0.9"/>
<line x1="330.00" y1="158.20" x2="330.00" y2="159.40" stroke="#000" stroke-width="0.5"/>
<line x1="345.10" y1="158.20" x2="345.10" y2="159.40" stroke="#000" stroke-width="0.5"/>
<line x1="360.10" y1="158.20" x2="360.10" y2="159.40" stroke="#000" stroke-width="0.5"/>
<line x1="375.20" y1="158.20" x2="375.20" y2="159.40" stroke="#000" stroke-width="0.5"/>
<text x="330.00" y="164.00" font-size="4.0" text-anchor="middle" fill="#000" stroke="#000" stroke-width="0.15" dominant-baseline="central">0</text>
<text x="345.10" y="164.00" font-size="4.0" text-anchor="middle" fill="#000" stroke="#000" stroke-width="0.15" dominant-baseline="central">10</text>
<text x="360.10" y="164.00" font-size="4.0" text-anchor="middle" fill="#000" stroke="#000" stroke-width="0.15" dominant-baseline="central">100</text>
<text x="375.20" y="164.00" font-size="4.0" text-anchor="middle" fill="#000" stroke="#000" stroke-width="0.15" dominant-baseline="central">1000</text>
<text x="353.40" y="170.60" font-size="4.8" text-anchor="middle" dominant-baseline="central"><tspan font-weight="bold">Dasatinib</tspan> (nM)</text>
<line x1="330.00" y1="109.70" x2="334.98" y2="109.90" stroke="#000" stroke-width="0.9"/>
<line x1="339.36" y1="110.07" x2="345.10" y2="110.30" stroke="#000" stroke-width="0.9"/>
<path d="M345.10 110.30 L352.60 130.60 L360.10 148.30 L375.40 144.90" stroke="#000" stroke-width="0.9" fill="none" stroke-linejoin="round"/>
<line x1="345.10" y1="102.80" x2="345.10" y2="110.30" stroke="#000" stroke-width="0.65"/>
<line x1="342.90" y1="102.80" x2="347.30" y2="102.80" stroke="#000" stroke-width="0.75"/>
<line x1="352.60" y1="118.40" x2="352.60" y2="130.60" stroke="#000" stroke-width="0.65"/>
<line x1="350.40" y1="118.40" x2="354.80" y2="118.40" stroke="#000" stroke-width="0.75"/>
<line x1="360.10" y1="135.00" x2="360.10" y2="148.30" stroke="#000" stroke-width="0.65"/>
<line x1="357.90" y1="135.00" x2="362.30" y2="135.00" stroke="#000" stroke-width="0.75"/>
<line x1="375.40" y1="136.00" x2="375.40" y2="144.90" stroke="#000" stroke-width="0.65"/>
<line x1="373.20" y1="136.00" x2="377.60" y2="136.00" stroke="#000" stroke-width="0.75"/>
<circle cx="330.00" cy="109.70" r="1.5" fill="#000"/>
<circle cx="345.10" cy="110.30" r="1.5" fill="#000"/>
<circle cx="352.60" cy="130.60" r="1.5" fill="#000"/>
<circle cx="360.10" cy="148.30" r="1.5" fill="#000"/>
<circle cx="375.40" cy="144.90" r="1.5" fill="#000"/>
<text x="348.90" y="107.20" font-size="4.75" stroke="#000" stroke-width="0.1" dominant-baseline="central">IC<tspan font-size="3.1" dy="1">50</tspan><tspan dy="-1">: 28 nM</tspan></text>
<text x="348.90" y="114.00" font-size="4.75" text-anchor="start" fill="#000" stroke="#000" stroke-width="0.1" dominant-baseline="central">Max. inh.: 76%</text>
<text x="317.70" y="127.40" font-size="5.0" text-anchor="middle" font-weight="bold" transform="rotate(-90 317.70 127.40)" fill="#000" stroke="#000" stroke-width="0.18" dominant-baseline="central" textLength="63.0" lengthAdjust="spacingAndGlyphs">Migrated cells (% of vehicle)</text>
<line x1="398.50" y1="99.60" x2="398.50" y2="159.25" stroke="#000" stroke-width="0.9"/>
<line x1="397.20" y1="158.20" x2="398.50" y2="158.20" stroke="#000" stroke-width="0.5"/>
<text x="396.00" y="158.20" font-size="4.0" text-anchor="end" fill="#000" stroke="#000" stroke-width="0.15" dominant-baseline="central">0</text>
<line x1="397.20" y1="139.00" x2="398.50" y2="139.00" stroke="#000" stroke-width="0.5"/>
<text x="396.00" y="139.00" font-size="4.0" text-anchor="end" fill="#000" stroke="#000" stroke-width="0.15" dominant-baseline="central">50</text>
<line x1="397.20" y1="119.80" x2="398.50" y2="119.80" stroke="#000" stroke-width="0.5"/>
<text x="396.00" y="119.80" font-size="4.0" text-anchor="end" fill="#000" stroke="#000" stroke-width="0.15" dominant-baseline="central">100</text>
<line x1="397.20" y1="101.30" x2="398.50" y2="101.30" stroke="#000" stroke-width="0.5"/>
<text x="396.00" y="101.30" font-size="4.0" text-anchor="end" fill="#000" stroke="#000" stroke-width="0.15" dominant-baseline="central">150</text>
<line x1="398.50" y1="158.20" x2="404.00" y2="158.20" stroke="#000" stroke-width="0.9"/>
<line x1="409.00" y1="158.20" x2="442.20" y2="158.20" stroke="#000" stroke-width="0.9"/>
<line x1="399.20" y1="158.20" x2="399.20" y2="159.40" stroke="#000" stroke-width="0.5"/>
<line x1="413.30" y1="158.20" x2="413.30" y2="159.40" stroke="#000" stroke-width="0.5"/>
<line x1="427.50" y1="158.20" x2="427.50" y2="159.40" stroke="#000" stroke-width="0.5"/>
<line x1="441.00" y1="158.20" x2="441.00" y2="159.40" stroke="#000" stroke-width="0.5"/>
<text x="399.20" y="164.00" font-size="4.0" text-anchor="middle" fill="#000" stroke="#000" stroke-width="0.15" dominant-baseline="central">0</text>
<text x="413.30" y="164.00" font-size="4.0" text-anchor="middle" fill="#000" stroke="#000" stroke-width="0.15" dominant-baseline="central">10</text>
<text x="427.50" y="164.00" font-size="4.0" text-anchor="middle" fill="#000" stroke="#000" stroke-width="0.15" dominant-baseline="central">100</text>
<text x="441.00" y="164.00" font-size="4.0" text-anchor="middle" fill="#000" stroke="#000" stroke-width="0.15" dominant-baseline="central">1000</text>
<text x="420.90" y="170.60" font-size="4.8" text-anchor="middle" dominant-baseline="central"><tspan font-weight="bold">Dasatinib</tspan> (nM)</text>
<line x1="399.20" y1="119.60" x2="403.85" y2="118.91" stroke="#000" stroke-width="0.9"/>
<line x1="407.94" y1="118.30" x2="413.30" y2="117.50" stroke="#000" stroke-width="0.9"/>
<path d="M413.30 117.50 L420.30 139.20 L427.50 150.80 L441.50 146.70" stroke="#000" stroke-width="0.9" fill="none" stroke-linejoin="round"/>
<line x1="413.30" y1="103.80" x2="413.30" y2="117.50" stroke="#000" stroke-width="0.65"/>
<line x1="411.10" y1="103.80" x2="415.50" y2="103.80" stroke="#000" stroke-width="0.75"/>
<line x1="420.30" y1="134.20" x2="420.30" y2="139.20" stroke="#000" stroke-width="0.65"/>
<line x1="418.10" y1="134.20" x2="422.50" y2="134.20" stroke="#000" stroke-width="0.75"/>
<line x1="427.50" y1="144.00" x2="427.50" y2="150.80" stroke="#000" stroke-width="0.65"/>
<line x1="425.30" y1="144.00" x2="429.70" y2="144.00" stroke="#000" stroke-width="0.75"/>
<line x1="441.50" y1="138.80" x2="441.50" y2="146.70" stroke="#000" stroke-width="0.65"/>
<line x1="439.30" y1="138.80" x2="443.70" y2="138.80" stroke="#000" stroke-width="0.75"/>
<circle cx="399.20" cy="119.60" r="1.5" fill="#000"/>
<circle cx="413.30" cy="117.50" r="1.5" fill="#000"/>
<circle cx="420.30" cy="139.20" r="1.5" fill="#000"/>
<circle cx="427.50" cy="150.80" r="1.5" fill="#000"/>
<circle cx="441.50" cy="146.70" r="1.5" fill="#000"/>
<text x="419.60" y="107.20" font-size="4.75" stroke="#000" stroke-width="0.1" dominant-baseline="central">IC<tspan font-size="3.1" dy="1">50</tspan><tspan dy="-1">: 28 nM</tspan></text>
<text x="419.60" y="114.00" font-size="4.75" text-anchor="start" fill="#000" stroke="#000" stroke-width="0.1" dominant-baseline="central">Max. inh.: 76%</text>
<text x="386.40" y="128.35" font-size="5.0" text-anchor="middle" font-weight="bold" transform="rotate(-90 386.40 128.35)" fill="#000" stroke="#000" stroke-width="0.18" dominant-baseline="central" textLength="64.8" lengthAdjust="spacingAndGlyphs">Euclidean dist. (% of vehicle)</text>
<line x1="466.80" y1="99.60" x2="466.80" y2="159.15" stroke="#000" stroke-width="0.9"/>
<line x1="465.50" y1="158.10" x2="466.80" y2="158.10" stroke="#000" stroke-width="0.5"/>
<text x="464.30" y="158.10" font-size="4.0" text-anchor="end" fill="#000" stroke="#000" stroke-width="0.15" dominant-baseline="central">0</text>
<line x1="465.50" y1="146.50" x2="466.80" y2="146.50" stroke="#000" stroke-width="0.5"/>
<text x="464.30" y="146.50" font-size="4.0" text-anchor="end" fill="#000" stroke="#000" stroke-width="0.15" dominant-baseline="central">25</text>
<line x1="465.50" y1="135.00" x2="466.80" y2="135.00" stroke="#000" stroke-width="0.5"/>
<text x="464.30" y="135.00" font-size="4.0" text-anchor="end" fill="#000" stroke="#000" stroke-width="0.15" dominant-baseline="central">50</text>
<line x1="465.50" y1="123.50" x2="466.80" y2="123.50" stroke="#000" stroke-width="0.5"/>
<text x="464.30" y="123.50" font-size="4.0" text-anchor="end" fill="#000" stroke="#000" stroke-width="0.15" dominant-baseline="central">75</text>
<line x1="465.50" y1="112.00" x2="466.80" y2="112.00" stroke="#000" stroke-width="0.5"/>
<text x="464.30" y="112.00" font-size="4.0" text-anchor="end" fill="#000" stroke="#000" stroke-width="0.15" dominant-baseline="central">100</text>
<line x1="465.50" y1="100.50" x2="466.80" y2="100.50" stroke="#000" stroke-width="0.5"/>
<text x="464.30" y="100.50" font-size="4.0" text-anchor="end" fill="#000" stroke="#000" stroke-width="0.15" dominant-baseline="central">125</text>
<line x1="466.80" y1="158.10" x2="472.30" y2="158.10" stroke="#000" stroke-width="0.9"/>
<line x1="477.30" y1="158.10" x2="512.50" y2="158.10" stroke="#000" stroke-width="0.9"/>
<line x1="467.20" y1="158.10" x2="467.20" y2="159.30" stroke="#000" stroke-width="0.5"/>
<line x1="481.80" y1="158.10" x2="481.80" y2="159.30" stroke="#000" stroke-width="0.5"/>
<line x1="496.30" y1="158.10" x2="496.30" y2="159.30" stroke="#000" stroke-width="0.5"/>
<line x1="511.30" y1="158.10" x2="511.30" y2="159.30" stroke="#000" stroke-width="0.5"/>
<text x="467.20" y="163.90" font-size="4.0" text-anchor="middle" fill="#000" stroke="#000" stroke-width="0.15" dominant-baseline="central">0</text>
<text x="481.80" y="163.90" font-size="4.0" text-anchor="middle" fill="#000" stroke="#000" stroke-width="0.15" dominant-baseline="central">10</text>
<text x="496.30" y="163.90" font-size="4.0" text-anchor="middle" fill="#000" stroke="#000" stroke-width="0.15" dominant-baseline="central">100</text>
<text x="511.30" y="163.90" font-size="4.0" text-anchor="middle" fill="#000" stroke="#000" stroke-width="0.15" dominant-baseline="central">1000</text>
<text x="490.05" y="170.50" font-size="4.8" text-anchor="middle" dominant-baseline="central"><tspan font-weight="bold">Dasatinib</tspan> (nM)</text>
<line x1="467.20" y1="112.10" x2="472.02" y2="114.38" stroke="#000" stroke-width="0.9"/>
<line x1="476.25" y1="116.38" x2="481.80" y2="119.00" stroke="#000" stroke-width="0.9"/>
<path d="M481.80 119.00 L489.30 128.30 L496.30 138.30 L511.50 132.10" stroke="#000" stroke-width="0.9" fill="none" stroke-linejoin="round"/>
<line x1="481.80" y1="101.70" x2="481.80" y2="119.00" stroke="#000" stroke-width="0.65"/>
<line x1="479.60" y1="101.70" x2="484.00" y2="101.70" stroke="#000" stroke-width="0.75"/>
<line x1="489.30" y1="122.50" x2="489.30" y2="128.30" stroke="#000" stroke-width="0.65"/>
<line x1="487.10" y1="122.50" x2="491.50" y2="122.50" stroke="#000" stroke-width="0.75"/>
<line x1="496.30" y1="130.40" x2="496.30" y2="138.30" stroke="#000" stroke-width="0.65"/>
<line x1="494.10" y1="130.40" x2="498.50" y2="130.40" stroke="#000" stroke-width="0.75"/>
<line x1="511.50" y1="122.00" x2="511.50" y2="132.10" stroke="#000" stroke-width="0.65"/>
<line x1="509.30" y1="122.00" x2="513.70" y2="122.00" stroke="#000" stroke-width="0.75"/>
<circle cx="467.20" cy="112.10" r="1.5" fill="#000"/>
<circle cx="481.80" cy="119.00" r="1.5" fill="#000"/>
<circle cx="489.30" cy="128.30" r="1.5" fill="#000"/>
<circle cx="496.30" cy="138.30" r="1.5" fill="#000"/>
<circle cx="511.50" cy="132.10" r="1.5" fill="#000"/>
<text x="487.20" y="107.20" font-size="4.75" stroke="#000" stroke-width="0.1" dominant-baseline="central">IC<tspan font-size="3.1" dy="1">50</tspan><tspan dy="-1">: 17 nM</tspan></text>
<text x="487.20" y="114.00" font-size="4.75" text-anchor="start" fill="#000" stroke="#000" stroke-width="0.1" dominant-baseline="central">Max. inh.: 50%</text>
<text x="453.80" y="128.20" font-size="5.0" text-anchor="middle" transform="rotate(-90 453.80 128.20)" fill="#000" stroke="#000" stroke-width="0.1" dominant-baseline="central" textLength="71.4" lengthAdjust="spacingAndGlyphs">Migration velocity (% of vehicle)</text>
<line x1="168.80" y1="189.60" x2="168.80" y2="247.95" stroke="#000" stroke-width="0.9"/>
<line x1="167.50" y1="246.90" x2="168.80" y2="246.90" stroke="#000" stroke-width="0.5"/>
<text x="166.30" y="246.90" font-size="4.0" text-anchor="end" fill="#000" stroke="#000" stroke-width="0.15" dominant-baseline="central">0</text>
<line x1="167.50" y1="233.90" x2="168.80" y2="233.90" stroke="#000" stroke-width="0.5"/>
<text x="166.30" y="233.90" font-size="4.0" text-anchor="end" fill="#000" stroke="#000" stroke-width="0.15" dominant-baseline="central">25</text>
<line x1="167.50" y1="221.00" x2="168.80" y2="221.00" stroke="#000" stroke-width="0.5"/>
<text x="166.30" y="221.00" font-size="4.0" text-anchor="end" fill="#000" stroke="#000" stroke-width="0.15" dominant-baseline="central">50</text>
<line x1="167.50" y1="207.80" x2="168.80" y2="207.80" stroke="#000" stroke-width="0.5"/>
<text x="166.30" y="207.80" font-size="4.0" text-anchor="end" fill="#000" stroke="#000" stroke-width="0.15" dominant-baseline="central">75</text>
<line x1="167.50" y1="195.10" x2="168.80" y2="195.10" stroke="#000" stroke-width="0.5"/>
<text x="166.30" y="195.10" font-size="4.0" text-anchor="end" fill="#000" stroke="#000" stroke-width="0.15" dominant-baseline="central">100</text>
<line x1="168.80" y1="247.50" x2="210.00" y2="247.50" stroke="#000" stroke-width="0.9"/>
<line x1="189.00" y1="247.50" x2="189.00" y2="248.80" stroke="#000" stroke-width="0.6"/>
<line x1="209.70" y1="247.50" x2="209.70" y2="248.80" stroke="#000" stroke-width="0.6"/>
<rect x="172.90" y="194.70" width="6.50" height="52.80" fill="#000" stroke="none" stroke-width="0.5"/>
<line x1="176.15" y1="192.30" x2="176.15" y2="194.70" stroke="#000" stroke-width="0.65"/>
<line x1="173.42" y1="192.30" x2="178.88" y2="192.30" stroke="#000" stroke-width="0.75"/>
<rect x="179.65" y="220.90" width="5.60" height="26.60" fill="#fff" stroke="#000" stroke-width="0.5"/>
<line x1="182.45" y1="218.80" x2="182.45" y2="220.90" stroke="#000" stroke-width="0.65"/>
<line x1="179.89" y1="218.80" x2="185.01" y2="218.80" stroke="#000" stroke-width="0.75"/>
<rect x="194.10" y="213.20" width="6.10" height="34.30" fill="#000" stroke="none" stroke-width="0.5"/>
<line x1="197.15" y1="211.50" x2="197.15" y2="213.20" stroke="#000" stroke-width="0.65"/>
<line x1="194.59" y1="211.50" x2="199.71" y2="211.50" stroke="#000" stroke-width="0.75"/>
<rect x="200.45" y="240.30" width="5.00" height="7.20" fill="#fff" stroke="#000" stroke-width="0.5"/>
<line x1="202.95" y1="238.00" x2="202.95" y2="240.30" stroke="#000" stroke-width="0.65"/>
<line x1="200.64" y1="238.00" x2="205.26" y2="238.00" stroke="#000" stroke-width="0.75"/>
<text x="191.50" y="184.80" font-size="4.8" text-anchor="middle" font-weight="bold" fill="#000" stroke="#000" stroke-width="0.18" dominant-baseline="central">fMLP on Fbg</text>
<text x="179.50" y="252.90" font-size="4.0" text-anchor="middle" fill="#000" stroke="#000" stroke-width="0.15" dominant-baseline="central">–</text>
<text x="200.40" y="252.90" font-size="4.0" text-anchor="middle" fill="#000" stroke="#000" stroke-width="0.15" dominant-baseline="central">100 nM</text>
<text x="190.00" y="259.80" font-size="4.9" text-anchor="middle" font-weight="bold" fill="#000" stroke="#000" stroke-width="0.18" dominant-baseline="central">Dasatinib</text>
<text x="155.60" y="215.60" font-size="5.0" text-anchor="middle" font-weight="bold" transform="rotate(-90 155.60 215.60)" fill="#000" stroke="#000" stroke-width="0.18" dominant-baseline="central" textLength="52.1" lengthAdjust="spacingAndGlyphs">Adherent cells per FOV</text>
<line x1="230.00" y1="191.40" x2="230.00" y2="248.05" stroke="#000" stroke-width="0.9"/>
<line x1="228.70" y1="247.00" x2="230.00" y2="247.00" stroke="#000" stroke-width="0.5"/>
<text x="227.50" y="247.00" font-size="4.0" text-anchor="end" fill="#000" stroke="#000" stroke-width="0.15" dominant-baseline="central">0</text>
<line x1="228.70" y1="234.40" x2="230.00" y2="234.40" stroke="#000" stroke-width="0.5"/>
<text x="227.50" y="234.40" font-size="4.0" text-anchor="end" fill="#000" stroke="#000" stroke-width="0.15" dominant-baseline="central">25</text>
<line x1="228.70" y1="221.50" x2="230.00" y2="221.50" stroke="#000" stroke-width="0.5"/>
<text x="227.50" y="221.50" font-size="4.0" text-anchor="end" fill="#000" stroke="#000" stroke-width="0.15" dominant-baseline="central">50</text>
<line x1="228.70" y1="208.50" x2="230.00" y2="208.50" stroke="#000" stroke-width="0.5"/>
<text x="227.50" y="208.50" font-size="4.0" text-anchor="end" fill="#000" stroke="#000" stroke-width="0.15" dominant-baseline="central">75</text>
<line x1="228.70" y1="195.60" x2="230.00" y2="195.60" stroke="#000" stroke-width="0.5"/>
<text x="227.50" y="195.60" font-size="4.0" text-anchor="end" fill="#000" stroke="#000" stroke-width="0.15" dominant-baseline="central">100</text>
<line x1="230.00" y1="247.60" x2="274.50" y2="247.60" stroke="#000" stroke-width="0.9"/>
<line x1="250.60" y1="247.60" x2="250.60" y2="248.90" stroke="#000" stroke-width="0.6"/>
<line x1="274.20" y1="247.60" x2="274.20" y2="248.90" stroke="#000" stroke-width="0.6"/>
<rect x="234.20" y="199.20" width="6.30" height="48.40" fill="#000" stroke="none" stroke-width="0.5"/>
<line x1="237.35" y1="195.60" x2="237.35" y2="199.20" stroke="#000" stroke-width="0.65"/>
<line x1="234.70" y1="195.60" x2="240.00" y2="195.60" stroke="#000" stroke-width="0.75"/>
<rect x="240.75" y="224.70" width="5.40" height="22.90" fill="#fff" stroke="#000" stroke-width="0.5"/>
<line x1="243.45" y1="219.60" x2="243.45" y2="224.70" stroke="#000" stroke-width="0.65"/>
<line x1="240.97" y1="219.60" x2="245.93" y2="219.60" stroke="#000" stroke-width="0.75"/>
<rect x="255.00" y="225.00" width="6.10" height="22.60" fill="#000" stroke="none" stroke-width="0.5"/>
<line x1="258.05" y1="219.10" x2="258.05" y2="225.00" stroke="#000" stroke-width="0.65"/>
<line x1="255.49" y1="219.10" x2="260.61" y2="219.10" stroke="#000" stroke-width="0.75"/>
<rect x="261.35" y="234.40" width="5.20" height="13.20" fill="#fff" stroke="#000" stroke-width="0.5"/>
<line x1="263.95" y1="229.40" x2="263.95" y2="234.40" stroke="#000" stroke-width="0.65"/>
<line x1="261.56" y1="229.40" x2="266.34" y2="229.40" stroke="#000" stroke-width="0.75"/>
<text x="250.60" y="184.70" font-size="4.8" text-anchor="middle" font-weight="bold" fill="#000" stroke="#000" stroke-width="0.18" dominant-baseline="central">fMLP on ICAM1</text>
<rect x="262.60" y="192.20" width="3.30" height="3.50" fill="#000" stroke="none" stroke-width="0.5"/>
<rect x="262.95" y="199.00" width="2.90" height="3.00" fill="#fff" stroke="#000" stroke-width="0.7"/>
<text x="266.60" y="194.00" font-size="4.7" text-anchor="start" fill="#000" stroke="#000" stroke-width="0.1" dominant-baseline="central">pre flow</text>
<text x="266.60" y="200.60" font-size="4.7" text-anchor="start" fill="#000" stroke="#000" stroke-width="0.1" dominant-baseline="central">post flow</text>
<text x="237.30" y="251.70" font-size="4.0" text-anchor="middle" fill="#000" stroke="#000" stroke-width="0.15" dominant-baseline="central">–</text>
<text x="260.60" y="251.70" font-size="4.0" text-anchor="middle" fill="#000" stroke="#000" stroke-width="0.15" dominant-baseline="central">100 nM</text>
<text x="250.20" y="258.50" font-size="4.9" text-anchor="middle" font-weight="bold" fill="#000" stroke="#000" stroke-width="0.18" dominant-baseline="central">Dasatinib</text>
<line x1="305.90" y1="190.60" x2="305.90" y2="248.25" stroke="#000" stroke-width="0.9"/>
<line x1="304.60" y1="247.20" x2="305.90" y2="247.20" stroke="#000" stroke-width="0.5"/>
<text x="303.40" y="247.20" font-size="4.0" text-anchor="end" fill="#000" stroke="#000" stroke-width="0.15" dominant-baseline="central">0</text>
<line x1="304.60" y1="232.50" x2="305.90" y2="232.50" stroke="#000" stroke-width="0.5"/>
<text x="303.40" y="232.50" font-size="4.0" text-anchor="end" fill="#000" stroke="#000" stroke-width="0.15" dominant-baseline="central">25</text>
<line x1="304.60" y1="217.80" x2="305.90" y2="217.80" stroke="#000" stroke-width="0.5"/>
<text x="303.40" y="217.80" font-size="4.0" text-anchor="end" fill="#000" stroke="#000" stroke-width="0.15" dominant-baseline="central">50</text>
<line x1="304.60" y1="203.10" x2="305.90" y2="203.10" stroke="#000" stroke-width="0.5"/>
<text x="303.40" y="203.10" font-size="4.0" text-anchor="end" fill="#000" stroke="#000" stroke-width="0.15" dominant-baseline="central">75</text>
<line x1="305.90" y1="247.80" x2="348.50" y2="247.80" stroke="#000" stroke-width="0.9"/>
<line x1="327.40" y1="247.80" x2="327.40" y2="249.10" stroke="#000" stroke-width="0.6"/>
<line x1="348.20" y1="247.80" x2="348.20" y2="249.10" stroke="#000" stroke-width="0.6"/>
<rect x="310.90" y="202.40" width="6.00" height="45.40" fill="#000" stroke="none" stroke-width="0.5"/>
<line x1="313.90" y1="197.70" x2="313.90" y2="202.40" stroke="#000" stroke-width="0.65"/>
<line x1="311.38" y1="197.70" x2="316.42" y2="197.70" stroke="#000" stroke-width="0.75"/>
<rect x="317.15" y="201.70" width="5.00" height="46.10" fill="#fff" stroke="#000" stroke-width="0.5"/>
<line x1="319.65" y1="192.30" x2="319.65" y2="201.70" stroke="#000" stroke-width="0.65"/>
<line x1="317.34" y1="192.30" x2="321.96" y2="192.30" stroke="#000" stroke-width="0.75"/>
<rect x="332.20" y="198.20" width="5.60" height="49.60" fill="#000" stroke="none" stroke-width="0.5"/>
<line x1="335.00" y1="195.30" x2="335.00" y2="198.20" stroke="#000" stroke-width="0.65"/>
<line x1="332.65" y1="195.30" x2="337.35" y2="195.30" stroke="#000" stroke-width="0.75"/>
<rect x="338.05" y="202.40" width="5.30" height="45.40" fill="#fff" stroke="#000" stroke-width="0.5"/>
<line x1="340.70" y1="196.30" x2="340.70" y2="202.40" stroke="#000" stroke-width="0.65"/>
<line x1="338.26" y1="196.30" x2="343.14" y2="196.30" stroke="#000" stroke-width="0.75"/>
<text x="326.70" y="184.40" font-size="4.8" text-anchor="middle" font-weight="bold" fill="#000" stroke="#000" stroke-width="0.18" dominant-baseline="central">fMLP</text>
<text x="316.90" y="253.50" font-size="4.0" text-anchor="middle" fill="#000" stroke="#000" stroke-width="0.15" dominant-baseline="central">Fbg</text>
<text x="337.80" y="253.50" font-size="4.0" text-anchor="middle" fill="#000" stroke="#000" stroke-width="0.15" dominant-baseline="central">ICAM1</text>
<text x="294.80" y="218.30" font-size="5.0" text-anchor="middle" transform="rotate(-90 294.80 218.30)" fill="#000" stroke="#000" stroke-width="0.1" dominant-baseline="central" textLength="41.2" lengthAdjust="spacingAndGlyphs">Migrated cells (%)</text>
<line x1="374.30" y1="190.40" x2="374.30" y2="248.25" stroke="#000" stroke-width="0.9"/>
<line x1="373.00" y1="247.20" x2="374.30" y2="247.20" stroke="#000" stroke-width="0.5"/>
<text x="371.80" y="247.20" font-size="4.0" text-anchor="end" fill="#000" stroke="#000" stroke-width="0.15" dominant-baseline="central">0</text>
<line x1="373.00" y1="235.90" x2="374.30" y2="235.90" stroke="#000" stroke-width="0.5"/>
<text x="371.80" y="235.90" font-size="4.0" text-anchor="end" fill="#000" stroke="#000" stroke-width="0.15" dominant-baseline="central">10</text>
<line x1="373.00" y1="224.60" x2="374.30" y2="224.60" stroke="#000" stroke-width="0.5"/>
<text x="371.80" y="224.60" font-size="4.0" text-anchor="end" fill="#000" stroke="#000" stroke-width="0.15" dominant-baseline="central">20</text>
<line x1="373.00" y1="213.30" x2="374.30" y2="213.30" stroke="#000" stroke-width="0.5"/>
<text x="371.80" y="213.30" font-size="4.0" text-anchor="end" fill="#000" stroke="#000" stroke-width="0.15" dominant-baseline="central">30</text>
<line x1="373.00" y1="201.90" x2="374.30" y2="201.90" stroke="#000" stroke-width="0.5"/>
<text x="371.80" y="201.90" font-size="4.0" text-anchor="end" fill="#000" stroke="#000" stroke-width="0.15" dominant-baseline="central">40</text>
<line x1="373.00" y1="190.70" x2="374.30" y2="190.70" stroke="#000" stroke-width="0.5"/>
<text x="371.80" y="190.70" font-size="4.0" text-anchor="end" fill="#000" stroke="#000" stroke-width="0.15" dominant-baseline="central">50</text>
<line x1="374.30" y1="247.80" x2="415.90" y2="247.80" stroke="#000" stroke-width="0.9"/>
<line x1="395.30" y1="247.80" x2="395.30" y2="249.10" stroke="#000" stroke-width="0.6"/>
<line x1="415.60" y1="247.80" x2="415.60" y2="249.10" stroke="#000" stroke-width="0.6"/>
<rect x="378.40" y="214.60" width="6.00" height="33.20" fill="#000" stroke="none" stroke-width="0.5"/>
<line x1="381.40" y1="209.20" x2="381.40" y2="214.60" stroke="#000" stroke-width="0.65"/>
<line x1="378.88" y1="209.20" x2="383.92" y2="209.20" stroke="#000" stroke-width="0.75"/>
<rect x="384.65" y="201.40" width="5.70" height="46.40" fill="#fff" stroke="#000" stroke-width="0.5"/>
<line x1="387.50" y1="190.50" x2="387.50" y2="201.40" stroke="#000" stroke-width="0.65"/>
<line x1="384.90" y1="190.50" x2="390.10" y2="190.50" stroke="#000" stroke-width="0.75"/>
<rect x="399.50" y="202.10" width="6.20" height="45.70" fill="#000" stroke="none" stroke-width="0.5"/>
<line x1="402.60" y1="197.30" x2="402.60" y2="202.10" stroke="#000" stroke-width="0.65"/>
<line x1="400.00" y1="197.30" x2="405.20" y2="197.30" stroke="#000" stroke-width="0.75"/>
<rect x="405.95" y="203.20" width="5.50" height="44.60" fill="#fff" stroke="#000" stroke-width="0.5"/>
<line x1="408.70" y1="196.40" x2="408.70" y2="203.20" stroke="#000" stroke-width="0.65"/>
<line x1="406.18" y1="196.40" x2="411.22" y2="196.40" stroke="#000" stroke-width="0.75"/>
<text x="393.80" y="184.40" font-size="4.8" text-anchor="middle" font-weight="bold" fill="#000" stroke="#000" stroke-width="0.18" dominant-baseline="central">fMLP</text>
<text x="384.90" y="253.50" font-size="4.0" text-anchor="middle" fill="#000" stroke="#000" stroke-width="0.15" dominant-baseline="central">Fbg</text>
<text x="405.50" y="253.50" font-size="4.0" text-anchor="middle" fill="#000" stroke="#000" stroke-width="0.15" dominant-baseline="central">ICAM1</text>
<text x="361.30" y="217.00" font-size="5.0" text-anchor="middle" font-weight="bold" transform="rotate(-90 361.30 217.00)" fill="#000" stroke="#000" stroke-width="0.18" dominant-baseline="central" textLength="54.6" lengthAdjust="spacingAndGlyphs">Euclidean distance (µm)</text>
<line x1="439.70" y1="189.90" x2="439.70" y2="248.25" stroke="#000" stroke-width="0.9"/>
<line x1="438.40" y1="247.20" x2="439.70" y2="247.20" stroke="#000" stroke-width="0.5"/>
<text x="437.20" y="247.20" font-size="4.0" text-anchor="end" fill="#000" stroke="#000" stroke-width="0.15" dominant-baseline="central">0</text>
<line x1="438.40" y1="229.70" x2="439.70" y2="229.70" stroke="#000" stroke-width="0.5"/>
<text x="437.20" y="229.70" font-size="4.0" text-anchor="end" fill="#000" stroke="#000" stroke-width="0.15" dominant-baseline="central">4</text>
<line x1="438.40" y1="212.20" x2="439.70" y2="212.20" stroke="#000" stroke-width="0.5"/>
<text x="437.20" y="212.20" font-size="4.0" text-anchor="end" fill="#000" stroke="#000" stroke-width="0.15" dominant-baseline="central">8</text>
<line x1="438.40" y1="193.90" x2="439.70" y2="193.90" stroke="#000" stroke-width="0.5"/>
<text x="437.20" y="193.90" font-size="4.0" text-anchor="end" fill="#000" stroke="#000" stroke-width="0.15" dominant-baseline="central">12</text>
<line x1="439.70" y1="247.80" x2="481.80" y2="247.80" stroke="#000" stroke-width="0.9"/>
<line x1="461.20" y1="247.80" x2="461.20" y2="249.10" stroke="#000" stroke-width="0.6"/>
<line x1="481.50" y1="247.80" x2="481.50" y2="249.10" stroke="#000" stroke-width="0.6"/>
<rect x="444.80" y="213.40" width="6.10" height="34.40" fill="#000" stroke="none" stroke-width="0.5"/>
<line x1="447.85" y1="206.30" x2="447.85" y2="213.40" stroke="#000" stroke-width="0.65"/>
<line x1="445.29" y1="206.30" x2="450.41" y2="206.30" stroke="#000" stroke-width="0.75"/>
<rect x="451.15" y="207.50" width="5.00" height="40.30" fill="#fff" stroke="#000" stroke-width="0.5"/>
<line x1="453.65" y1="199.30" x2="453.65" y2="207.50" stroke="#000" stroke-width="0.65"/>
<line x1="451.34" y1="199.30" x2="455.96" y2="199.30" stroke="#000" stroke-width="0.75"/>
<rect x="465.70" y="208.00" width="6.00" height="39.80" fill="#000" stroke="none" stroke-width="0.5"/>
<line x1="468.70" y1="203.30" x2="468.70" y2="208.00" stroke="#000" stroke-width="0.65"/>
<line x1="466.18" y1="203.30" x2="471.22" y2="203.30" stroke="#000" stroke-width="0.75"/>
<rect x="471.95" y="218.00" width="5.00" height="29.80" fill="#fff" stroke="#000" stroke-width="0.5"/>
<line x1="474.45" y1="213.40" x2="474.45" y2="218.00" stroke="#000" stroke-width="0.65"/>
<line x1="472.14" y1="213.40" x2="476.76" y2="213.40" stroke="#000" stroke-width="0.75"/>
<text x="459.70" y="184.40" font-size="4.8" text-anchor="middle" font-weight="bold" fill="#000" stroke="#000" stroke-width="0.18" dominant-baseline="central">fMLP</text>
<rect x="471.80" y="188.00" width="3.70" height="3.60" fill="#000" stroke="none" stroke-width="0.5"/>
<rect x="472.15" y="195.10" width="3.00" height="3.20" fill="#fff" stroke="#000" stroke-width="0.7"/>
<text x="476.90" y="190.00" font-size="4.7" text-anchor="start" fill="#000" stroke="#000" stroke-width="0.1" dominant-baseline="central">Vehicle</text>
<text x="476.90" y="196.60" font-size="4.7" text-anchor="start" fill="#000" stroke="#000" stroke-width="0.1" dominant-baseline="central">100 nM dasatinib</text>
<text x="451.30" y="253.30" font-size="4.0" text-anchor="middle" fill="#000" stroke="#000" stroke-width="0.15" dominant-baseline="central">Fbg</text>
<text x="472.00" y="253.30" font-size="4.0" text-anchor="middle" fill="#000" stroke="#000" stroke-width="0.15" dominant-baseline="central">ICAM1</text>
<text x="429.30" y="214.20" font-size="5.0" text-anchor="middle" transform="rotate(-90 429.30 214.20)" fill="#000" stroke="#000" stroke-width="0.1" dominant-baseline="central" textLength="56.6" lengthAdjust="spacingAndGlyphs">Migration velocity (µm/min)</text>
<line x1="24.00" y1="318.20" x2="24.00" y2="368.45" stroke="#000" stroke-width="0.9"/>
<line x1="22.70" y1="367.40" x2="24.00" y2="367.40" stroke="#000" stroke-width="0.5"/>
<text x="21.50" y="367.40" font-size="4.0" text-anchor="end" fill="#000" stroke="#000" stroke-width="0.15" dominant-baseline="central">0</text>
<line x1="22.70" y1="355.30" x2="24.00" y2="355.30" stroke="#000" stroke-width="0.5"/>
<text x="21.50" y="355.30" font-size="4.0" text-anchor="end" fill="#000" stroke="#000" stroke-width="0.15" dominant-baseline="central">25</text>
<line x1="22.70" y1="343.30" x2="24.00" y2="343.30" stroke="#000" stroke-width="0.5"/>
<text x="21.50" y="343.30" font-size="4.0" text-anchor="end" fill="#000" stroke="#000" stroke-width="0.15" dominant-baseline="central">50</text>
<line x1="22.70" y1="331.20" x2="24.00" y2="331.20" stroke="#000" stroke-width="0.5"/>
<text x="21.50" y="331.20" font-size="4.0" text-anchor="end" fill="#000" stroke="#000" stroke-width="0.15" dominant-baseline="central">75</text>
<line x1="22.70" y1="319.40" x2="24.00" y2="319.40" stroke="#000" stroke-width="0.5"/>
<text x="21.50" y="319.40" font-size="4.0" text-anchor="end" fill="#000" stroke="#000" stroke-width="0.15" dominant-baseline="central">100</text>
<line x1="24.00" y1="368.00" x2="54.00" y2="368.00" stroke="#000" stroke-width="0.9"/>
<line x1="38.80" y1="368.00" x2="38.80" y2="369.30" stroke="#000" stroke-width="0.6"/>
<line x1="53.70" y1="368.00" x2="53.70" y2="369.30" stroke="#000" stroke-width="0.6"/>
<rect x="28.30" y="332.80" width="6.50" height="35.20" fill="#000" stroke="none" stroke-width="0.5"/>
<line x1="31.55" y1="320.50" x2="31.55" y2="332.80" stroke="#000" stroke-width="0.65"/>
<line x1="28.82" y1="320.50" x2="34.28" y2="320.50" stroke="#000" stroke-width="0.75"/>
<rect x="42.90" y="364.40" width="6.60" height="3.60" fill="#000" stroke="none" stroke-width="0.5"/>
<line x1="46.20" y1="362.30" x2="46.20" y2="364.40" stroke="#000" stroke-width="0.65"/>
<line x1="43.43" y1="362.30" x2="48.97" y2="362.30" stroke="#000" stroke-width="0.75"/>
<text x="32.00" y="374.00" font-size="4.0" text-anchor="middle" fill="#000" stroke="#000" stroke-width="0.15" dominant-baseline="central">–</text>
<text x="46.30" y="374.00" font-size="4.0" text-anchor="middle" fill="#000" stroke="#000" stroke-width="0.15" dominant-baseline="central">100</text>
<text x="39.50" y="379.50" font-size="4.8" text-anchor="middle" dominant-baseline="central"><tspan font-weight="bold">Dasatinib</tspan> (nM)</text>
<text x="10.50" y="341.30" font-size="5.0" text-anchor="middle" font-weight="bold" transform="rotate(-90 10.50 341.30)" fill="#000" stroke="#000" stroke-width="0.18" dominant-baseline="central" textLength="39.9" lengthAdjust="spacingAndGlyphs">Migrated cells (%)</text>
<line x1="73.80" y1="318.10" x2="73.80" y2="368.55" stroke="#000" stroke-width="0.9"/>
<line x1="72.50" y1="367.50" x2="73.80" y2="367.50" stroke="#000" stroke-width="0.5"/>
<text x="71.30" y="367.50" font-size="4.0" text-anchor="end" fill="#000" stroke="#000" stroke-width="0.15" dominant-baseline="central">0</text>
<line x1="72.50" y1="355.10" x2="73.80" y2="355.10" stroke="#000" stroke-width="0.5"/>
<text x="71.30" y="355.10" font-size="4.0" text-anchor="end" fill="#000" stroke="#000" stroke-width="0.15" dominant-baseline="central">20</text>
<line x1="72.50" y1="342.70" x2="73.80" y2="342.70" stroke="#000" stroke-width="0.5"/>
<text x="71.30" y="342.70" font-size="4.0" text-anchor="end" fill="#000" stroke="#000" stroke-width="0.15" dominant-baseline="central">40</text>
<line x1="72.50" y1="330.40" x2="73.80" y2="330.40" stroke="#000" stroke-width="0.5"/>
<text x="71.30" y="330.40" font-size="4.0" text-anchor="end" fill="#000" stroke="#000" stroke-width="0.15" dominant-baseline="central">60</text>
<line x1="72.50" y1="318.10" x2="73.80" y2="318.10" stroke="#000" stroke-width="0.5"/>
<text x="71.30" y="318.10" font-size="4.0" text-anchor="end" fill="#000" stroke="#000" stroke-width="0.15" dominant-baseline="central">80</text>
<line x1="73.80" y1="368.10" x2="101.30" y2="368.10" stroke="#000" stroke-width="0.9"/>
<line x1="89.00" y1="368.10" x2="89.00" y2="369.40" stroke="#000" stroke-width="0.6"/>
<line x1="101.00" y1="368.10" x2="101.00" y2="369.40" stroke="#000" stroke-width="0.6"/>
<rect x="77.80" y="334.70" width="7.10" height="33.40" fill="#000" stroke="none" stroke-width="0.5"/>
<line x1="81.35" y1="318.70" x2="81.35" y2="334.70" stroke="#000" stroke-width="0.65"/>
<line x1="78.37" y1="318.70" x2="84.33" y2="318.70" stroke="#000" stroke-width="0.75"/>
<rect x="93.00" y="364.00" width="6.00" height="4.10" fill="#000" stroke="none" stroke-width="0.5"/>
<line x1="96.00" y1="362.50" x2="96.00" y2="364.00" stroke="#000" stroke-width="0.65"/>
<line x1="93.48" y1="362.50" x2="98.52" y2="362.50" stroke="#000" stroke-width="0.75"/>
<text x="81.40" y="374.00" font-size="4.0" text-anchor="middle" fill="#000" stroke="#000" stroke-width="0.15" dominant-baseline="central">–</text>
<text x="96.00" y="374.00" font-size="4.0" text-anchor="middle" fill="#000" stroke="#000" stroke-width="0.15" dominant-baseline="central">100</text>
<text x="88.00" y="379.60" font-size="4.8" text-anchor="middle" dominant-baseline="central"><tspan font-weight="bold">Dasatinib</tspan> (nM)</text>
<text x="63.30" y="342.40" font-size="5.0" text-anchor="middle" font-weight="bold" transform="rotate(-90 63.30 342.40)" fill="#000" stroke="#000" stroke-width="0.18" dominant-baseline="central" textLength="53.4" lengthAdjust="spacingAndGlyphs">Euclidean distance (µm)</text>
<line x1="121.00" y1="317.70" x2="121.00" y2="368.05" stroke="#000" stroke-width="0.9"/>
<line x1="119.70" y1="367.00" x2="121.00" y2="367.00" stroke="#000" stroke-width="0.5"/>
<text x="118.50" y="367.00" font-size="4.0" text-anchor="end" fill="#000" stroke="#000" stroke-width="0.15" dominant-baseline="central">0</text>
<line x1="119.70" y1="353.30" x2="121.00" y2="353.30" stroke="#000" stroke-width="0.5"/>
<text x="118.50" y="353.30" font-size="4.0" text-anchor="end" fill="#000" stroke="#000" stroke-width="0.15" dominant-baseline="central">5</text>
<line x1="119.70" y1="339.50" x2="121.00" y2="339.50" stroke="#000" stroke-width="0.5"/>
<text x="118.50" y="339.50" font-size="4.0" text-anchor="end" fill="#000" stroke="#000" stroke-width="0.15" dominant-baseline="central">10</text>
<line x1="119.70" y1="325.60" x2="121.00" y2="325.60" stroke="#000" stroke-width="0.5"/>
<text x="118.50" y="325.60" font-size="4.0" text-anchor="end" fill="#000" stroke="#000" stroke-width="0.15" dominant-baseline="central">15</text>
<line x1="121.00" y1="367.60" x2="151.80" y2="367.60" stroke="#000" stroke-width="0.9"/>
<line x1="136.00" y1="367.60" x2="136.00" y2="368.90" stroke="#000" stroke-width="0.6"/>
<line x1="151.50" y1="367.60" x2="151.50" y2="368.90" stroke="#000" stroke-width="0.6"/>
<rect x="125.30" y="333.10" width="6.90" height="34.50" fill="#000" stroke="none" stroke-width="0.5"/>
<line x1="128.75" y1="317.70" x2="128.75" y2="333.10" stroke="#000" stroke-width="0.65"/>
<line x1="125.85" y1="317.70" x2="131.65" y2="317.70" stroke="#000" stroke-width="0.75"/>
<rect x="140.40" y="359.80" width="6.50" height="7.80" fill="#000" stroke="none" stroke-width="0.5"/>
<line x1="143.65" y1="358.20" x2="143.65" y2="359.80" stroke="#000" stroke-width="0.65"/>
<line x1="140.92" y1="358.20" x2="146.38" y2="358.20" stroke="#000" stroke-width="0.75"/>
<text x="128.60" y="373.50" font-size="4.0" text-anchor="middle" fill="#000" stroke="#000" stroke-width="0.15" dominant-baseline="central">–</text>
<text x="143.50" y="373.50" font-size="4.0" text-anchor="middle" fill="#000" stroke="#000" stroke-width="0.15" dominant-baseline="central">100</text>
<text x="136.50" y="379.70" font-size="4.8" text-anchor="middle" dominant-baseline="central"><tspan font-weight="bold">Dasatinib</tspan> (nM)</text>
<text x="109.50" y="340.60" font-size="5.0" text-anchor="middle" transform="rotate(-90 109.50 340.60)" fill="#000" stroke="#000" stroke-width="0.1" dominant-baseline="central" textLength="58.6" lengthAdjust="spacingAndGlyphs">Migration velocity (µm/min)</text>
<text x="249.7" y="278.5" font-size="5.0" text-anchor="middle" dominant-baseline="central"><tspan font-weight="bold">Transwell</tspan> (60 min)</text>
<line x1="197.90" y1="282.40" x2="306.50" y2="282.40" stroke="#000" stroke-width="0.6"/>
<line x1="193.70" y1="299.20" x2="193.70" y2="348.35" stroke="#000" stroke-width="0.9"/>
<line x1="192.40" y1="347.30" x2="193.70" y2="347.30" stroke="#000" stroke-width="0.5"/>
<text x="191.20" y="347.30" font-size="4.0" text-anchor="end" fill="#000" stroke="#000" stroke-width="0.15" dominant-baseline="central">0</text>
<line x1="192.40" y1="335.20" x2="193.70" y2="335.20" stroke="#000" stroke-width="0.5"/>
<text x="191.20" y="335.20" font-size="4.0" text-anchor="end" fill="#000" stroke="#000" stroke-width="0.15" dominant-baseline="central">10</text>
<line x1="192.40" y1="323.40" x2="193.70" y2="323.40" stroke="#000" stroke-width="0.5"/>
<text x="191.20" y="323.40" font-size="4.0" text-anchor="end" fill="#000" stroke="#000" stroke-width="0.15" dominant-baseline="central">20</text>
<line x1="192.40" y1="311.50" x2="193.70" y2="311.50" stroke="#000" stroke-width="0.5"/>
<text x="191.20" y="311.50" font-size="4.0" text-anchor="end" fill="#000" stroke="#000" stroke-width="0.15" dominant-baseline="central">30</text>
<line x1="192.40" y1="299.50" x2="193.70" y2="299.50" stroke="#000" stroke-width="0.5"/>
<text x="191.20" y="299.50" font-size="4.0" text-anchor="end" fill="#000" stroke="#000" stroke-width="0.15" dominant-baseline="central">40</text>
<line x1="193.70" y1="347.90" x2="241.70" y2="347.90" stroke="#000" stroke-width="0.9"/>
<line x1="205.50" y1="347.90" x2="205.50" y2="349.20" stroke="#000" stroke-width="0.6"/>
<line x1="217.50" y1="347.90" x2="217.50" y2="349.20" stroke="#000" stroke-width="0.6"/>
<line x1="229.50" y1="347.90" x2="229.50" y2="349.20" stroke="#000" stroke-width="0.6"/>
<line x1="241.40" y1="347.90" x2="241.40" y2="349.20" stroke="#000" stroke-width="0.6"/>
<rect x="199.20" y="325.60" width="4.50" height="22.30" fill="#000" stroke="none" stroke-width="0.5"/>
<line x1="201.45" y1="322.80" x2="201.45" y2="325.60" stroke="#000" stroke-width="0.65"/>
<line x1="199.25" y1="322.80" x2="203.65" y2="322.80" stroke="#000" stroke-width="0.75"/>
<rect x="211.40" y="318.80" width="4.20" height="29.10" fill="#000" stroke="none" stroke-width="0.5"/>
<line x1="213.50" y1="308.60" x2="213.50" y2="318.80" stroke="#000" stroke-width="0.65"/>
<line x1="211.30" y1="308.60" x2="215.70" y2="308.60" stroke="#000" stroke-width="0.75"/>
<rect x="223.40" y="319.20" width="4.40" height="28.70" fill="#000" stroke="none" stroke-width="0.5"/>
<line x1="225.60" y1="313.70" x2="225.60" y2="319.20" stroke="#000" stroke-width="0.65"/>
<line x1="223.40" y1="313.70" x2="227.80" y2="313.70" stroke="#000" stroke-width="0.75"/>
<rect x="235.30" y="311.90" width="4.30" height="36.00" fill="#000" stroke="none" stroke-width="0.5"/>
<line x1="237.45" y1="301.30" x2="237.45" y2="311.90" stroke="#000" stroke-width="0.65"/>
<line x1="235.25" y1="301.30" x2="239.65" y2="301.30" stroke="#000" stroke-width="0.75"/>
<rect x="195.65" y="346.30" width="3.30" height="1.00" fill="#fff" stroke="#000" stroke-width="0.45"/>
<line x1="197.30" y1="345.30" x2="197.30" y2="346.30" stroke="#000" stroke-width="0.4"/>
<line x1="196.00" y1="345.30" x2="198.60" y2="345.30" stroke="#000" stroke-width="0.45"/>
<rect x="207.85" y="346.30" width="3.30" height="1.00" fill="#fff" stroke="#000" stroke-width="0.45"/>
<line x1="209.50" y1="346.30" x2="209.50" y2="346.30" stroke="#000" stroke-width="0.4"/>
<line x1="208.20" y1="346.30" x2="210.80" y2="346.30" stroke="#000" stroke-width="0.45"/>
<rect x="219.85" y="346.30" width="3.30" height="1.00" fill="#fff" stroke="#000" stroke-width="0.45"/>
<line x1="221.50" y1="346.30" x2="221.50" y2="346.30" stroke="#000" stroke-width="0.4"/>
<line x1="220.20" y1="346.30" x2="222.80" y2="346.30" stroke="#000" stroke-width="0.45"/>
<rect x="231.75" y="346.30" width="3.30" height="1.00" fill="#fff" stroke="#000" stroke-width="0.45"/>
<line x1="233.40" y1="346.30" x2="233.40" y2="346.30" stroke="#000" stroke-width="0.4"/>
<line x1="232.10" y1="346.30" x2="234.70" y2="346.30" stroke="#000" stroke-width="0.45"/>
<rect x="200.15" y="294.10" width="3.20" height="3.20" fill="#fff" stroke="#000" stroke-width="0.7"/>
<text x="204.40" y="295.70" font-size="4.7" text-anchor="start" fill="#000" stroke="#000" stroke-width="0.1" dominant-baseline="central">Control</text>
<rect x="223.40" y="294.00" width="3.40" height="3.40" fill="#000" stroke="none" stroke-width="0.5"/>
<text x="227.70" y="295.70" font-size="4.7" text-anchor="start" fill="#000" stroke="#000" stroke-width="0.1" dominant-baseline="central">fMLP</text>
<text x="199.40" y="353.00" font-size="4.0" text-anchor="middle" fill="#000" stroke="#000" stroke-width="0.15" dominant-baseline="central">–</text>
<text x="211.50" y="353.00" font-size="4.0" text-anchor="middle" fill="#000" stroke="#000" stroke-width="0.15" dominant-baseline="central">10</text>
<text x="223.50" y="353.00" font-size="4.0" text-anchor="middle" fill="#000" stroke="#000" stroke-width="0.15" dominant-baseline="central">100</text>
<text x="235.40" y="353.00" font-size="4.0" text-anchor="middle" fill="#000" stroke="#000" stroke-width="0.15" dominant-baseline="central">1000</text>
<text x="218.80" y="360.00" font-size="4.8" text-anchor="middle" dominant-baseline="central"><tspan font-weight="bold">Dasatinib</tspan> (nM)</text>
<text x="181.40" y="323.30" font-size="5.0" text-anchor="middle" font-weight="bold" transform="rotate(-90 181.40 323.30)" fill="#000" stroke="#000" stroke-width="0.18" dominant-baseline="central" textLength="53.0" lengthAdjust="spacingAndGlyphs">Migrated cells (% of total)</text>
<line x1="266.00" y1="299.20" x2="266.00" y2="347.55" stroke="#000" stroke-width="0.9"/>
<line x1="264.70" y1="346.50" x2="266.00" y2="346.50" stroke="#000" stroke-width="0.5"/>
<text x="263.50" y="346.50" font-size="4.0" text-anchor="end" fill="#000" stroke="#000" stroke-width="0.15" dominant-baseline="central">0</text>
<line x1="264.70" y1="334.90" x2="266.00" y2="334.90" stroke="#000" stroke-width="0.5"/>
<text x="263.50" y="334.90" font-size="4.0" text-anchor="end" fill="#000" stroke="#000" stroke-width="0.15" dominant-baseline="central">10</text>
<line x1="264.70" y1="323.20" x2="266.00" y2="323.20" stroke="#000" stroke-width="0.5"/>
<text x="263.50" y="323.20" font-size="4.0" text-anchor="end" fill="#000" stroke="#000" stroke-width="0.15" dominant-baseline="central">20</text>
<line x1="264.70" y1="311.20" x2="266.00" y2="311.20" stroke="#000" stroke-width="0.5"/>
<text x="263.50" y="311.20" font-size="4.0" text-anchor="end" fill="#000" stroke="#000" stroke-width="0.15" dominant-baseline="central">30</text>
<line x1="264.70" y1="299.20" x2="266.00" y2="299.20" stroke="#000" stroke-width="0.5"/>
<text x="263.50" y="299.20" font-size="4.0" text-anchor="end" fill="#000" stroke="#000" stroke-width="0.15" dominant-baseline="central">40</text>
<line x1="266.00" y1="347.10" x2="314.60" y2="347.10" stroke="#000" stroke-width="0.9"/>
<line x1="278.50" y1="347.10" x2="278.50" y2="348.40" stroke="#000" stroke-width="0.6"/>
<line x1="290.50" y1="347.10" x2="290.50" y2="348.40" stroke="#000" stroke-width="0.6"/>
<line x1="302.50" y1="347.10" x2="302.50" y2="348.40" stroke="#000" stroke-width="0.6"/>
<line x1="314.30" y1="347.10" x2="314.30" y2="348.40" stroke="#000" stroke-width="0.6"/>
<rect x="271.90" y="316.50" width="3.70" height="30.60" fill="#000" stroke="none" stroke-width="0.5"/>
<line x1="273.75" y1="308.80" x2="273.75" y2="316.50" stroke="#000" stroke-width="0.65"/>
<line x1="271.55" y1="308.80" x2="275.95" y2="308.80" stroke="#000" stroke-width="0.75"/>
<rect x="284.10" y="310.50" width="3.60" height="36.60" fill="#000" stroke="none" stroke-width="0.5"/>
<line x1="285.90" y1="301.30" x2="285.90" y2="310.50" stroke="#000" stroke-width="0.65"/>
<line x1="283.70" y1="301.30" x2="288.10" y2="301.30" stroke="#000" stroke-width="0.75"/>
<rect x="296.10" y="317.70" width="3.70" height="29.40" fill="#000" stroke="none" stroke-width="0.5"/>
<line x1="297.95" y1="308.80" x2="297.95" y2="317.70" stroke="#000" stroke-width="0.65"/>
<line x1="295.75" y1="308.80" x2="300.15" y2="308.80" stroke="#000" stroke-width="0.75"/>
<rect x="308.30" y="317.00" width="3.50" height="30.10" fill="#000" stroke="none" stroke-width="0.5"/>
<line x1="310.05" y1="309.20" x2="310.05" y2="317.00" stroke="#000" stroke-width="0.65"/>
<line x1="307.85" y1="309.20" x2="312.25" y2="309.20" stroke="#000" stroke-width="0.75"/>
<rect x="268.45" y="345.70" width="3.20" height="0.80" fill="#fff" stroke="#000" stroke-width="0.45"/>
<line x1="270.05" y1="345.70" x2="270.05" y2="345.70" stroke="#000" stroke-width="0.4"/>
<line x1="268.75" y1="345.70" x2="271.35" y2="345.70" stroke="#000" stroke-width="0.45"/>
<rect x="280.65" y="345.70" width="3.20" height="0.80" fill="#fff" stroke="#000" stroke-width="0.45"/>
<line x1="282.25" y1="345.70" x2="282.25" y2="345.70" stroke="#000" stroke-width="0.4"/>
<line x1="280.95" y1="345.70" x2="283.55" y2="345.70" stroke="#000" stroke-width="0.45"/>
<rect x="292.65" y="345.70" width="3.20" height="0.80" fill="#fff" stroke="#000" stroke-width="0.45"/>
<line x1="294.25" y1="345.70" x2="294.25" y2="345.70" stroke="#000" stroke-width="0.4"/>
<line x1="292.95" y1="345.70" x2="295.55" y2="345.70" stroke="#000" stroke-width="0.45"/>
<rect x="304.85" y="345.70" width="3.20" height="0.80" fill="#fff" stroke="#000" stroke-width="0.45"/>
<line x1="306.45" y1="345.70" x2="306.45" y2="345.70" stroke="#000" stroke-width="0.4"/>
<line x1="305.15" y1="345.70" x2="307.75" y2="345.70" stroke="#000" stroke-width="0.45"/>
<rect x="275.35" y="294.60" width="3.20" height="3.20" fill="#fff" stroke="#000" stroke-width="0.7"/>
<text x="279.60" y="296.20" font-size="4.7" text-anchor="start" fill="#000" stroke="#000" stroke-width="0.1" dominant-baseline="central">Control</text>
<rect x="298.20" y="294.50" width="3.40" height="3.40" fill="#000" stroke="none" stroke-width="0.5"/>
<text x="302.50" y="296.20" font-size="4.7" text-anchor="start" fill="#000" stroke="#000" stroke-width="0.1" dominant-baseline="central">IL-8</text>
<text x="273.00" y="352.70" font-size="4.0" text-anchor="middle" fill="#000" stroke="#000" stroke-width="0.15" dominant-baseline="central">–</text>
<text x="284.60" y="352.70" font-size="4.0" text-anchor="middle" fill="#000" stroke="#000" stroke-width="0.15" dominant-baseline="central">10</text>
<text x="296.30" y="352.70" font-size="4.0" text-anchor="middle" fill="#000" stroke="#000" stroke-width="0.15" dominant-baseline="central">100</text>
<text x="309.60" y="352.70" font-size="4.0" text-anchor="middle" fill="#000" stroke="#000" stroke-width="0.15" dominant-baseline="central">1000</text>
<text x="291.50" y="358.80" font-size="4.8" text-anchor="middle" dominant-baseline="central"><tspan font-weight="bold">Dasatinib</tspan> (nM)</text>
<text x="397.4" y="279.4" font-size="5.0" text-anchor="middle" dominant-baseline="central"><tspan font-weight="bold">Matrigel</tspan> (180 min)</text>
<line x1="344.80" y1="282.90" x2="452.00" y2="282.90" stroke="#000" stroke-width="0.6"/>
<line x1="338.50" y1="300.20" x2="338.50" y2="347.05" stroke="#000" stroke-width="0.9"/>
<line x1="337.20" y1="346.00" x2="338.50" y2="346.00" stroke="#000" stroke-width="0.5"/>
<text x="336.00" y="346.00" font-size="4.0" text-anchor="end" fill="#000" stroke="#000" stroke-width="0.15" dominant-baseline="central">0</text>
<line x1="337.20" y1="332.90" x2="338.50" y2="332.90" stroke="#000" stroke-width="0.5"/>
<text x="336.00" y="332.90" font-size="4.0" text-anchor="end" fill="#000" stroke="#000" stroke-width="0.15" dominant-baseline="central">4</text>
<line x1="337.20" y1="319.60" x2="338.50" y2="319.60" stroke="#000" stroke-width="0.5"/>
<text x="336.00" y="319.60" font-size="4.0" text-anchor="end" fill="#000" stroke="#000" stroke-width="0.15" dominant-baseline="central">8</text>
<line x1="337.20" y1="306.50" x2="338.50" y2="306.50" stroke="#000" stroke-width="0.5"/>
<text x="336.00" y="306.50" font-size="4.0" text-anchor="end" fill="#000" stroke="#000" stroke-width="0.15" dominant-baseline="central">12</text>
<line x1="338.50" y1="346.60" x2="387.50" y2="346.60" stroke="#000" stroke-width="0.9"/>
<line x1="351.00" y1="346.60" x2="351.00" y2="347.90" stroke="#000" stroke-width="0.6"/>
<line x1="363.30" y1="346.60" x2="363.30" y2="347.90" stroke="#000" stroke-width="0.6"/>
<line x1="375.50" y1="346.60" x2="375.50" y2="347.90" stroke="#000" stroke-width="0.6"/>
<line x1="387.20" y1="346.60" x2="387.20" y2="347.90" stroke="#000" stroke-width="0.6"/>
<rect x="344.40" y="317.50" width="3.90" height="29.10" fill="#000" stroke="none" stroke-width="0.5"/>
<line x1="346.35" y1="309.20" x2="346.35" y2="317.50" stroke="#000" stroke-width="0.65"/>
<line x1="344.15" y1="309.20" x2="348.55" y2="309.20" stroke="#000" stroke-width="0.75"/>
<rect x="356.90" y="314.80" width="3.90" height="31.80" fill="#000" stroke="none" stroke-width="0.5"/>
<line x1="358.85" y1="306.50" x2="358.85" y2="314.80" stroke="#000" stroke-width="0.65"/>
<line x1="356.65" y1="306.50" x2="361.05" y2="306.50" stroke="#000" stroke-width="0.75"/>
<rect x="369.20" y="313.80" width="3.70" height="32.80" fill="#000" stroke="none" stroke-width="0.5"/>
<line x1="371.05" y1="304.40" x2="371.05" y2="313.80" stroke="#000" stroke-width="0.65"/>
<line x1="368.85" y1="304.40" x2="373.25" y2="304.40" stroke="#000" stroke-width="0.75"/>
<rect x="381.30" y="314.20" width="4.10" height="32.40" fill="#000" stroke="none" stroke-width="0.5"/>
<line x1="383.35" y1="305.40" x2="383.35" y2="314.20" stroke="#000" stroke-width="0.65"/>
<line x1="381.15" y1="305.40" x2="385.55" y2="305.40" stroke="#000" stroke-width="0.75"/>
<rect x="341.05" y="343.70" width="3.10" height="2.30" fill="#fff" stroke="#000" stroke-width="0.45"/>
<line x1="342.60" y1="342.30" x2="342.60" y2="343.70" stroke="#000" stroke-width="0.4"/>
<line x1="341.30" y1="342.30" x2="343.90" y2="342.30" stroke="#000" stroke-width="0.45"/>
<rect x="353.45" y="343.70" width="3.10" height="2.30" fill="#fff" stroke="#000" stroke-width="0.45"/>
<line x1="355.00" y1="342.30" x2="355.00" y2="343.70" stroke="#000" stroke-width="0.4"/>
<line x1="353.70" y1="342.30" x2="356.30" y2="342.30" stroke="#000" stroke-width="0.45"/>
<rect x="365.75" y="341.40" width="3.10" height="4.60" fill="#fff" stroke="#000" stroke-width="0.45"/>
<line x1="367.30" y1="339.40" x2="367.30" y2="341.40" stroke="#000" stroke-width="0.4"/>
<line x1="366.00" y1="339.40" x2="368.60" y2="339.40" stroke="#000" stroke-width="0.45"/>
<rect x="377.85" y="343.70" width="3.10" height="2.30" fill="#fff" stroke="#000" stroke-width="0.45"/>
<line x1="379.40" y1="342.30" x2="379.40" y2="343.70" stroke="#000" stroke-width="0.4"/>
<line x1="378.10" y1="342.30" x2="380.70" y2="342.30" stroke="#000" stroke-width="0.45"/>
<rect x="347.25" y="294.00" width="3.20" height="3.20" fill="#fff" stroke="#000" stroke-width="0.7"/>
<text x="351.50" y="295.60" font-size="4.7" text-anchor="start" fill="#000" stroke="#000" stroke-width="0.1" dominant-baseline="central">Control</text>
<rect x="370.20" y="293.90" width="3.40" height="3.40" fill="#000" stroke="none" stroke-width="0.5"/>
<text x="374.50" y="295.60" font-size="4.7" text-anchor="start" fill="#000" stroke="#000" stroke-width="0.1" dominant-baseline="central">fMLP</text>
<text x="345.20" y="352.30" font-size="4.0" text-anchor="middle" fill="#000" stroke="#000" stroke-width="0.15" dominant-baseline="central">–</text>
<text x="357.30" y="352.30" font-size="4.0" text-anchor="middle" fill="#000" stroke="#000" stroke-width="0.15" dominant-baseline="central">10</text>
<text x="369.60" y="352.30" font-size="4.0" text-anchor="middle" fill="#000" stroke="#000" stroke-width="0.15" dominant-baseline="central">100</text>
<text x="382.70" y="352.30" font-size="4.0" text-anchor="middle" fill="#000" stroke="#000" stroke-width="0.15" dominant-baseline="central">1000</text>
<text x="363.20" y="359.40" font-size="4.8" text-anchor="middle" dominant-baseline="central"><tspan font-weight="bold">Dasatinib</tspan> (nM)</text>
<line x1="410.40" y1="300.20" x2="410.40" y2="347.05" stroke="#000" stroke-width="0.9"/>
<line x1="409.10" y1="346.00" x2="410.40" y2="346.00" stroke="#000" stroke-width="0.5"/>
<text x="407.90" y="346.00" font-size="4.0" text-anchor="end" fill="#000" stroke="#000" stroke-width="0.15" dominant-baseline="central">0</text>
<line x1="409.10" y1="332.50" x2="410.40" y2="332.50" stroke="#000" stroke-width="0.5"/>
<text x="407.90" y="332.50" font-size="4.0" text-anchor="end" fill="#000" stroke="#000" stroke-width="0.15" dominant-baseline="central">3</text>
<line x1="409.10" y1="319.00" x2="410.40" y2="319.00" stroke="#000" stroke-width="0.5"/>
<text x="407.90" y="319.00" font-size="4.0" text-anchor="end" fill="#000" stroke="#000" stroke-width="0.15" dominant-baseline="central">6</text>
<line x1="409.10" y1="305.40" x2="410.40" y2="305.40" stroke="#000" stroke-width="0.5"/>
<text x="407.90" y="305.40" font-size="4.0" text-anchor="end" fill="#000" stroke="#000" stroke-width="0.15" dominant-baseline="central">9</text>
<line x1="410.40" y1="346.60" x2="460.60" y2="346.60" stroke="#000" stroke-width="0.9"/>
<line x1="423.50" y1="346.60" x2="423.50" y2="347.90" stroke="#000" stroke-width="0.6"/>
<line x1="435.80" y1="346.60" x2="435.80" y2="347.90" stroke="#000" stroke-width="0.6"/>
<line x1="448.00" y1="346.60" x2="448.00" y2="347.90" stroke="#000" stroke-width="0.6"/>
<line x1="460.30" y1="346.60" x2="460.30" y2="347.90" stroke="#000" stroke-width="0.6"/>
<rect x="417.10" y="314.20" width="3.70" height="32.40" fill="#000" stroke="none" stroke-width="0.5"/>
<line x1="418.95" y1="308.10" x2="418.95" y2="314.20" stroke="#000" stroke-width="0.65"/>
<line x1="416.75" y1="308.10" x2="421.15" y2="308.10" stroke="#000" stroke-width="0.75"/>
<rect x="429.20" y="311.70" width="4.10" height="34.90" fill="#000" stroke="none" stroke-width="0.5"/>
<line x1="431.25" y1="301.30" x2="431.25" y2="311.70" stroke="#000" stroke-width="0.65"/>
<line x1="429.05" y1="301.30" x2="433.45" y2="301.30" stroke="#000" stroke-width="0.75"/>
<rect x="441.30" y="315.80" width="3.90" height="30.80" fill="#000" stroke="none" stroke-width="0.5"/>
<line x1="443.25" y1="306.50" x2="443.25" y2="315.80" stroke="#000" stroke-width="0.65"/>
<line x1="441.05" y1="306.50" x2="445.45" y2="306.50" stroke="#000" stroke-width="0.75"/>
<rect x="453.80" y="310.20" width="3.90" height="36.40" fill="#000" stroke="none" stroke-width="0.5"/>
<line x1="455.75" y1="300.20" x2="455.75" y2="310.20" stroke="#000" stroke-width="0.65"/>
<line x1="453.55" y1="300.20" x2="457.95" y2="300.20" stroke="#000" stroke-width="0.75"/>
<rect x="413.65" y="343.70" width="3.10" height="2.30" fill="#fff" stroke="#000" stroke-width="0.45"/>
<line x1="415.20" y1="342.30" x2="415.20" y2="343.70" stroke="#000" stroke-width="0.4"/>
<line x1="413.90" y1="342.30" x2="416.50" y2="342.30" stroke="#000" stroke-width="0.45"/>
<rect x="425.75" y="343.70" width="3.10" height="2.30" fill="#fff" stroke="#000" stroke-width="0.45"/>
<line x1="427.30" y1="342.30" x2="427.30" y2="343.70" stroke="#000" stroke-width="0.4"/>
<line x1="426.00" y1="342.30" x2="428.60" y2="342.30" stroke="#000" stroke-width="0.45"/>
<rect x="437.85" y="343.70" width="3.10" height="2.30" fill="#fff" stroke="#000" stroke-width="0.45"/>
<line x1="439.40" y1="342.30" x2="439.40" y2="343.70" stroke="#000" stroke-width="0.4"/>
<line x1="438.10" y1="342.30" x2="440.70" y2="342.30" stroke="#000" stroke-width="0.45"/>
<rect x="450.35" y="343.70" width="3.10" height="2.30" fill="#fff" stroke="#000" stroke-width="0.45"/>
<line x1="451.90" y1="342.30" x2="451.90" y2="343.70" stroke="#000" stroke-width="0.4"/>
<line x1="450.60" y1="342.30" x2="453.20" y2="342.30" stroke="#000" stroke-width="0.45"/>
<rect x="418.35" y="294.60" width="3.20" height="3.20" fill="#fff" stroke="#000" stroke-width="0.7"/>
<text x="422.60" y="296.20" font-size="4.7" text-anchor="start" fill="#000" stroke="#000" stroke-width="0.1" dominant-baseline="central">Control</text>
<rect x="441.40" y="294.50" width="3.40" height="3.40" fill="#000" stroke="none" stroke-width="0.5"/>
<text x="445.70" y="296.20" font-size="4.7" text-anchor="start" fill="#000" stroke="#000" stroke-width="0.1" dominant-baseline="central">IL-8</text>
<text x="417.70" y="352.30" font-size="4.0" text-anchor="middle" fill="#000" stroke="#000" stroke-width="0.15" dominant-baseline="central">–</text>
<text x="429.80" y="352.30" font-size="4.0" text-anchor="middle" fill="#000" stroke="#000" stroke-width="0.15" dominant-baseline="central">10</text>
<text x="441.90" y="352.30" font-size="4.0" text-anchor="middle" fill="#000" stroke="#000" stroke-width="0.15" dominant-baseline="central">100</text>
<text x="454.20" y="352.30" font-size="4.0" text-anchor="middle" fill="#000" stroke="#000" stroke-width="0.15" dominant-baseline="central">1000</text>
<text x="435.30" y="359.40" font-size="4.8" text-anchor="middle" dominant-baseline="central"><tspan font-weight="bold">Dasatinib</tspan> (nM)</text>
</svg></body></html>
